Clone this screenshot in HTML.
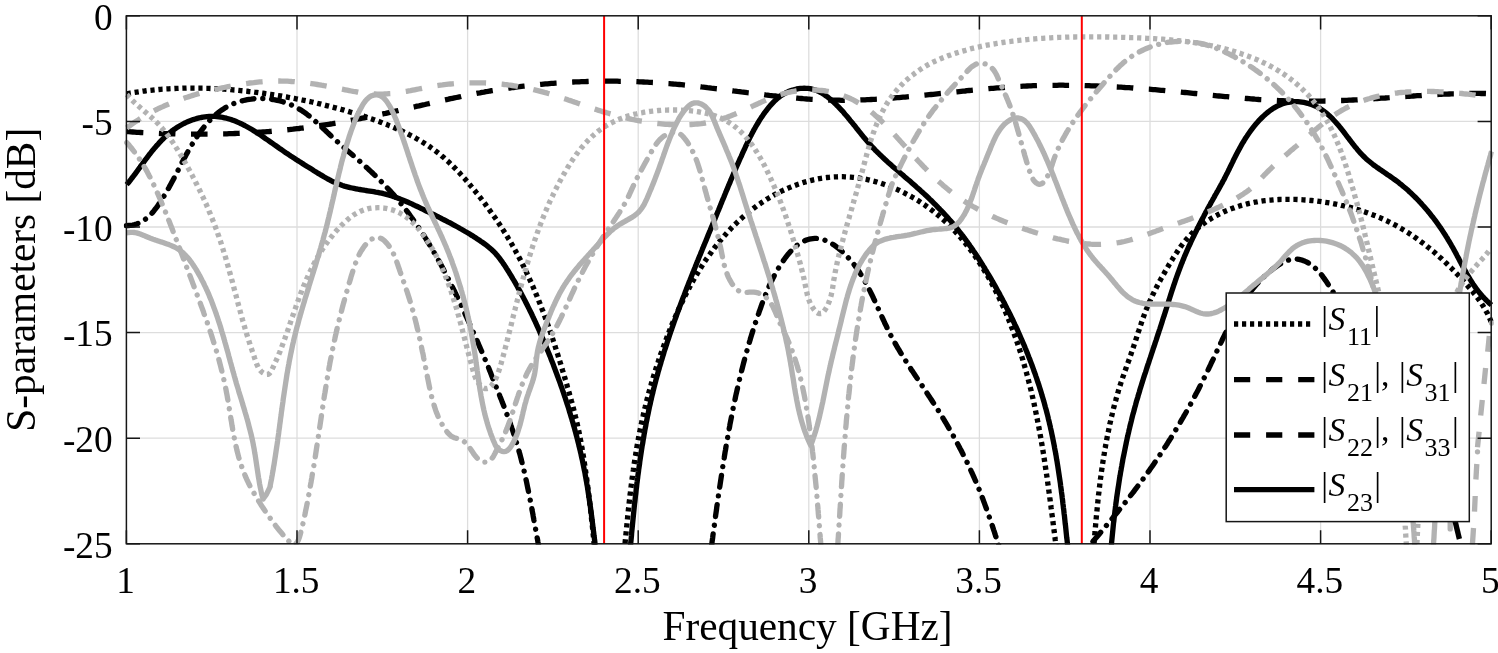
<!DOCTYPE html>
<html lang="en">
<head>
<meta charset="utf-8">
<title>S-parameters</title>
<style>
html,body{margin:0;padding:0;background:#fff;}
body{width:1498px;height:653px;overflow:hidden;}
svg{display:block;}
</style>
</head>
<body>
<svg width="1498" height="653" viewBox="0 0 1498 653">
<defs><clipPath id="pc"><rect x="123.8" y="14.8" width="1370.0" height="529.6"/></clipPath></defs>
<rect x="0" y="0" width="1498" height="653" fill="#fff"/>
<path d="M297.0 15.8V543.8 M467.6 15.8V543.8 M638.2 15.8V543.8 M808.8 15.8V543.8 M979.4 15.8V543.8 M1150.0 15.8V543.8 M1320.6 15.8V543.8 M126.4 121.4H1491.2 M126.4 227.0H1491.2 M126.4 332.6H1491.2 M126.4 438.2H1491.2" stroke="#dddddd" stroke-width="1.3" fill="none"/>
<g clip-path="url(#pc)">
<path d="M126.7 93.7 L128.7 93.4 L130.7 93.0 L132.7 92.7 L134.7 92.4 L136.7 92.1 L138.7 91.8 L140.7 91.5 L142.7 91.2 L144.7 91.0 L146.7 90.7 L148.7 90.5 L150.7 90.3 L152.7 90.1 L154.7 89.9 L156.7 89.7 L158.7 89.5 L160.7 89.3 L162.7 89.2 L164.7 89.0 L166.7 88.9 L168.7 88.8 L170.7 88.7 L172.7 88.6 L174.7 88.5 L176.7 88.4 L178.7 88.3 L180.7 88.3 L182.7 88.2 L184.7 88.2 L186.7 88.1 L188.7 88.1 L190.7 88.1 L192.7 88.1 L194.7 88.1 L196.7 88.1 L198.7 88.1 L200.7 88.2 L202.7 88.2 L204.7 88.3 L206.7 88.3 L208.7 88.4 L210.7 88.5 L212.7 88.6 L214.7 88.6 L216.7 88.7 L218.7 88.9 L220.7 89.0 L222.7 89.1 L224.7 89.2 L226.7 89.4 L228.7 89.5 L230.7 89.7 L232.7 89.9 L234.7 90.0 L236.7 90.2 L238.7 90.4 L240.7 90.6 L242.7 90.8 L244.6 91.0 L246.6 91.2 L248.6 91.5 L250.6 91.7 L252.6 91.9 L254.6 92.2 L256.6 92.4 L258.6 92.7 L260.6 92.9 L262.6 93.2 L264.6 93.5 L266.5 93.8 L268.5 94.1 L270.5 94.4 L272.5 94.7 L274.5 95.0 L276.5 95.3 L278.4 95.6 L280.4 95.9 L282.4 96.3 L284.4 96.6 L286.4 96.9 L288.3 97.3 L290.3 97.7 L292.3 98.0 L294.3 98.4 L296.2 98.8 L298.2 99.2 L300.2 99.6 L302.1 100.0 L304.1 100.4 L306.1 100.8 L308.0 101.2 L310.0 101.6 L312.0 102.0 L313.9 102.5 L315.9 102.9 L317.8 103.4 L319.8 103.8 L321.7 104.3 L323.7 104.8 L325.6 105.3 L327.6 105.8 L329.5 106.3 L331.5 106.8 L333.4 107.3 L335.4 107.8 L337.3 108.3 L339.2 108.8 L341.2 109.4 L343.1 109.9 L345.0 110.5 L347.0 111.0 L348.9 111.6 L350.8 112.2 L352.8 112.8 L354.7 113.4 L356.6 114.0 L358.5 114.6 L360.4 115.2 L362.3 115.8 L364.3 116.4 L366.2 117.1 L368.1 117.7 L370.0 118.4 L371.9 119.0 L373.8 119.7 L375.7 120.4 L377.6 121.0 L379.5 121.7 L381.3 122.4 L383.2 123.2 L385.1 123.9 L387.0 124.6 L388.8 125.4 L390.7 126.1 L392.5 126.9 L394.4 127.7 L396.2 128.5 L398.1 129.3 L399.9 130.1 L401.7 131.0 L403.5 131.8 L405.3 132.7 L407.1 133.6 L408.9 134.5 L410.6 135.4 L412.4 136.3 L414.2 137.2 L415.9 138.2 L417.6 139.2 L419.3 140.2 L421.0 141.2 L422.7 142.2 L424.4 143.3 L426.1 144.4 L427.8 145.4 L429.4 146.5 L431.0 147.7 L432.6 148.8 L434.2 150.0 L435.8 151.2 L437.4 152.4 L439.0 153.6 L440.5 154.9 L442.0 156.2 L443.6 157.4 L445.1 158.8 L446.5 160.1 L448.0 161.4 L449.5 162.8 L450.9 164.2 L452.4 165.6 L453.8 167.0 L455.2 168.4 L456.6 169.9 L458.0 171.3 L459.4 172.8 L460.7 174.3 L462.1 175.8 L463.4 177.3 L464.8 178.8 L466.1 180.3 L467.4 181.8 L468.7 183.4 L470.0 184.9 L471.3 186.5 L472.6 188.0 L473.9 189.6 L475.2 191.2 L476.4 192.8 L477.7 194.3 L478.9 195.9 L480.2 197.5 L481.4 199.1 L482.6 200.7 L483.9 202.3 L485.1 203.9 L486.3 205.6 L487.5 207.2 L488.7 208.8 L489.8 210.4 L491.0 212.1 L492.2 213.7 L493.3 215.3 L494.5 217.0 L495.6 218.6 L496.8 220.3 L497.9 222.0 L499.0 223.6 L500.1 225.3 L501.2 227.0 L502.3 228.7 L503.4 230.4 L504.4 232.1 L505.5 233.7 L506.6 235.5 L507.6 237.2 L508.6 238.9 L509.7 240.6 L510.7 242.3 L511.7 244.0 L512.7 245.8 L513.7 247.5 L514.6 249.3 L515.6 251.0 L516.5 252.8 L517.5 254.5 L518.4 256.3 L519.4 258.1 L520.3 259.8 L521.2 261.6 L522.1 263.4 L523.0 265.2 L523.9 267.0 L524.8 268.8 L525.6 270.6 L526.5 272.4 L527.3 274.2 L528.2 276.0 L529.0 277.8 L529.8 279.6 L530.7 281.5 L531.5 283.3 L532.3 285.1 L533.1 287.0 L533.9 288.8 L534.7 290.6 L535.4 292.5 L536.2 294.3 L537.0 296.2 L537.7 298.0 L538.5 299.9 L539.2 301.8 L540.0 303.6 L540.7 305.5 L541.4 307.4 L542.1 309.2 L542.9 311.1 L543.6 313.0 L544.3 314.9 L545.0 316.8 L545.6 318.6 L546.3 320.5 L547.0 322.4 L547.7 324.3 L548.4 326.2 L549.0 328.1 L549.7 330.0 L550.3 331.9 L551.0 333.8 L551.6 335.7 L552.3 337.6 L552.9 339.5 L553.5 341.4 L554.2 343.3 L554.8 345.2 L555.4 347.2 L556.0 349.1 L556.6 351.0 L557.2 352.9 L557.8 354.8 L558.4 356.7 L559.0 358.7 L559.6 360.6 L560.2 362.5 L560.8 364.4 L561.4 366.3 L562.0 368.3 L562.5 370.2 L563.1 372.1 L563.7 374.0 L564.3 375.9 L564.8 377.9 L565.4 379.8 L566.0 381.7 L566.5 383.6 L567.1 385.6 L567.6 387.5 L568.2 389.4 L568.7 391.3 L569.3 393.3 L569.8 395.2 L570.4 397.1 L570.9 399.0 L571.4 401.0 L572.0 402.9 L572.5 404.8 L573.0 406.7 L573.5 408.7 L574.0 410.6 L574.5 412.5 L575.0 414.5 L575.4 416.4 L575.9 418.4 L576.4 420.3 L576.8 422.3 L577.3 424.2 L577.7 426.2 L578.1 428.1 L578.6 430.1 L579.0 432.0 L579.4 434.0 L579.8 435.9 L580.1 437.9 L580.5 439.9 L580.9 441.8 L581.2 443.8 L581.6 445.8 L581.9 447.8 L582.3 449.7 L582.6 451.7 L582.9 453.7 L583.3 455.7 L583.6 457.7 L583.9 459.6 L584.2 461.6 L584.5 463.6 L584.8 465.6 L585.1 467.6 L585.4 469.6 L585.7 471.6 L585.9 473.6 L586.2 475.5 L586.5 477.5 L586.8 479.5 L587.0 481.5 L587.3 483.5 L587.6 485.5 L587.8 487.5 L588.1 489.5 L588.3 491.5 L588.6 493.5 L588.8 495.5 L589.1 497.5 L589.3 499.4 L589.6 501.4 L589.8 503.4 L590.1 505.4 L590.3 507.4 L590.5 509.4 L590.8 511.4 L591.0 513.4 L591.2 515.4 L591.4 517.4 L591.6 519.4 L591.9 521.4 L592.1 523.4 L592.3 525.4 L592.5 527.4 L592.7 529.4 L592.9 531.4 L593.1 533.4 L593.3 535.4 L593.5 537.3 L593.7 539.3 L593.8 541.3 L594.0 543.3 L594.2 545.3 L594.4 547.3 L594.5 549.3 L594.7 551.3 L594.9 553.3 L595.0 555.3 L595.2 557.3 L595.3 559.3 L595.5 561.3 L595.6 563.3 L595.7 565.3 L595.9 567.3 L596.0 569.3 L596.1 571.3 L596.3 573.3 L596.4 575.3 M622.1 575.3 L622.2 573.3 L622.4 571.3 L622.6 569.3 L622.8 567.3 L623.0 565.3 L623.2 563.3 L623.4 561.4 L623.6 559.4 L623.7 557.4 L623.9 555.4 L624.1 553.4 L624.3 551.4 L624.5 549.4 L624.7 547.4 L624.9 545.4 L625.1 543.4 L625.2 541.4 L625.4 539.4 L625.6 537.4 L625.8 535.4 L626.0 533.4 L626.2 531.4 L626.4 529.4 L626.6 527.4 L626.8 525.4 L627.0 523.4 L627.2 521.5 L627.4 519.5 L627.6 517.5 L627.8 515.5 L628.0 513.5 L628.2 511.5 L628.4 509.5 L628.7 507.5 L628.9 505.5 L629.1 503.5 L629.3 501.5 L629.6 499.5 L629.8 497.5 L630.0 495.5 L630.3 493.5 L630.5 491.5 L630.7 489.5 L631.0 487.5 L631.2 485.5 L631.5 483.5 L631.7 481.5 L632.0 479.5 L632.3 477.5 L632.5 475.5 L632.8 473.5 L633.1 471.6 L633.4 469.6 L633.6 467.6 L633.9 465.6 L634.2 463.6 L634.5 461.6 L634.8 459.6 L635.1 457.7 L635.5 455.7 L635.8 453.7 L636.1 451.7 L636.4 449.7 L636.8 447.8 L637.1 445.8 L637.5 443.8 L637.8 441.8 L638.2 439.9 L638.5 437.9 L638.9 435.9 L639.3 433.9 L639.7 432.0 L640.1 430.0 L640.5 428.1 L640.9 426.1 L641.3 424.1 L641.7 422.2 L642.1 420.2 L642.5 418.3 L643.0 416.3 L643.4 414.4 L643.9 412.4 L644.3 410.5 L644.8 408.5 L645.3 406.6 L645.7 404.6 L646.2 402.7 L646.7 400.8 L647.2 398.8 L647.7 396.9 L648.2 395.0 L648.7 393.0 L649.3 391.1 L649.8 389.2 L650.3 387.2 L650.9 385.3 L651.4 383.4 L652.0 381.5 L652.6 379.6 L653.1 377.7 L653.7 375.7 L654.3 373.8 L654.9 371.9 L655.5 370.0 L656.1 368.1 L656.7 366.2 L657.3 364.3 L658.0 362.4 L658.6 360.5 L659.2 358.6 L659.9 356.7 L660.5 354.8 L661.2 353.0 L661.9 351.1 L662.5 349.2 L663.2 347.3 L663.9 345.4 L664.6 343.6 L665.3 341.7 L666.0 339.8 L666.7 337.9 L667.4 336.1 L668.1 334.2 L668.9 332.4 L669.6 330.5 L670.3 328.6 L671.1 326.8 L671.8 324.9 L672.6 323.1 L673.4 321.2 L674.2 319.4 L675.0 317.6 L675.8 315.7 L676.6 313.9 L677.4 312.1 L678.2 310.2 L679.0 308.4 L679.9 306.6 L680.7 304.8 L681.6 303.0 L682.5 301.2 L683.3 299.4 L684.2 297.6 L685.1 295.8 L686.0 294.0 L686.9 292.2 L687.9 290.4 L688.8 288.6 L689.8 286.8 L690.7 285.1 L691.7 283.3 L692.7 281.5 L693.6 279.8 L694.6 278.0 L695.6 276.3 L696.7 274.6 L697.7 272.8 L698.7 271.1 L699.8 269.4 L700.9 267.7 L701.9 266.0 L703.0 264.3 L704.1 262.6 L705.2 260.9 L706.3 259.2 L707.5 257.6 L708.6 255.9 L709.8 254.3 L711.0 252.7 L712.1 251.0 L713.3 249.4 L714.5 247.8 L715.8 246.2 L717.0 244.6 L718.2 243.1 L719.5 241.5 L720.8 240.0 L722.1 238.4 L723.4 236.9 L724.7 235.4 L726.0 233.9 L727.3 232.4 L728.7 230.9 L730.1 229.5 L731.4 228.0 L732.8 226.6 L734.2 225.2 L735.7 223.8 L737.1 222.4 L738.6 221.0 L740.0 219.6 L741.5 218.3 L743.0 216.9 L744.5 215.6 L746.0 214.3 L747.6 213.0 L749.1 211.8 L750.7 210.5 L752.3 209.3 L753.9 208.1 L755.5 206.9 L757.1 205.7 L758.8 204.5 L760.5 203.4 L762.1 202.3 L763.8 201.2 L765.5 200.1 L767.2 199.0 L769.0 197.9 L770.7 196.9 L772.5 195.9 L774.2 194.9 L776.0 194.0 L777.8 193.0 L779.6 192.1 L781.4 191.2 L783.2 190.3 L785.0 189.5 L786.9 188.7 L788.7 187.9 L790.6 187.1 L792.5 186.3 L794.3 185.6 L796.2 184.9 L798.1 184.2 L800.0 183.6 L801.9 183.0 L803.8 182.4 L805.7 181.8 L807.6 181.3 L809.6 180.8 L811.5 180.3 L813.4 179.8 L815.4 179.4 L817.3 179.0 L819.3 178.6 L821.2 178.3 L823.2 178.0 L825.2 177.7 L827.1 177.5 L829.1 177.3 L831.1 177.1 L833.0 176.9 L835.0 176.8 L837.0 176.8 L838.9 176.7 L840.9 176.7 L842.9 176.7 L844.9 176.8 L846.8 176.9 L848.8 177.0 L850.8 177.1 L852.8 177.3 L854.7 177.5 L856.7 177.8 L858.7 178.0 L860.6 178.3 L862.6 178.7 L864.5 179.0 L866.5 179.4 L868.4 179.8 L870.4 180.3 L872.3 180.8 L874.3 181.3 L876.2 181.8 L878.1 182.4 L880.0 182.9 L882.0 183.6 L883.9 184.2 L885.8 184.9 L887.6 185.5 L889.5 186.3 L891.4 187.0 L893.3 187.8 L895.1 188.6 L897.0 189.4 L898.8 190.2 L900.7 191.1 L902.5 191.9 L904.3 192.8 L906.1 193.8 L907.9 194.7 L909.7 195.7 L911.5 196.7 L913.2 197.7 L915.0 198.7 L916.7 199.8 L918.4 200.8 L920.1 201.9 L921.8 203.0 L923.5 204.2 L925.2 205.3 L926.8 206.5 L928.5 207.7 L930.1 208.9 L931.7 210.1 L933.3 211.3 L934.9 212.6 L936.4 213.8 L938.0 215.1 L939.5 216.4 L941.0 217.7 L942.5 219.1 L944.0 220.4 L945.5 221.8 L947.0 223.1 L948.4 224.5 L949.8 225.9 L951.2 227.4 L952.6 228.8 L954.0 230.2 L955.4 231.7 L956.7 233.2 L958.1 234.6 L959.4 236.1 L960.7 237.6 L962.0 239.2 L963.3 240.7 L964.6 242.2 L965.8 243.8 L967.0 245.4 L968.3 247.0 L969.5 248.5 L970.7 250.1 L971.9 251.8 L973.1 253.4 L974.2 255.0 L975.4 256.7 L976.5 258.3 L977.6 260.0 L978.7 261.6 L979.8 263.3 L980.9 265.0 L982.0 266.7 L983.1 268.4 L984.1 270.1 L985.1 271.8 L986.2 273.6 L987.2 275.3 L988.2 277.0 L989.2 278.8 L990.2 280.6 L991.1 282.3 L992.1 284.1 L993.0 285.9 L994.0 287.6 L994.9 289.4 L995.8 291.2 L996.7 293.0 L997.6 294.8 L998.5 296.6 L999.4 298.5 L1000.2 300.3 L1001.1 302.1 L1001.9 303.9 L1002.7 305.8 L1003.6 307.6 L1004.4 309.4 L1005.2 311.3 L1006.0 313.1 L1006.7 315.0 L1007.5 316.8 L1008.3 318.7 L1009.0 320.5 L1009.8 322.4 L1010.5 324.2 L1011.2 326.1 L1011.9 328.0 L1012.7 329.8 L1013.4 331.7 L1014.0 333.6 L1014.7 335.5 L1015.4 337.3 L1016.1 339.2 L1016.7 341.1 L1017.4 343.0 L1018.0 344.9 L1018.6 346.8 L1019.3 348.7 L1019.9 350.6 L1020.5 352.5 L1021.1 354.4 L1021.7 356.3 L1022.3 358.2 L1022.9 360.1 L1023.4 362.0 L1024.0 364.0 L1024.5 365.9 L1025.1 367.8 L1025.6 369.7 L1026.2 371.7 L1026.7 373.6 L1027.2 375.5 L1027.7 377.4 L1028.2 379.4 L1028.7 381.3 L1029.2 383.3 L1029.7 385.2 L1030.2 387.1 L1030.7 389.1 L1031.2 391.0 L1031.6 393.0 L1032.1 394.9 L1032.5 396.9 L1033.0 398.8 L1033.4 400.8 L1033.9 402.7 L1034.3 404.7 L1034.7 406.7 L1035.1 408.6 L1035.5 410.6 L1035.9 412.5 L1036.3 414.5 L1036.7 416.5 L1037.1 418.4 L1037.5 420.4 L1037.9 422.4 L1038.3 424.3 L1038.7 426.3 L1039.0 428.3 L1039.4 430.3 L1039.8 432.2 L1040.1 434.2 L1040.5 436.2 L1040.8 438.2 L1041.2 440.2 L1041.5 442.1 L1041.8 444.1 L1042.2 446.1 L1042.5 448.1 L1042.8 450.1 L1043.2 452.1 L1043.5 454.0 L1043.8 456.0 L1044.1 458.0 L1044.4 460.0 L1044.7 462.0 L1045.0 464.0 L1045.3 466.0 L1045.6 468.0 L1045.9 470.0 L1046.2 471.9 L1046.5 473.9 L1046.8 475.9 L1047.1 477.9 L1047.4 479.9 L1047.6 481.9 L1047.9 483.9 L1048.2 485.9 L1048.5 487.9 L1048.7 489.9 L1049.0 491.9 L1049.3 493.9 L1049.6 495.9 L1049.8 497.8 L1050.1 499.8 L1050.3 501.8 L1050.6 503.8 L1050.9 505.8 L1051.1 507.8 L1051.4 509.8 L1051.6 511.8 L1051.9 513.8 L1052.2 515.8 L1052.4 517.8 L1052.7 519.8 L1052.9 521.7 L1053.2 523.7 L1053.4 525.7 L1053.7 527.7 L1054.0 529.7 L1054.2 531.7 L1054.5 533.7 L1054.7 535.7 L1055.0 537.6 L1055.2 539.6 L1055.5 541.6 L1055.7 543.6 L1056.0 545.6 L1056.2 547.6 L1056.5 549.5 L1056.8 551.5 L1057.0 553.5 L1057.3 555.5 L1057.5 557.4 L1057.8 559.4 L1058.1 561.4 L1058.3 563.4 L1058.6 565.3 L1058.9 567.3 L1059.1 569.3 L1059.4 571.2 L1059.7 573.2 L1060.0 575.2 M1091.8 575.3 L1091.9 573.3 L1092.0 571.3 L1092.2 569.3 L1092.3 567.3 L1092.5 565.3 L1092.6 563.3 L1092.8 561.3 L1092.9 559.3 L1093.0 557.3 L1093.2 555.3 L1093.3 553.3 L1093.5 551.3 L1093.6 549.3 L1093.8 547.3 L1093.9 545.3 L1094.1 543.3 L1094.2 541.3 L1094.4 539.3 L1094.6 537.3 L1094.7 535.3 L1094.9 533.3 L1095.1 531.3 L1095.2 529.3 L1095.4 527.3 L1095.6 525.3 L1095.7 523.3 L1095.9 521.3 L1096.1 519.2 L1096.3 517.2 L1096.5 515.2 L1096.7 513.2 L1096.9 511.2 L1097.1 509.2 L1097.3 507.2 L1097.5 505.2 L1097.7 503.2 L1097.9 501.2 L1098.1 499.2 L1098.3 497.2 L1098.5 495.2 L1098.8 493.2 L1099.0 491.2 L1099.2 489.2 L1099.5 487.2 L1099.7 485.2 L1099.9 483.2 L1100.2 481.3 L1100.4 479.3 L1100.7 477.3 L1101.0 475.3 L1101.2 473.3 L1101.5 471.3 L1101.8 469.3 L1102.1 467.3 L1102.4 465.3 L1102.7 463.3 L1103.0 461.3 L1103.3 459.4 L1103.6 457.4 L1103.9 455.4 L1104.3 453.4 L1104.6 451.4 L1104.9 449.4 L1105.3 447.5 L1105.6 445.5 L1106.0 443.5 L1106.3 441.5 L1106.7 439.6 L1107.1 437.6 L1107.5 435.6 L1107.9 433.7 L1108.3 431.7 L1108.7 429.7 L1109.1 427.8 L1109.5 425.8 L1109.9 423.8 L1110.4 421.9 L1110.8 419.9 L1111.2 418.0 L1111.7 416.0 L1112.2 414.1 L1112.6 412.1 L1113.1 410.2 L1113.6 408.2 L1114.1 406.3 L1114.6 404.3 L1115.1 402.4 L1115.7 400.5 L1116.2 398.5 L1116.8 396.6 L1117.3 394.7 L1117.9 392.8 L1118.4 390.8 L1119.0 388.9 L1119.6 387.0 L1120.2 385.1 L1120.8 383.2 L1121.5 381.3 L1122.1 379.4 L1122.7 377.5 L1123.4 375.6 L1124.1 373.7 L1124.7 371.8 L1125.4 369.9 L1126.1 368.0 L1126.7 366.2 L1127.4 364.3 L1128.1 362.4 L1128.8 360.5 L1129.5 358.6 L1130.1 356.7 L1130.8 354.8 L1131.4 352.9 L1132.1 351.0 L1132.7 349.1 L1133.4 347.2 L1134.0 345.3 L1134.6 343.4 L1135.3 341.5 L1135.9 339.6 L1136.5 337.7 L1137.1 335.8 L1137.7 333.9 L1138.3 332.0 L1139.0 330.1 L1139.6 328.2 L1140.2 326.3 L1140.9 324.4 L1141.5 322.5 L1142.2 320.6 L1142.8 318.7 L1143.5 316.8 L1144.2 314.9 L1144.9 313.0 L1145.6 311.2 L1146.3 309.3 L1147.1 307.5 L1147.9 305.6 L1148.6 303.8 L1149.4 301.9 L1150.3 300.1 L1151.1 298.3 L1151.9 296.5 L1152.8 294.7 L1153.7 292.9 L1154.6 291.1 L1155.5 289.3 L1156.4 287.5 L1157.3 285.7 L1158.3 283.9 L1159.2 282.2 L1160.2 280.4 L1161.1 278.6 L1162.1 276.9 L1163.1 275.1 L1164.1 273.4 L1165.1 271.6 L1166.1 269.9 L1167.1 268.1 L1168.1 266.4 L1169.1 264.6 L1170.2 262.9 L1171.2 261.2 L1172.3 259.5 L1173.3 257.7 L1174.4 256.0 L1175.5 254.3 L1176.6 252.7 L1177.7 251.0 L1178.8 249.3 L1180.0 247.7 L1181.1 246.1 L1182.3 244.5 L1183.5 242.9 L1184.8 241.4 L1186.1 239.8 L1187.4 238.3 L1188.7 236.8 L1190.1 235.4 L1191.4 233.9 L1192.9 232.5 L1194.3 231.2 L1195.8 229.8 L1197.3 228.5 L1198.9 227.2 L1200.4 226.0 L1202.0 224.7 L1203.6 223.6 L1205.3 222.4 L1206.9 221.2 L1208.6 220.1 L1210.3 219.1 L1212.0 218.0 L1213.8 217.0 L1215.5 216.0 L1217.3 215.1 L1219.1 214.1 L1220.9 213.2 L1222.7 212.4 L1224.5 211.5 L1226.4 210.7 L1228.2 210.0 L1230.1 209.2 L1231.9 208.5 L1233.8 207.9 L1235.7 207.2 L1237.6 206.6 L1239.5 206.0 L1241.4 205.4 L1243.3 204.9 L1245.3 204.4 L1247.2 203.9 L1249.2 203.4 L1251.1 203.0 L1253.1 202.6 L1255.0 202.2 L1257.0 201.9 L1259.0 201.5 L1261.0 201.2 L1262.9 200.9 L1264.9 200.7 L1266.9 200.5 L1268.9 200.2 L1270.9 200.1 L1272.9 199.9 L1275.0 199.7 L1277.0 199.6 L1279.0 199.5 L1281.0 199.4 L1283.0 199.4 L1285.1 199.3 L1287.1 199.3 L1289.1 199.3 L1291.1 199.3 L1293.2 199.4 L1295.2 199.4 L1297.2 199.5 L1299.2 199.6 L1301.3 199.7 L1303.3 199.8 L1305.3 200.0 L1307.3 200.1 L1309.4 200.3 L1311.4 200.5 L1313.4 200.7 L1315.4 200.9 L1317.4 201.2 L1319.4 201.4 L1321.4 201.7 L1323.4 202.0 L1325.4 202.3 L1327.4 202.6 L1329.4 202.9 L1331.4 203.3 L1333.4 203.7 L1335.3 204.0 L1337.3 204.4 L1339.3 204.8 L1341.2 205.3 L1343.2 205.7 L1345.1 206.2 L1347.1 206.7 L1349.0 207.2 L1351.0 207.7 L1352.9 208.2 L1354.8 208.8 L1356.7 209.3 L1358.7 209.9 L1360.6 210.5 L1362.5 211.1 L1364.4 211.7 L1366.2 212.4 L1368.1 213.1 L1370.0 213.8 L1371.9 214.5 L1373.7 215.2 L1375.6 215.9 L1377.4 216.7 L1379.3 217.4 L1381.1 218.2 L1382.9 219.0 L1384.7 219.9 L1386.5 220.7 L1388.3 221.6 L1390.1 222.5 L1391.9 223.4 L1393.7 224.3 L1395.4 225.2 L1397.2 226.2 L1398.9 227.2 L1400.7 228.2 L1402.4 229.2 L1404.1 230.2 L1405.8 231.3 L1407.5 232.3 L1409.2 233.4 L1410.9 234.5 L1412.5 235.6 L1414.2 236.8 L1415.9 237.9 L1417.5 239.1 L1419.1 240.3 L1420.7 241.5 L1422.4 242.7 L1424.0 243.9 L1425.6 245.1 L1427.1 246.4 L1428.7 247.7 L1430.3 248.9 L1431.8 250.2 L1433.4 251.5 L1434.9 252.8 L1436.4 254.2 L1438.0 255.5 L1439.5 256.9 L1441.0 258.2 L1442.4 259.6 L1443.9 261.0 L1445.4 262.4 L1446.9 263.8 L1448.3 265.2 L1449.7 266.6 L1451.2 268.0 L1452.6 269.5 L1454.0 270.9 L1455.4 272.4 L1456.8 273.8 L1458.2 275.3 L1459.6 276.8 L1460.9 278.3 L1462.3 279.8 L1463.6 281.2 L1465.0 282.7 L1466.3 284.2 L1467.6 285.7 L1468.9 287.3 L1470.2 288.8 L1471.5 290.3 L1472.8 291.8 L1474.0 293.4 L1475.3 294.9 L1476.5 296.5 L1477.7 298.1 L1478.9 299.7 L1480.0 301.3 L1481.1 302.9 L1482.2 304.6 L1483.3 306.3 L1484.3 308.0 L1485.4 309.7 L1486.3 311.5 L1487.3 313.2 L1488.2 315.0 L1489.0 316.9 L1489.9 318.7 L1490.6 320.6 L1491.4 322.6" fill="none" stroke="#000" stroke-width="5.33" stroke-linejoin="round" stroke-dasharray="4.2 3.8"/>
<path d="M126.8 131.6 L128.8 131.7 L130.8 131.9 L132.8 132.0 L134.8 132.1 L136.8 132.3 L138.8 132.4 L140.8 132.5 L142.8 132.6 L144.8 132.7 L146.8 132.8 L148.8 132.9 L150.8 133.0 L152.8 133.1 L154.8 133.2 L156.8 133.3 L158.8 133.4 L160.8 133.5 L162.8 133.6 L164.8 133.6 L166.8 133.7 L168.8 133.8 L170.9 133.8 L172.9 133.9 L174.9 133.9 L176.9 134.0 L178.9 134.0 L180.9 134.1 L182.9 134.1 L184.9 134.1 L186.9 134.2 L188.9 134.2 L190.9 134.2 L192.9 134.2 L194.9 134.2 L196.9 134.2 L198.9 134.2 L201.0 134.2 L203.0 134.2 L205.0 134.2 L207.0 134.2 L209.0 134.2 L211.0 134.2 L213.0 134.1 L215.0 134.1 L217.0 134.1 L219.0 134.0 L221.0 134.0 L223.0 133.9 L225.0 133.9 L227.0 133.8 L229.0 133.7 L231.0 133.7 L233.0 133.6 L235.0 133.5 L237.0 133.4 L239.1 133.3 L241.1 133.2 L243.1 133.2 L245.1 133.0 L247.1 132.9 L249.1 132.8 L251.1 132.7 L253.1 132.6 L255.1 132.5 L257.1 132.3 L259.1 132.2 L261.1 132.1 L263.1 131.9 L265.1 131.8 L267.1 131.6 L269.1 131.5 L271.1 131.3 L273.1 131.1 L275.0 131.0 L277.0 130.8 L279.0 130.6 L281.0 130.4 L283.0 130.2 L285.0 130.0 L287.0 129.8 L289.0 129.6 L291.0 129.4 L293.0 129.2 L295.0 128.9 L297.0 128.7 L299.0 128.5 L300.9 128.2 L302.9 128.0 L304.9 127.7 L306.9 127.5 L308.9 127.2 L310.9 127.0 L312.9 126.7 L314.9 126.4 L316.8 126.1 L318.8 125.8 L320.8 125.5 L322.8 125.2 L324.8 124.9 L326.7 124.6 L328.7 124.3 L330.7 124.0 L332.7 123.7 L334.7 123.3 L336.6 123.0 L338.6 122.7 L340.6 122.3 L342.5 122.0 L344.5 121.6 L346.5 121.2 L348.5 120.9 L350.4 120.5 L352.4 120.1 L354.4 119.8 L356.3 119.4 L358.3 119.0 L360.3 118.6 L362.2 118.2 L364.2 117.8 L366.2 117.4 L368.1 117.0 L370.1 116.6 L372.1 116.2 L374.0 115.8 L376.0 115.4 L378.0 115.0 L379.9 114.5 L381.9 114.1 L383.9 113.7 L385.8 113.3 L387.8 112.8 L389.7 112.4 L391.7 112.0 L393.7 111.5 L395.6 111.1 L397.6 110.7 L399.5 110.2 L401.5 109.8 L403.5 109.3 L405.4 108.9 L407.4 108.5 L409.3 108.0 L411.3 107.6 L413.3 107.1 L415.2 106.7 L417.2 106.2 L419.1 105.8 L421.1 105.3 L423.1 104.9 L425.0 104.5 L427.0 104.0 L428.9 103.6 L430.9 103.1 L432.9 102.7 L434.8 102.2 L436.8 101.8 L438.7 101.3 L440.7 100.9 L442.7 100.5 L444.6 100.0 L446.6 99.6 L448.6 99.2 L450.5 98.7 L452.5 98.3 L454.4 97.9 L456.4 97.5 L458.4 97.1 L460.3 96.7 L462.3 96.2 L464.3 95.8 L466.2 95.4 L468.2 95.1 L470.2 94.7 L472.1 94.3 L474.1 93.9 L476.1 93.5 L478.0 93.1 L480.0 92.8 L482.0 92.4 L484.0 92.1 L485.9 91.7 L487.9 91.4 L489.9 91.0 L491.9 90.7 L493.8 90.4 L495.8 90.1 L497.8 89.8 L499.8 89.5 L501.7 89.2 L503.7 88.9 L505.7 88.6 L507.7 88.3 L509.7 88.0 L511.6 87.7 L513.6 87.5 L515.6 87.2 L517.6 86.9 L519.6 86.7 L521.6 86.4 L523.6 86.2 L525.5 86.0 L527.5 85.7 L529.5 85.5 L531.5 85.3 L533.5 85.1 L535.5 84.9 L537.5 84.7 L539.5 84.5 L541.4 84.3 L543.4 84.1 L545.4 83.9 L547.4 83.8 L549.4 83.6 L551.4 83.4 L553.4 83.3 L555.4 83.1 L557.4 83.0 L559.4 82.9 L561.4 82.7 L563.4 82.6 L565.4 82.5 L567.4 82.4 L569.3 82.2 L571.3 82.1 L573.3 82.0 L575.3 81.9 L577.3 81.9 L579.3 81.8 L581.3 81.7 L583.3 81.6 L585.3 81.6 L587.3 81.5 L589.3 81.4 L591.3 81.4 L593.3 81.3 L595.3 81.3 L597.3 81.3 L599.3 81.2 L601.3 81.2 L603.3 81.2 L605.3 81.2 L607.3 81.2 L609.3 81.2 L611.3 81.2 L613.3 81.2 L615.3 81.2 L617.3 81.2 L619.3 81.3 L621.3 81.3 L623.3 81.3 L625.3 81.4 L627.3 81.4 L629.3 81.5 L631.3 81.5 L633.3 81.6 L635.3 81.6 L637.3 81.7 L639.3 81.8 L641.4 81.9 L643.4 82.0 L645.4 82.1 L647.4 82.2 L649.4 82.3 L651.4 82.4 L653.4 82.5 L655.4 82.6 L657.4 82.8 L659.4 82.9 L661.4 83.0 L663.4 83.2 L665.4 83.3 L667.4 83.5 L669.4 83.6 L671.4 83.8 L673.4 84.0 L675.4 84.1 L677.4 84.3 L679.4 84.5 L681.4 84.7 L683.4 84.9 L685.4 85.1 L687.4 85.3 L689.4 85.5 L691.4 85.7 L693.4 85.9 L695.4 86.2 L697.4 86.4 L699.4 86.6 L701.4 86.9 L703.4 87.1 L705.4 87.3 L707.4 87.6 L709.4 87.8 L711.4 88.1 L713.4 88.3 L715.4 88.6 L717.4 88.8 L719.4 89.1 L721.4 89.3 L723.4 89.6 L725.4 89.8 L727.4 90.1 L729.4 90.3 L731.4 90.6 L733.3 90.9 L735.3 91.1 L737.3 91.4 L739.3 91.6 L741.3 91.9 L743.3 92.1 L745.3 92.4 L747.3 92.7 L749.3 92.9 L751.3 93.2 L753.3 93.4 L755.3 93.7 L757.3 93.9 L759.3 94.2 L761.3 94.4 L763.3 94.6 L765.3 94.9 L767.3 95.1 L769.3 95.4 L771.3 95.6 L773.3 95.8 L775.3 96.0 L777.3 96.3 L779.3 96.5 L781.3 96.7 L783.3 96.9 L785.3 97.1 L787.3 97.3 L789.3 97.5 L791.3 97.7 L793.2 97.9 L795.2 98.0 L797.2 98.2 L799.2 98.4 L801.2 98.5 L803.2 98.7 L805.2 98.8 L807.2 99.0 L809.2 99.1 L811.2 99.3 L813.2 99.4 L815.2 99.5 L817.2 99.6 L819.2 99.7 L821.2 99.8 L823.2 99.9 L825.2 99.9 L827.2 100.0 L829.2 100.1 L831.2 100.1 L833.2 100.2 L835.2 100.2 L837.2 100.2 L839.2 100.2 L841.2 100.3 L843.2 100.3 L845.2 100.2 L847.2 100.2 L849.2 100.2 L851.2 100.2 L853.2 100.1 L855.1 100.1 L857.1 100.0 L859.1 100.0 L861.1 99.9 L863.1 99.8 L865.1 99.8 L867.1 99.7 L869.1 99.6 L871.1 99.5 L873.1 99.4 L875.1 99.3 L877.1 99.2 L879.1 99.0 L881.1 98.9 L883.1 98.8 L885.1 98.7 L887.1 98.5 L889.1 98.4 L891.1 98.2 L893.1 98.1 L895.1 97.9 L897.1 97.7 L899.1 97.6 L901.1 97.4 L903.1 97.2 L905.1 97.1 L907.1 96.9 L909.1 96.7 L911.1 96.5 L913.1 96.3 L915.1 96.1 L917.1 95.9 L919.1 95.7 L921.1 95.5 L923.1 95.3 L925.1 95.1 L927.1 94.9 L929.1 94.7 L931.1 94.5 L933.1 94.3 L935.1 94.1 L937.1 93.9 L939.1 93.7 L941.1 93.5 L943.1 93.3 L945.1 93.1 L947.1 92.8 L949.1 92.6 L951.1 92.4 L953.1 92.2 L955.1 92.0 L957.1 91.8 L959.1 91.6 L961.1 91.4 L963.1 91.2 L965.1 91.0 L967.1 90.7 L969.1 90.5 L971.1 90.3 L973.1 90.1 L975.1 89.9 L977.1 89.7 L979.1 89.6 L981.1 89.4 L983.1 89.2 L985.1 89.0 L987.1 88.8 L989.1 88.6 L991.1 88.4 L993.1 88.3 L995.1 88.1 L997.1 87.9 L999.1 87.8 L1001.1 87.6 L1003.1 87.5 L1005.1 87.3 L1007.1 87.2 L1009.1 87.0 L1011.1 86.9 L1013.1 86.8 L1015.1 86.6 L1017.1 86.5 L1019.1 86.4 L1021.1 86.3 L1023.1 86.2 L1025.1 86.1 L1027.1 86.0 L1029.1 85.9 L1031.1 85.8 L1033.1 85.7 L1035.1 85.7 L1037.1 85.6 L1039.1 85.5 L1041.1 85.5 L1043.1 85.4 L1045.1 85.4 L1047.1 85.4 L1049.1 85.3 L1051.1 85.3 L1053.1 85.3 L1055.1 85.3 L1057.1 85.3 L1059.1 85.2 L1061.1 85.2 L1063.1 85.2 L1065.1 85.3 L1067.1 85.3 L1069.1 85.3 L1071.1 85.3 L1073.1 85.3 L1075.1 85.4 L1077.1 85.4 L1079.1 85.4 L1081.1 85.5 L1083.1 85.5 L1085.1 85.6 L1087.1 85.6 L1089.1 85.7 L1091.1 85.8 L1093.1 85.8 L1095.1 85.9 L1097.1 86.0 L1099.1 86.1 L1101.1 86.2 L1103.1 86.3 L1105.1 86.3 L1107.1 86.4 L1109.1 86.5 L1111.1 86.6 L1113.1 86.8 L1115.1 86.9 L1117.1 87.0 L1119.1 87.1 L1121.1 87.2 L1123.1 87.3 L1125.1 87.5 L1127.1 87.6 L1129.1 87.7 L1131.1 87.9 L1133.1 88.0 L1135.1 88.2 L1137.1 88.3 L1139.1 88.5 L1141.1 88.6 L1143.1 88.8 L1145.1 88.9 L1147.1 89.1 L1149.1 89.2 L1151.1 89.4 L1153.1 89.6 L1155.1 89.7 L1157.1 89.9 L1159.1 90.1 L1161.1 90.3 L1163.1 90.4 L1165.1 90.6 L1167.1 90.8 L1169.1 91.0 L1171.1 91.2 L1173.1 91.4 L1175.1 91.5 L1177.1 91.7 L1179.1 91.9 L1181.1 92.1 L1183.1 92.3 L1185.1 92.5 L1187.1 92.7 L1189.1 92.9 L1191.1 93.1 L1193.1 93.3 L1195.1 93.5 L1197.0 93.7 L1199.0 93.9 L1201.0 94.1 L1203.0 94.3 L1205.0 94.6 L1207.0 94.8 L1209.0 95.0 L1211.0 95.2 L1213.0 95.4 L1215.0 95.6 L1217.0 95.8 L1219.0 96.0 L1221.0 96.2 L1223.0 96.4 L1225.0 96.6 L1227.0 96.7 L1229.0 96.9 L1231.0 97.1 L1233.0 97.3 L1235.0 97.5 L1237.0 97.7 L1239.0 97.9 L1241.0 98.0 L1243.0 98.2 L1245.0 98.4 L1247.0 98.5 L1249.0 98.7 L1251.0 98.9 L1253.0 99.0 L1255.0 99.2 L1257.0 99.3 L1259.0 99.5 L1261.0 99.6 L1263.0 99.7 L1265.0 99.8 L1267.0 100.0 L1269.0 100.1 L1271.0 100.2 L1273.0 100.3 L1275.0 100.4 L1277.0 100.5 L1279.0 100.6 L1281.0 100.7 L1283.0 100.7 L1285.0 100.8 L1287.0 100.9 L1289.0 100.9 L1291.0 101.0 L1293.0 101.0 L1295.0 101.1 L1297.0 101.1 L1299.0 101.1 L1301.0 101.2 L1303.0 101.2 L1305.0 101.2 L1307.0 101.2 L1309.0 101.2 L1311.0 101.2 L1313.0 101.2 L1315.0 101.2 L1317.0 101.2 L1319.0 101.1 L1321.0 101.1 L1323.0 101.1 L1325.0 101.0 L1327.0 101.0 L1329.0 100.9 L1331.0 100.9 L1333.0 100.8 L1335.0 100.8 L1337.0 100.7 L1339.0 100.6 L1341.0 100.5 L1343.0 100.5 L1345.0 100.4 L1347.0 100.3 L1349.0 100.2 L1351.0 100.1 L1353.1 100.0 L1355.1 99.9 L1357.1 99.8 L1359.1 99.6 L1361.1 99.5 L1363.1 99.4 L1365.1 99.3 L1367.1 99.2 L1369.1 99.0 L1371.1 98.9 L1373.1 98.8 L1375.1 98.6 L1377.1 98.5 L1379.1 98.4 L1381.1 98.2 L1383.1 98.1 L1385.1 98.0 L1387.1 97.8 L1389.1 97.7 L1391.1 97.5 L1393.1 97.4 L1395.1 97.2 L1397.1 97.1 L1399.1 97.0 L1401.1 96.8 L1403.1 96.7 L1405.1 96.5 L1407.1 96.4 L1409.2 96.3 L1411.2 96.1 L1413.2 96.0 L1415.2 95.8 L1417.2 95.7 L1419.2 95.6 L1421.2 95.5 L1423.2 95.3 L1425.2 95.2 L1427.2 95.1 L1429.2 95.0 L1431.2 94.8 L1433.2 94.7 L1435.2 94.6 L1437.2 94.5 L1439.2 94.4 L1441.2 94.3 L1443.2 94.2 L1445.2 94.1 L1447.2 94.1 L1449.2 94.0 L1451.2 93.9 L1453.2 93.8 L1455.2 93.8 L1457.2 93.7 L1459.2 93.6 L1461.2 93.6 L1463.2 93.6 L1465.3 93.5 L1467.3 93.5 L1469.3 93.5 L1471.3 93.4 L1473.3 93.4 L1475.3 93.4 L1477.3 93.4 L1479.3 93.4 L1481.3 93.5 L1483.3 93.5 L1485.3 93.5 L1487.3 93.6 L1489.3 93.6 L1491.3 93.7" fill="none" stroke="#000" stroke-width="5.33" stroke-linejoin="round" stroke-dasharray="16.57 15.57"/>
<path d="M126.2 225.6 L128.5 225.5 L130.6 225.4 L132.7 225.1 L134.6 224.6 L136.6 224.0 L138.4 223.3 L140.2 222.5 L141.9 221.6 L143.6 220.5 L145.1 219.4 L146.7 218.2 L148.2 216.9 L149.6 215.6 L151.0 214.1 L152.4 212.7 L153.7 211.1 L154.9 209.5 L156.2 207.9 L157.4 206.3 L158.5 204.6 L159.7 202.9 L160.8 201.2 L161.9 199.5 L162.9 197.8 L164.0 196.1 L165.0 194.4 L166.0 192.7 L167.0 191.0 L168.0 189.2 L169.0 187.5 L169.9 185.8 L170.9 184.0 L171.8 182.3 L172.8 180.5 L173.7 178.8 L174.6 177.0 L175.5 175.3 L176.4 173.5 L177.3 171.7 L178.2 170.0 L179.1 168.2 L180.0 166.5 L180.9 164.7 L181.8 162.9 L182.7 161.2 L183.7 159.4 L184.6 157.6 L185.6 155.9 L186.5 154.1 L187.5 152.4 L188.5 150.6 L189.5 148.8 L190.5 147.1 L191.5 145.3 L192.6 143.6 L193.6 141.8 L194.7 140.1 L195.8 138.4 L197.0 136.6 L198.1 134.9 L199.3 133.2 L200.5 131.6 L201.8 129.9 L203.0 128.3 L204.3 126.6 L205.6 125.0 L206.9 123.5 L208.3 122.0 L209.7 120.5 L211.1 119.0 L212.5 117.6 L214.0 116.2 L215.5 114.8 L217.1 113.5 L218.6 112.3 L220.2 111.1 L221.8 110.0 L223.5 108.9 L225.2 107.8 L226.9 106.8 L228.7 105.9 L230.4 105.1 L232.2 104.2 L234.1 103.5 L235.9 102.8 L237.8 102.1 L239.6 101.5 L241.5 101.0 L243.5 100.5 L245.4 100.1 L247.3 99.7 L249.3 99.3 L251.3 99.1 L253.2 98.8 L255.2 98.7 L257.2 98.6 L259.2 98.5 L261.2 98.5 L263.2 98.5 L265.2 98.6 L267.2 98.8 L269.2 99.0 L271.2 99.2 L273.1 99.5 L275.1 99.9 L277.1 100.3 L279.0 100.7 L281.0 101.2 L282.9 101.8 L284.8 102.4 L286.7 103.1 L288.6 103.8 L290.4 104.5 L292.2 105.3 L294.1 106.2 L295.8 107.1 L297.6 108.1 L299.3 109.1 L301.0 110.1 L302.7 111.2 L304.4 112.4 L306.0 113.5 L307.6 114.8 L309.2 116.0 L310.8 117.3 L312.3 118.6 L313.9 119.9 L315.4 121.3 L316.9 122.6 L318.4 124.0 L319.9 125.4 L321.4 126.8 L322.9 128.2 L324.4 129.6 L325.9 131.0 L327.3 132.4 L328.8 133.8 L330.3 135.2 L331.7 136.6 L333.2 138.0 L334.7 139.3 L336.2 140.7 L337.7 142.0 L339.1 143.4 L340.6 144.7 L342.1 146.0 L343.6 147.3 L345.1 148.6 L346.6 149.9 L348.1 151.2 L349.6 152.5 L351.1 153.8 L352.6 155.1 L354.1 156.4 L355.6 157.7 L357.1 159.0 L358.6 160.3 L360.1 161.6 L361.6 163.0 L363.1 164.3 L364.6 165.7 L366.1 167.0 L367.6 168.4 L369.0 169.7 L370.5 171.1 L372.0 172.5 L373.4 173.9 L374.9 175.3 L376.3 176.7 L377.8 178.1 L379.2 179.5 L380.6 180.9 L382.0 182.3 L383.4 183.8 L384.8 185.2 L386.2 186.7 L387.6 188.2 L388.9 189.6 L390.3 191.1 L391.6 192.6 L393.0 194.1 L394.3 195.6 L395.6 197.1 L396.9 198.7 L398.2 200.2 L399.4 201.7 L400.7 203.3 L402.0 204.8 L403.2 206.4 L404.4 208.0 L405.7 209.6 L406.9 211.1 L408.1 212.7 L409.3 214.3 L410.4 215.9 L411.6 217.6 L412.8 219.2 L413.9 220.8 L415.1 222.4 L416.2 224.1 L417.4 225.7 L418.5 227.4 L419.6 229.0 L420.7 230.7 L421.8 232.4 L422.9 234.1 L424.0 235.7 L425.0 237.4 L426.1 239.1 L427.1 240.8 L428.2 242.5 L429.2 244.2 L430.3 246.0 L431.3 247.7 L432.3 249.4 L433.3 251.1 L434.3 252.9 L435.3 254.6 L436.3 256.4 L437.3 258.1 L438.3 259.9 L439.2 261.6 L440.2 263.4 L441.2 265.1 L442.1 266.9 L443.1 268.7 L444.0 270.5 L444.9 272.2 L445.9 274.0 L446.8 275.8 L447.7 277.6 L448.6 279.4 L449.5 281.2 L450.4 283.0 L451.3 284.8 L452.2 286.6 L453.1 288.4 L454.0 290.2 L454.9 292.0 L455.7 293.8 L456.6 295.6 L457.5 297.4 L458.3 299.3 L459.2 301.1 L460.1 302.9 L460.9 304.7 L461.7 306.6 L462.6 308.4 L463.4 310.2 L464.3 312.0 L465.1 313.9 L465.9 315.7 L466.8 317.5 L467.6 319.4 L468.4 321.2 L469.2 323.0 L470.0 324.9 L470.9 326.7 L471.7 328.5 L472.5 330.4 L473.3 332.2 L474.1 334.0 L474.9 335.9 L475.7 337.7 L476.5 339.5 L477.3 341.4 L478.1 343.2 L478.9 345.0 L479.7 346.8 L480.5 348.7 L481.3 350.5 L482.1 352.3 L482.8 354.2 L483.6 356.0 L484.4 357.8 L485.2 359.6 L486.0 361.5 L486.7 363.3 L487.5 365.1 L488.3 367.0 L489.0 368.8 L489.7 370.7 L490.5 372.5 L491.2 374.4 L491.9 376.2 L492.7 378.1 L493.4 380.0 L494.1 381.8 L494.9 383.7 L495.6 385.5 L496.4 387.4 L497.1 389.2 L497.9 391.1 L498.6 393.0 L499.4 394.8 L500.1 396.7 L500.9 398.6 L501.6 400.4 L502.3 402.3 L503.1 404.2 L503.8 406.0 L504.5 407.9 L505.2 409.8 L505.9 411.6 L506.6 413.5 L507.3 415.4 L508.0 417.3 L508.7 419.2 L509.4 421.1 L510.1 422.9 L510.7 424.8 L511.4 426.7 L512.0 428.6 L512.7 430.5 L513.3 432.4 L513.9 434.3 L514.5 436.2 L515.2 438.1 L515.7 440.1 L516.3 442.0 L516.9 443.9 L517.5 445.8 L518.0 447.7 L518.6 449.7 L519.1 451.6 L519.7 453.5 L520.2 455.4 L520.7 457.4 L521.2 459.3 L521.7 461.3 L522.2 463.2 L522.7 465.1 L523.1 467.1 L523.6 469.0 L524.1 471.0 L524.5 472.9 L525.0 474.9 L525.4 476.8 L525.8 478.8 L526.3 480.8 L526.7 482.7 L527.1 484.7 L527.5 486.7 L527.9 488.6 L528.3 490.6 L528.7 492.5 L529.1 494.5 L529.5 496.5 L529.9 498.5 L530.3 500.4 L530.6 502.4 L531.0 504.4 L531.4 506.3 L531.8 508.3 L532.1 510.3 L532.5 512.3 L532.9 514.2 L533.2 516.2 L533.6 518.2 L533.9 520.2 L534.3 522.2 L534.7 524.1 L535.0 526.1 L535.4 528.1 L535.8 530.1 L536.1 532.0 L536.5 534.0 L536.8 536.0 L537.2 538.0 L537.6 539.9 L537.9 541.9 L538.3 543.9 L538.7 545.8 L539.1 547.8 L539.4 549.8 L539.8 551.8 L540.2 553.7 L540.6 555.7 L541.0 557.7 L541.4 559.6 L541.8 561.6 L542.2 563.5 L542.6 565.5 L543.0 567.5 L543.4 569.4 L543.8 571.4 L544.3 573.3 L544.7 575.3 M707.6 575.2 L707.8 573.2 L708.1 571.3 L708.4 569.3 L708.7 567.3 L708.9 565.3 L709.2 563.4 L709.5 561.4 L709.7 559.4 L710.0 557.4 L710.3 555.4 L710.5 553.5 L710.8 551.5 L711.1 549.5 L711.3 547.5 L711.6 545.5 L711.9 543.5 L712.1 541.6 L712.4 539.6 L712.7 537.6 L712.9 535.6 L713.2 533.6 L713.5 531.6 L713.7 529.6 L714.0 527.6 L714.3 525.7 L714.6 523.7 L714.8 521.7 L715.1 519.7 L715.4 517.7 L715.6 515.7 L715.9 513.7 L716.2 511.7 L716.5 509.7 L716.7 507.7 L717.0 505.7 L717.3 503.7 L717.6 501.8 L717.9 499.8 L718.2 497.8 L718.4 495.8 L718.7 493.8 L719.0 491.8 L719.3 489.8 L719.6 487.8 L719.9 485.8 L720.2 483.8 L720.5 481.8 L720.8 479.8 L721.1 477.8 L721.4 475.9 L721.7 473.9 L722.0 471.9 L722.3 469.9 L722.6 467.9 L722.9 465.9 L723.2 463.9 L723.5 461.9 L723.8 459.9 L724.2 457.9 L724.5 455.9 L724.8 454.0 L725.1 452.0 L725.5 450.0 L725.8 448.0 L726.1 446.0 L726.5 444.0 L726.8 442.0 L727.2 440.1 L727.5 438.1 L727.9 436.1 L728.2 434.1 L728.6 432.1 L728.9 430.1 L729.3 428.2 L729.7 426.2 L730.0 424.2 L730.4 422.2 L730.8 420.3 L731.2 418.3 L731.6 416.3 L732.0 414.3 L732.3 412.4 L732.7 410.4 L733.1 408.4 L733.5 406.4 L733.9 404.5 L734.4 402.5 L734.8 400.5 L735.2 398.6 L735.6 396.6 L736.0 394.7 L736.5 392.7 L736.9 390.7 L737.4 388.8 L737.8 386.8 L738.2 384.9 L738.7 382.9 L739.2 380.9 L739.6 379.0 L740.1 377.0 L740.6 375.1 L741.0 373.1 L741.5 371.2 L742.0 369.3 L742.5 367.3 L743.0 365.4 L743.5 363.4 L744.0 361.5 L744.5 359.6 L745.0 357.6 L745.6 355.7 L746.1 353.8 L746.6 351.8 L747.2 349.9 L747.7 348.0 L748.3 346.0 L748.8 344.1 L749.4 342.2 L750.0 340.3 L750.5 338.4 L751.1 336.5 L751.7 334.5 L752.3 332.6 L752.9 330.7 L753.5 328.8 L754.1 326.9 L754.7 325.0 L755.3 323.1 L756.0 321.2 L756.6 319.3 L757.2 317.4 L757.9 315.5 L758.6 313.6 L759.2 311.7 L759.9 309.9 L760.6 308.0 L761.2 306.1 L761.9 304.2 L762.6 302.3 L763.3 300.5 L764.0 298.6 L764.8 296.7 L765.5 294.9 L766.3 293.0 L767.0 291.2 L767.8 289.3 L768.6 287.5 L769.4 285.6 L770.2 283.8 L771.1 282.0 L772.0 280.2 L772.9 278.4 L773.8 276.5 L774.7 274.7 L775.7 273.0 L776.7 271.2 L777.7 269.4 L778.8 267.6 L779.8 265.9 L781.0 264.1 L782.1 262.4 L783.3 260.7 L784.5 259.0 L785.7 257.3 L787.0 255.6 L788.3 254.0 L789.7 252.4 L791.1 250.9 L792.5 249.4 L794.0 248.0 L795.5 246.6 L797.1 245.3 L798.7 244.1 L800.3 243.1 L802.0 242.1 L803.7 241.2 L805.5 240.4 L807.3 239.8 L809.1 239.2 L811.0 238.8 L812.9 238.6 L814.8 238.4 L816.7 238.4 L818.6 238.6 L820.5 238.9 L822.3 239.4 L824.2 239.9 L826.0 240.6 L827.8 241.5 L829.6 242.4 L831.4 243.4 L833.1 244.5 L834.8 245.6 L836.5 246.9 L838.1 248.1 L839.7 249.5 L841.3 250.8 L842.8 252.2 L844.3 253.6 L845.7 255.0 L847.1 256.5 L848.5 258.0 L849.8 259.5 L851.2 261.0 L852.4 262.5 L853.7 264.1 L854.9 265.7 L856.1 267.3 L857.2 268.9 L858.3 270.6 L859.5 272.2 L860.5 273.9 L861.6 275.6 L862.6 277.3 L863.6 279.0 L864.6 280.8 L865.6 282.5 L866.6 284.3 L867.5 286.0 L868.4 287.8 L869.3 289.6 L870.2 291.4 L871.1 293.2 L872.0 295.0 L872.9 296.9 L873.7 298.7 L874.6 300.5 L875.4 302.4 L876.3 304.2 L877.1 306.1 L877.9 307.9 L878.8 309.8 L879.6 311.6 L880.4 313.5 L881.3 315.3 L882.1 317.1 L882.9 319.0 L883.8 320.8 L884.6 322.7 L885.5 324.5 L886.4 326.3 L887.2 328.2 L888.1 330.0 L889.0 331.8 L889.9 333.6 L890.8 335.4 L891.8 337.1 L892.7 338.9 L893.7 340.7 L894.7 342.4 L895.6 344.2 L896.6 345.9 L897.6 347.7 L898.7 349.4 L899.7 351.1 L900.7 352.8 L901.8 354.6 L902.8 356.3 L903.9 358.0 L904.9 359.7 L906.0 361.3 L907.1 363.0 L908.2 364.7 L909.3 366.4 L910.4 368.1 L911.4 369.8 L912.6 371.4 L913.7 373.1 L914.8 374.8 L915.9 376.4 L917.0 378.1 L918.1 379.8 L919.2 381.4 L920.3 383.1 L921.5 384.8 L922.6 386.4 L923.7 388.1 L924.8 389.8 L925.9 391.4 L927.0 393.1 L928.1 394.8 L929.2 396.4 L930.3 398.1 L931.4 399.8 L932.5 401.5 L933.6 403.2 L934.7 404.9 L935.8 406.6 L936.8 408.2 L937.9 409.9 L939.0 411.6 L940.0 413.4 L941.1 415.1 L942.1 416.8 L943.2 418.5 L944.2 420.2 L945.2 421.9 L946.3 423.7 L947.3 425.4 L948.3 427.1 L949.3 428.9 L950.3 430.6 L951.3 432.3 L952.3 434.1 L953.3 435.8 L954.2 437.6 L955.2 439.4 L956.2 441.1 L957.1 442.9 L958.1 444.7 L959.0 446.4 L959.9 448.2 L960.9 450.0 L961.8 451.8 L962.7 453.6 L963.6 455.3 L964.5 457.1 L965.4 458.9 L966.3 460.7 L967.2 462.5 L968.0 464.4 L968.9 466.2 L969.7 468.0 L970.6 469.8 L971.4 471.6 L972.3 473.5 L973.1 475.3 L973.9 477.1 L974.7 479.0 L975.5 480.8 L976.3 482.6 L977.1 484.5 L977.9 486.3 L978.6 488.2 L979.4 490.1 L980.1 491.9 L980.9 493.8 L981.6 495.7 L982.3 497.5 L983.0 499.4 L983.7 501.3 L984.4 503.2 L985.1 505.1 L985.8 507.0 L986.5 508.9 L987.1 510.8 L987.8 512.7 L988.5 514.6 L989.1 516.5 L989.8 518.4 L990.4 520.3 L991.1 522.2 L991.7 524.1 L992.4 526.0 L993.0 527.9 L993.6 529.8 L994.3 531.7 L994.9 533.6 L995.5 535.6 L996.2 537.5 L996.8 539.4 L997.4 541.3 L998.1 543.2 L998.7 545.1 L999.4 547.0 L1000.0 548.9 L1000.7 550.8 L1001.3 552.7 L1002.0 554.6 L1002.6 556.5 L1003.3 558.4 L1004.0 560.3 L1004.7 562.1 L1005.4 564.0 L1006.1 565.9 L1006.8 567.8 L1007.5 569.7 L1008.2 571.5 L1008.9 573.4 L1009.7 575.2 M1073.5 563.7 L1074.8 562.2 L1076.2 560.7 L1077.5 559.2 L1078.8 557.6 L1080.1 556.1 L1081.4 554.6 L1082.8 553.1 L1084.1 551.6 L1085.4 550.1 L1086.7 548.6 L1088.0 547.1 L1089.4 545.5 L1090.7 544.0 L1092.0 542.5 L1093.3 541.0 L1094.6 539.5 L1095.9 537.9 L1097.2 536.4 L1098.5 534.9 L1099.8 533.4 L1101.1 531.8 L1102.4 530.3 L1103.7 528.8 L1105.0 527.2 L1106.3 525.7 L1107.6 524.1 L1108.8 522.6 L1110.1 521.1 L1111.4 519.5 L1112.7 518.0 L1114.0 516.4 L1115.2 514.9 L1116.5 513.3 L1117.8 511.7 L1119.0 510.2 L1120.3 508.6 L1121.5 507.1 L1122.8 505.5 L1124.0 503.9 L1125.3 502.4 L1126.5 500.8 L1127.8 499.2 L1129.0 497.6 L1130.2 496.0 L1131.5 494.4 L1132.7 492.9 L1133.9 491.3 L1135.1 489.7 L1136.3 488.1 L1137.5 486.5 L1138.7 484.9 L1139.9 483.3 L1141.1 481.7 L1142.3 480.0 L1143.5 478.4 L1144.7 476.8 L1145.9 475.2 L1147.0 473.6 L1148.2 471.9 L1149.4 470.3 L1150.5 468.6 L1151.7 467.0 L1152.8 465.4 L1154.0 463.7 L1155.1 462.1 L1156.2 460.4 L1157.4 458.7 L1158.5 457.1 L1159.6 455.4 L1160.7 453.7 L1161.8 452.1 L1162.9 450.4 L1164.0 448.7 L1165.1 447.0 L1166.2 445.4 L1167.3 443.7 L1168.3 442.0 L1169.4 440.3 L1170.5 438.6 L1171.5 436.9 L1172.6 435.2 L1173.6 433.5 L1174.7 431.8 L1175.7 430.0 L1176.8 428.3 L1177.8 426.6 L1178.8 424.9 L1179.8 423.2 L1180.8 421.4 L1181.8 419.7 L1182.8 418.0 L1183.8 416.2 L1184.8 414.5 L1185.8 412.8 L1186.8 411.0 L1187.7 409.3 L1188.7 407.5 L1189.7 405.8 L1190.6 404.1 L1191.6 402.3 L1192.5 400.5 L1193.5 398.8 L1194.4 397.0 L1195.3 395.3 L1196.2 393.5 L1197.2 391.7 L1198.1 390.0 L1199.0 388.2 L1199.9 386.4 L1200.8 384.6 L1201.7 382.9 L1202.6 381.1 L1203.5 379.3 L1204.4 377.5 L1205.3 375.7 L1206.1 373.9 L1207.0 372.1 L1207.9 370.3 L1208.8 368.5 L1209.6 366.7 L1210.5 364.9 L1211.3 363.0 L1212.2 361.2 L1213.1 359.4 L1213.9 357.6 L1214.8 355.7 L1215.6 353.9 L1216.5 352.1 L1217.3 350.2 L1218.2 348.4 L1219.1 346.6 L1219.9 344.7 L1220.8 342.9 L1221.7 341.1 L1222.5 339.2 L1223.4 337.4 L1224.3 335.6 L1225.2 333.8 L1226.1 331.9 L1227.0 330.1 L1227.9 328.3 L1228.8 326.5 L1229.7 324.7 L1230.7 322.9 L1231.6 321.2 L1232.6 319.4 L1233.6 317.6 L1234.6 315.9 L1235.6 314.1 L1236.6 312.4 L1237.6 310.7 L1238.6 308.9 L1239.7 307.2 L1240.7 305.5 L1241.8 303.8 L1242.9 302.2 L1244.0 300.5 L1245.2 298.9 L1246.3 297.2 L1247.5 295.6 L1248.7 294.0 L1249.9 292.4 L1251.1 290.9 L1252.4 289.3 L1253.6 287.8 L1254.9 286.2 L1256.2 284.7 L1257.6 283.2 L1259.0 281.8 L1260.3 280.3 L1261.8 278.9 L1263.2 277.5 L1264.7 276.1 L1266.1 274.7 L1267.7 273.3 L1269.2 272.0 L1270.8 270.7 L1272.4 269.4 L1274.0 268.2 L1275.7 266.9 L1277.4 265.8 L1279.1 264.6 L1280.8 263.6 L1282.6 262.6 L1284.3 261.7 L1286.1 260.9 L1287.9 260.3 L1289.8 259.7 L1291.6 259.3 L1293.5 259.1 L1295.3 259.0 L1297.2 259.1 L1299.1 259.4 L1300.9 259.8 L1302.8 260.4 L1304.6 261.1 L1306.4 261.9 L1308.2 262.9 L1309.9 263.9 L1311.6 265.1 L1313.2 266.3 L1314.7 267.6 L1316.2 269.0 L1317.7 270.5 L1319.1 272.0 L1320.4 273.5 L1321.7 275.1 L1322.9 276.7 L1324.1 278.4 L1325.3 280.1 L1326.5 281.8 L1327.6 283.5 L1328.7 285.3 L1329.9 287.0 L1331.0 288.7 L1332.1 290.4 L1333.2 292.2 L1334.3 293.9 L1335.5 295.6 L1336.6 297.2 L1337.7 298.9 L1338.8 300.6 L1339.9 302.3 L1341.0 304.0 L1342.2 305.6 L1343.3 307.3 L1344.4 309.0 L1345.5 310.6 L1346.6 312.3 L1347.7 313.9 L1348.8 315.6 L1349.9 317.3 L1351.0 318.9 L1352.1 320.6 L1353.2 322.2 L1354.2 323.9 L1355.3 325.5 L1356.4 327.2 L1357.5 328.9 L1358.6 330.5 L1359.6 332.2 L1360.7 333.9 L1361.7 335.6 L1362.8 337.3 L1363.9 338.9 L1364.9 340.6 L1365.9 342.3 L1367.0 344.0 L1368.0 345.7 L1369.1 347.4 L1370.1 349.1 L1371.1 350.9 L1372.1 352.6 L1373.2 354.3 L1374.2 356.0 L1375.2 357.7 L1376.2 359.5 L1377.2 361.2 L1378.2 362.9 L1379.2 364.7 L1380.2 366.4 L1381.2 368.2 L1382.2 369.9 L1383.1 371.7 L1384.1 373.4 L1385.1 375.2 L1386.1 376.9 L1387.0 378.7 L1388.0 380.5 L1389.0 382.2 L1389.9 384.0 L1390.9 385.8 L1391.8 387.6 L1392.8 389.3 L1393.7 391.1 L1394.7 392.9 L1395.6 394.7 L1396.5 396.5 L1397.5 398.2 L1398.4 400.0 L1399.3 401.8 L1400.3 403.6 L1401.2 405.4 L1402.1 407.2 L1403.0 409.0 L1403.9 410.8 L1404.8 412.6 L1405.7 414.4 L1406.6 416.2 L1407.5 418.0 L1408.4 419.8 L1409.3 421.6 L1410.2 423.4 L1411.1 425.2 L1412.0 427.0 L1412.9 428.8 L1413.8 430.7 L1414.7 432.5 L1415.5 434.3 L1416.4 436.1 L1417.3 437.9 L1418.2 439.7 L1419.0 441.5 L1419.9 443.4 L1420.8 445.2 L1421.6 447.0 L1422.5 448.8 L1423.3 450.6 L1424.2 452.4 L1425.0 454.3 L1425.9 456.1 L1426.7 457.9 L1427.6 459.7 L1428.4 461.5 L1429.3 463.3 L1430.1 465.2 L1431.0 467.0 L1431.8 468.8 L1432.6 470.6 L1433.5 472.4 L1434.3 474.2 L1435.1 476.1 L1435.9 477.9 L1436.8 479.7 L1437.6 481.5 L1438.4 483.3 L1439.2 485.1 L1440.1 486.9" fill="none" stroke="#000" stroke-width="5.33" stroke-linejoin="round" stroke-linecap="round" stroke-dasharray="12 8.8 0.01 8.8"/>
<path d="M126.7 184.7 L127.9 183.2 L129.2 181.7 L130.4 180.1 L131.6 178.5 L132.8 177.0 L134.0 175.4 L135.2 173.8 L136.4 172.2 L137.6 170.5 L138.7 168.9 L139.9 167.3 L141.1 165.6 L142.3 164.0 L143.5 162.4 L144.7 160.7 L145.9 159.1 L147.2 157.5 L148.4 155.8 L149.6 154.2 L150.9 152.6 L152.1 151.0 L153.4 149.5 L154.7 147.9 L156.0 146.4 L157.4 144.9 L158.7 143.4 L160.1 141.9 L161.5 140.4 L162.9 139.0 L164.3 137.6 L165.8 136.2 L167.3 134.9 L168.8 133.6 L170.3 132.3 L171.9 131.0 L173.5 129.8 L175.2 128.7 L176.9 127.6 L178.6 126.5 L180.3 125.5 L182.1 124.5 L183.9 123.5 L185.7 122.6 L187.6 121.8 L189.5 121.0 L191.4 120.3 L193.3 119.6 L195.3 119.0 L197.2 118.4 L199.2 117.9 L201.1 117.5 L203.1 117.2 L205.1 116.9 L207.1 116.6 L209.0 116.5 L211.0 116.4 L213.0 116.4 L214.9 116.4 L216.8 116.6 L218.8 116.8 L220.7 117.0 L222.6 117.4 L224.5 117.8 L226.4 118.2 L228.2 118.7 L230.1 119.3 L232.0 119.9 L233.8 120.6 L235.7 121.3 L237.5 122.1 L239.3 122.9 L241.1 123.7 L242.9 124.6 L244.7 125.5 L246.5 126.5 L248.3 127.5 L250.1 128.5 L251.9 129.6 L253.6 130.6 L255.4 131.7 L257.1 132.9 L258.9 134.0 L260.6 135.1 L262.3 136.3 L264.0 137.5 L265.7 138.7 L267.5 139.9 L269.1 141.0 L270.8 142.2 L272.5 143.4 L274.2 144.6 L275.9 145.8 L277.6 147.0 L279.2 148.2 L280.9 149.3 L282.5 150.4 L284.2 151.6 L285.8 152.7 L287.5 153.8 L289.1 154.9 L290.7 156.0 L292.4 157.0 L294.0 158.1 L295.7 159.2 L297.3 160.2 L298.9 161.3 L300.6 162.3 L302.2 163.4 L303.9 164.4 L305.5 165.4 L307.2 166.5 L308.9 167.5 L310.6 168.6 L312.2 169.6 L313.9 170.7 L315.6 171.7 L317.3 172.8 L319.1 173.8 L320.8 174.9 L322.5 175.9 L324.3 177.0 L326.1 178.0 L327.8 179.0 L329.6 179.9 L331.4 180.9 L333.2 181.8 L335.1 182.6 L336.9 183.4 L338.8 184.1 L340.6 184.8 L342.5 185.5 L344.4 186.1 L346.3 186.6 L348.2 187.1 L350.2 187.6 L352.1 188.0 L354.1 188.4 L356.0 188.8 L358.0 189.2 L359.9 189.5 L361.9 189.8 L363.9 190.1 L365.8 190.5 L367.8 190.8 L369.8 191.1 L371.8 191.4 L373.7 191.7 L375.7 192.1 L377.7 192.4 L379.6 192.8 L381.6 193.2 L383.5 193.7 L385.4 194.1 L387.4 194.7 L389.3 195.2 L391.2 195.8 L393.1 196.4 L395.0 197.1 L396.9 197.7 L398.8 198.4 L400.6 199.2 L402.5 199.9 L404.4 200.7 L406.2 201.5 L408.1 202.3 L409.9 203.1 L411.8 203.9 L413.6 204.8 L415.4 205.7 L417.3 206.5 L419.1 207.4 L420.9 208.3 L422.7 209.2 L424.5 210.1 L426.3 211.0 L428.2 211.9 L430.0 212.8 L431.8 213.7 L433.6 214.5 L435.4 215.4 L437.2 216.3 L438.9 217.2 L440.7 218.1 L442.5 219.1 L444.3 220.0 L446.1 220.9 L447.8 221.8 L449.6 222.7 L451.4 223.7 L453.1 224.6 L454.9 225.6 L456.6 226.5 L458.4 227.5 L460.1 228.5 L461.9 229.5 L463.6 230.5 L465.3 231.5 L467.1 232.5 L468.8 233.5 L470.5 234.6 L472.2 235.6 L473.9 236.7 L475.6 237.8 L477.3 238.9 L479.0 240.0 L480.6 241.2 L482.3 242.3 L484.0 243.5 L485.6 244.7 L487.2 245.9 L488.8 247.2 L490.3 248.5 L491.8 249.8 L493.3 251.2 L494.7 252.6 L496.0 254.1 L497.4 255.6 L498.6 257.1 L499.8 258.7 L501.0 260.3 L502.2 261.9 L503.3 263.6 L504.5 265.3 L505.6 266.9 L506.6 268.6 L507.7 270.3 L508.8 272.0 L509.8 273.7 L510.9 275.4 L511.9 277.2 L512.9 278.9 L514.0 280.6 L515.0 282.3 L516.0 284.1 L517.0 285.8 L517.9 287.6 L518.9 289.3 L519.9 291.1 L520.8 292.8 L521.8 294.6 L522.7 296.4 L523.7 298.2 L524.6 299.9 L525.5 301.7 L526.4 303.5 L527.3 305.3 L528.2 307.1 L529.1 308.9 L530.0 310.7 L530.9 312.5 L531.8 314.3 L532.6 316.1 L533.5 318.0 L534.3 319.8 L535.2 321.6 L536.0 323.4 L536.8 325.3 L537.7 327.1 L538.5 328.9 L539.3 330.8 L540.1 332.6 L540.9 334.5 L541.7 336.3 L542.5 338.1 L543.3 340.0 L544.1 341.8 L544.8 343.7 L545.6 345.6 L546.4 347.4 L547.1 349.3 L547.9 351.1 L548.7 353.0 L549.4 354.9 L550.2 356.7 L550.9 358.6 L551.6 360.5 L552.4 362.3 L553.1 364.2 L553.8 366.1 L554.5 368.0 L555.2 369.9 L555.9 371.7 L556.6 373.6 L557.3 375.5 L558.0 377.4 L558.7 379.3 L559.4 381.2 L560.1 383.0 L560.7 384.9 L561.4 386.8 L562.1 388.7 L562.7 390.6 L563.4 392.5 L564.0 394.4 L564.6 396.3 L565.3 398.2 L565.9 400.1 L566.5 402.0 L567.1 403.9 L567.8 405.9 L568.4 407.8 L569.0 409.7 L569.5 411.6 L570.1 413.5 L570.7 415.4 L571.3 417.4 L571.9 419.3 L572.4 421.2 L573.0 423.1 L573.5 425.1 L574.1 427.0 L574.6 428.9 L575.1 430.8 L575.7 432.8 L576.2 434.7 L576.7 436.7 L577.2 438.6 L577.7 440.5 L578.2 442.5 L578.7 444.4 L579.1 446.4 L579.6 448.3 L580.1 450.3 L580.5 452.2 L581.0 454.2 L581.4 456.1 L581.8 458.1 L582.3 460.0 L582.7 462.0 L583.1 464.0 L583.5 465.9 L583.9 467.9 L584.3 469.9 L584.7 471.8 L585.1 473.8 L585.4 475.8 L585.8 477.8 L586.1 479.7 L586.5 481.7 L586.8 483.7 L587.2 485.7 L587.5 487.7 L587.8 489.6 L588.1 491.6 L588.4 493.6 L588.7 495.6 L589.0 497.6 L589.3 499.6 L589.6 501.6 L589.9 503.6 L590.2 505.6 L590.5 507.6 L590.7 509.6 L591.0 511.5 L591.3 513.5 L591.5 515.5 L591.8 517.5 L592.0 519.5 L592.3 521.5 L592.5 523.5 L592.8 525.5 L593.0 527.5 L593.3 529.5 L593.5 531.5 L593.8 533.5 L594.0 535.5 L594.3 537.5 L594.5 539.5 L594.8 541.5 L595.0 543.5 L595.2 545.5 L595.5 547.5 L595.7 549.5 L596.0 551.5 L596.2 553.5 L596.5 555.4 L596.7 557.4 L597.0 559.4 L597.2 561.4 L597.5 563.4 L597.8 565.4 L598.0 567.4 L598.3 569.3 L598.6 571.3 L598.8 573.3 L599.1 575.3 M627.9 575.2 L628.1 573.2 L628.2 571.3 L628.4 569.3 L628.6 567.3 L628.8 565.3 L628.9 563.3 L629.1 561.3 L629.3 559.4 L629.5 557.4 L629.6 555.4 L629.8 553.4 L630.0 551.4 L630.2 549.4 L630.4 547.4 L630.5 545.4 L630.7 543.4 L630.9 541.4 L631.1 539.4 L631.3 537.5 L631.5 535.5 L631.6 533.5 L631.8 531.5 L632.0 529.5 L632.2 527.5 L632.4 525.5 L632.6 523.5 L632.8 521.5 L633.0 519.5 L633.2 517.5 L633.4 515.5 L633.6 513.5 L633.8 511.5 L634.0 509.5 L634.2 507.5 L634.4 505.5 L634.6 503.5 L634.9 501.5 L635.1 499.5 L635.3 497.5 L635.5 495.5 L635.8 493.5 L636.0 491.5 L636.2 489.5 L636.5 487.5 L636.7 485.5 L636.9 483.5 L637.2 481.6 L637.4 479.6 L637.7 477.6 L637.9 475.6 L638.2 473.6 L638.5 471.6 L638.7 469.6 L639.0 467.6 L639.3 465.6 L639.6 463.6 L639.8 461.6 L640.1 459.6 L640.4 457.7 L640.7 455.7 L641.0 453.7 L641.3 451.7 L641.6 449.7 L641.9 447.7 L642.2 445.7 L642.6 443.8 L642.9 441.8 L643.2 439.8 L643.6 437.8 L643.9 435.9 L644.2 433.9 L644.6 431.9 L644.9 429.9 L645.3 428.0 L645.7 426.0 L646.0 424.0 L646.4 422.0 L646.8 420.1 L647.2 418.1 L647.6 416.1 L648.0 414.2 L648.4 412.2 L648.8 410.3 L649.2 408.3 L649.6 406.3 L650.1 404.4 L650.5 402.4 L650.9 400.5 L651.4 398.5 L651.8 396.6 L652.3 394.6 L652.8 392.7 L653.2 390.7 L653.7 388.8 L654.2 386.9 L654.7 384.9 L655.2 383.0 L655.7 381.0 L656.2 379.1 L656.7 377.2 L657.3 375.2 L657.8 373.3 L658.3 371.4 L658.9 369.5 L659.4 367.5 L660.0 365.6 L660.6 363.7 L661.1 361.8 L661.7 359.9 L662.3 357.9 L662.9 356.0 L663.5 354.1 L664.0 352.2 L664.6 350.3 L665.3 348.4 L665.9 346.5 L666.5 344.6 L667.1 342.7 L667.7 340.8 L668.4 338.9 L669.0 337.0 L669.6 335.1 L670.3 333.2 L670.9 331.3 L671.6 329.4 L672.2 327.5 L672.9 325.6 L673.6 323.7 L674.2 321.8 L674.9 319.9 L675.6 318.1 L676.3 316.2 L676.9 314.3 L677.6 312.4 L678.3 310.5 L679.0 308.6 L679.7 306.8 L680.4 304.9 L681.1 303.0 L681.8 301.1 L682.5 299.2 L683.2 297.4 L684.0 295.5 L684.7 293.6 L685.4 291.7 L686.1 289.9 L686.8 288.0 L687.6 286.1 L688.3 284.3 L689.0 282.4 L689.8 280.5 L690.5 278.7 L691.3 276.8 L692.0 274.9 L692.7 273.1 L693.5 271.2 L694.2 269.3 L695.0 267.5 L695.7 265.6 L696.5 263.8 L697.2 261.9 L698.0 260.0 L698.7 258.2 L699.5 256.3 L700.3 254.5 L701.0 252.6 L701.8 250.7 L702.5 248.9 L703.3 247.0 L704.1 245.2 L704.8 243.3 L705.6 241.5 L706.4 239.6 L707.1 237.8 L707.9 235.9 L708.6 234.0 L709.4 232.2 L710.2 230.3 L710.9 228.5 L711.7 226.6 L712.5 224.8 L713.2 222.9 L714.0 221.1 L714.8 219.2 L715.5 217.4 L716.3 215.5 L717.0 213.7 L717.8 211.8 L718.6 210.0 L719.3 208.1 L720.1 206.3 L720.8 204.4 L721.6 202.6 L722.3 200.7 L723.1 198.9 L723.9 197.0 L724.6 195.2 L725.4 193.3 L726.1 191.5 L726.9 189.6 L727.7 187.8 L728.4 185.9 L729.2 184.1 L730.0 182.3 L730.7 180.4 L731.5 178.6 L732.3 176.7 L733.1 174.9 L733.9 173.1 L734.6 171.2 L735.4 169.4 L736.2 167.5 L737.0 165.7 L737.8 163.9 L738.6 162.1 L739.4 160.2 L740.2 158.4 L741.1 156.6 L741.9 154.7 L742.7 152.9 L743.5 151.1 L744.4 149.3 L745.2 147.5 L746.0 145.7 L746.9 143.8 L747.8 142.0 L748.6 140.2 L749.5 138.4 L750.4 136.6 L751.3 134.9 L752.2 133.1 L753.2 131.3 L754.1 129.5 L755.1 127.8 L756.1 126.0 L757.1 124.3 L758.2 122.5 L759.2 120.8 L760.3 119.1 L761.4 117.4 L762.6 115.7 L763.7 114.1 L764.9 112.4 L766.2 110.8 L767.4 109.1 L768.7 107.5 L770.0 105.9 L771.4 104.4 L772.8 102.9 L774.2 101.4 L775.7 100.0 L777.2 98.6 L778.8 97.3 L780.4 96.1 L782.1 95.0 L783.8 94.0 L785.5 93.0 L787.3 92.1 L789.1 91.3 L791.0 90.6 L792.8 90.0 L794.7 89.5 L796.6 89.0 L798.5 88.7 L800.4 88.4 L802.3 88.3 L804.2 88.2 L806.1 88.3 L808.0 88.4 L809.9 88.7 L811.7 89.0 L813.6 89.5 L815.4 90.1 L817.2 90.8 L819.0 91.6 L820.8 92.5 L822.5 93.5 L824.2 94.6 L825.8 95.7 L827.5 96.9 L829.1 98.2 L830.7 99.5 L832.2 100.9 L833.8 102.3 L835.3 103.7 L836.7 105.2 L838.2 106.6 L839.6 108.1 L841.0 109.6 L842.4 111.1 L843.7 112.6 L845.0 114.2 L846.4 115.7 L847.7 117.2 L848.9 118.8 L850.2 120.4 L851.5 121.9 L852.8 123.5 L854.0 125.1 L855.3 126.6 L856.5 128.2 L857.8 129.8 L859.0 131.3 L860.3 132.9 L861.5 134.5 L862.8 136.0 L864.0 137.6 L865.3 139.1 L866.6 140.6 L867.9 142.1 L869.2 143.6 L870.6 145.1 L871.9 146.6 L873.3 148.0 L874.7 149.4 L876.0 150.9 L877.5 152.3 L878.9 153.7 L880.3 155.1 L881.8 156.4 L883.2 157.8 L884.7 159.2 L886.1 160.5 L887.6 161.9 L889.1 163.2 L890.6 164.5 L892.1 165.9 L893.6 167.2 L895.1 168.5 L896.7 169.8 L898.2 171.1 L899.7 172.4 L901.2 173.7 L902.8 175.0 L904.3 176.4 L905.8 177.7 L907.3 179.0 L908.9 180.3 L910.4 181.6 L911.9 182.9 L913.4 184.2 L914.9 185.5 L916.4 186.9 L917.9 188.2 L919.4 189.5 L920.9 190.9 L922.4 192.2 L923.9 193.6 L925.4 195.0 L926.8 196.3 L928.3 197.7 L929.7 199.1 L931.2 200.5 L932.6 201.9 L934.0 203.3 L935.4 204.7 L936.8 206.1 L938.2 207.6 L939.6 209.0 L941.0 210.5 L942.4 211.9 L943.8 213.4 L945.1 214.8 L946.5 216.3 L947.8 217.8 L949.1 219.3 L950.5 220.8 L951.8 222.3 L953.1 223.8 L954.3 225.3 L955.6 226.9 L956.9 228.4 L958.1 230.0 L959.4 231.6 L960.6 233.1 L961.8 234.7 L963.1 236.3 L964.3 237.9 L965.5 239.5 L966.6 241.1 L967.8 242.7 L969.0 244.4 L970.1 246.0 L971.3 247.6 L972.4 249.3 L973.5 251.0 L974.7 252.6 L975.8 254.3 L976.9 256.0 L978.0 257.6 L979.1 259.3 L980.1 261.0 L981.2 262.7 L982.3 264.4 L983.3 266.1 L984.4 267.8 L985.4 269.6 L986.5 271.3 L987.5 273.0 L988.5 274.7 L989.6 276.5 L990.6 278.2 L991.6 279.9 L992.6 281.7 L993.6 283.4 L994.6 285.2 L995.6 286.9 L996.6 288.7 L997.5 290.4 L998.5 292.2 L999.5 293.9 L1000.4 295.7 L1001.4 297.5 L1002.3 299.2 L1003.2 301.0 L1004.2 302.8 L1005.1 304.6 L1006.0 306.4 L1006.9 308.2 L1007.8 309.9 L1008.7 311.7 L1009.6 313.5 L1010.5 315.3 L1011.4 317.1 L1012.3 318.9 L1013.1 320.8 L1014.0 322.6 L1014.8 324.4 L1015.7 326.2 L1016.5 328.0 L1017.4 329.8 L1018.2 331.7 L1019.0 333.5 L1019.8 335.3 L1020.6 337.2 L1021.4 339.0 L1022.2 340.8 L1023.0 342.7 L1023.8 344.5 L1024.6 346.4 L1025.3 348.2 L1026.1 350.1 L1026.8 351.9 L1027.6 353.8 L1028.3 355.7 L1029.0 357.5 L1029.8 359.4 L1030.5 361.3 L1031.2 363.1 L1031.9 365.0 L1032.6 366.9 L1033.3 368.8 L1033.9 370.7 L1034.6 372.5 L1035.3 374.4 L1035.9 376.3 L1036.6 378.2 L1037.2 380.1 L1037.8 382.0 L1038.5 383.9 L1039.1 385.8 L1039.7 387.7 L1040.3 389.6 L1040.9 391.5 L1041.5 393.5 L1042.0 395.4 L1042.6 397.3 L1043.2 399.2 L1043.7 401.1 L1044.3 403.1 L1044.8 405.0 L1045.3 406.9 L1045.9 408.9 L1046.4 410.8 L1046.9 412.7 L1047.4 414.7 L1047.9 416.6 L1048.3 418.6 L1048.8 420.5 L1049.3 422.4 L1049.7 424.4 L1050.2 426.3 L1050.6 428.3 L1051.1 430.3 L1051.5 432.2 L1051.9 434.2 L1052.3 436.1 L1052.7 438.1 L1053.1 440.1 L1053.5 442.0 L1053.9 444.0 L1054.3 446.0 L1054.6 447.9 L1055.0 449.9 L1055.4 451.9 L1055.7 453.9 L1056.1 455.8 L1056.4 457.8 L1056.7 459.8 L1057.1 461.8 L1057.4 463.8 L1057.7 465.7 L1058.0 467.7 L1058.3 469.7 L1058.6 471.7 L1058.9 473.7 L1059.2 475.7 L1059.5 477.7 L1059.8 479.7 L1060.1 481.6 L1060.4 483.6 L1060.6 485.6 L1060.9 487.6 L1061.2 489.6 L1061.4 491.6 L1061.7 493.6 L1062.0 495.6 L1062.2 497.6 L1062.5 499.6 L1062.7 501.6 L1062.9 503.6 L1063.2 505.6 L1063.4 507.6 L1063.7 509.6 L1063.9 511.6 L1064.1 513.6 L1064.4 515.6 L1064.6 517.6 L1064.8 519.6 L1065.0 521.6 L1065.2 523.5 L1065.5 525.5 L1065.7 527.5 L1065.9 529.5 L1066.1 531.5 L1066.3 533.5 L1066.5 535.5 L1066.7 537.5 L1067.0 539.5 L1067.2 541.5 L1067.4 543.5 L1067.6 545.5 L1067.8 547.5 L1068.0 549.5 L1068.2 551.5 L1068.4 553.4 L1068.6 555.4 L1068.8 557.4 L1069.1 559.4 L1069.3 561.4 L1069.5 563.4 L1069.7 565.3 L1069.9 567.3 L1070.1 569.3 L1070.3 571.3 L1070.6 573.3 L1070.8 575.2 M1108.9 575.3 L1109.1 573.3 L1109.2 571.3 L1109.4 569.3 L1109.5 567.3 L1109.7 565.3 L1109.8 563.3 L1110.0 561.3 L1110.1 559.3 L1110.3 557.3 L1110.5 555.3 L1110.6 553.3 L1110.8 551.3 L1111.0 549.3 L1111.1 547.4 L1111.3 545.4 L1111.5 543.4 L1111.7 541.4 L1111.9 539.4 L1112.1 537.4 L1112.3 535.4 L1112.5 533.4 L1112.7 531.4 L1112.9 529.4 L1113.1 527.4 L1113.3 525.4 L1113.5 523.4 L1113.8 521.4 L1114.0 519.4 L1114.2 517.4 L1114.4 515.4 L1114.7 513.4 L1114.9 511.4 L1115.2 509.4 L1115.4 507.4 L1115.7 505.4 L1115.9 503.5 L1116.2 501.5 L1116.5 499.5 L1116.7 497.5 L1117.0 495.5 L1117.3 493.5 L1117.6 491.5 L1117.9 489.5 L1118.2 487.5 L1118.5 485.6 L1118.8 483.6 L1119.1 481.6 L1119.4 479.6 L1119.7 477.6 L1120.1 475.6 L1120.4 473.7 L1120.7 471.7 L1121.1 469.7 L1121.4 467.7 L1121.8 465.7 L1122.1 463.8 L1122.5 461.8 L1122.8 459.8 L1123.2 457.8 L1123.6 455.9 L1124.0 453.9 L1124.4 451.9 L1124.8 450.0 L1125.2 448.0 L1125.6 446.0 L1126.0 444.1 L1126.4 442.1 L1126.8 440.2 L1127.2 438.2 L1127.7 436.2 L1128.1 434.3 L1128.6 432.3 L1129.0 430.4 L1129.5 428.4 L1129.9 426.5 L1130.4 424.5 L1130.9 422.6 L1131.4 420.6 L1131.8 418.7 L1132.3 416.8 L1132.8 414.8 L1133.4 412.9 L1133.9 411.0 L1134.4 409.0 L1134.9 407.1 L1135.5 405.2 L1136.0 403.2 L1136.5 401.3 L1137.1 399.4 L1137.7 397.5 L1138.2 395.5 L1138.8 393.6 L1139.4 391.7 L1139.9 389.8 L1140.5 387.9 L1141.1 386.0 L1141.7 384.0 L1142.3 382.1 L1142.9 380.2 L1143.5 378.3 L1144.1 376.4 L1144.7 374.5 L1145.4 372.6 L1146.0 370.7 L1146.6 368.8 L1147.2 366.9 L1147.8 365.0 L1148.5 363.1 L1149.1 361.2 L1149.7 359.3 L1150.4 357.4 L1151.0 355.5 L1151.6 353.6 L1152.3 351.7 L1152.9 349.8 L1153.5 347.9 L1154.2 346.0 L1154.8 344.1 L1155.4 342.2 L1156.1 340.3 L1156.7 338.4 L1157.3 336.4 L1158.0 334.5 L1158.6 332.6 L1159.2 330.7 L1159.9 328.8 L1160.5 326.9 L1161.1 325.0 L1161.7 323.1 L1162.3 321.2 L1162.9 319.3 L1163.5 317.4 L1164.2 315.5 L1164.8 313.5 L1165.4 311.6 L1166.0 309.7 L1166.6 307.8 L1167.2 305.9 L1167.8 304.0 L1168.4 302.1 L1169.0 300.1 L1169.6 298.2 L1170.2 296.3 L1170.8 294.4 L1171.4 292.5 L1172.0 290.6 L1172.7 288.7 L1173.3 286.8 L1173.9 284.9 L1174.6 283.0 L1175.2 281.1 L1175.9 279.2 L1176.5 277.3 L1177.2 275.4 L1177.9 273.5 L1178.6 271.6 L1179.3 269.8 L1180.0 267.9 L1180.7 266.0 L1181.4 264.1 L1182.2 262.3 L1182.9 260.4 L1183.7 258.6 L1184.4 256.7 L1185.2 254.9 L1186.0 253.0 L1186.8 251.2 L1187.6 249.3 L1188.4 247.5 L1189.2 245.7 L1190.1 243.9 L1190.9 242.0 L1191.7 240.2 L1192.6 238.4 L1193.5 236.6 L1194.3 234.8 L1195.2 233.0 L1196.1 231.2 L1197.0 229.4 L1197.9 227.6 L1198.8 225.8 L1199.7 224.0 L1200.6 222.2 L1201.5 220.4 L1202.5 218.6 L1203.4 216.9 L1204.3 215.1 L1205.3 213.3 L1206.2 211.5 L1207.2 209.8 L1208.1 208.0 L1209.1 206.2 L1210.1 204.5 L1211.0 202.7 L1212.0 201.0 L1213.0 199.2 L1214.0 197.5 L1214.9 195.7 L1215.9 194.0 L1216.9 192.2 L1217.9 190.5 L1218.9 188.7 L1219.8 187.0 L1220.8 185.2 L1221.8 183.5 L1222.7 181.7 L1223.7 180.0 L1224.6 178.2 L1225.5 176.4 L1226.4 174.6 L1227.3 172.9 L1228.2 171.1 L1229.1 169.3 L1229.9 167.5 L1230.8 165.7 L1231.7 163.9 L1232.6 162.1 L1233.4 160.3 L1234.3 158.6 L1235.2 156.8 L1236.1 155.0 L1237.0 153.2 L1238.0 151.4 L1238.9 149.7 L1239.9 147.9 L1240.8 146.2 L1241.8 144.4 L1242.8 142.7 L1243.9 141.0 L1244.9 139.2 L1246.0 137.5 L1247.1 135.9 L1248.2 134.2 L1249.4 132.5 L1250.5 130.9 L1251.7 129.3 L1253.0 127.6 L1254.2 126.1 L1255.5 124.5 L1256.8 123.0 L1258.2 121.4 L1259.6 119.9 L1261.0 118.5 L1262.5 117.0 L1264.0 115.6 L1265.5 114.2 L1267.1 112.9 L1268.7 111.6 L1270.3 110.4 L1272.0 109.2 L1273.7 108.1 L1275.4 107.1 L1277.2 106.1 L1279.0 105.3 L1280.8 104.5 L1282.6 103.8 L1284.5 103.2 L1286.4 102.7 L1288.3 102.3 L1290.2 102.0 L1292.2 101.8 L1294.1 101.6 L1296.1 101.6 L1298.0 101.7 L1300.0 101.8 L1301.9 102.1 L1303.9 102.4 L1305.8 102.8 L1307.7 103.3 L1309.6 103.9 L1311.5 104.5 L1313.4 105.3 L1315.2 106.1 L1317.0 106.9 L1318.8 107.9 L1320.5 108.9 L1322.1 110.0 L1323.8 111.2 L1325.4 112.4 L1326.9 113.6 L1328.5 115.0 L1330.0 116.3 L1331.4 117.7 L1332.9 119.2 L1334.3 120.7 L1335.7 122.2 L1337.0 123.7 L1338.4 125.3 L1339.7 126.9 L1341.0 128.5 L1342.3 130.1 L1343.5 131.7 L1344.8 133.4 L1346.0 135.0 L1347.2 136.6 L1348.5 138.2 L1349.7 139.8 L1350.9 141.4 L1352.1 143.0 L1353.4 144.6 L1354.6 146.2 L1355.9 147.7 L1357.1 149.2 L1358.4 150.7 L1359.7 152.2 L1361.0 153.7 L1362.4 155.1 L1363.8 156.5 L1365.2 157.9 L1366.6 159.2 L1368.1 160.5 L1369.7 161.8 L1371.2 163.0 L1372.8 164.3 L1374.4 165.5 L1376.0 166.6 L1377.6 167.8 L1379.3 169.0 L1380.9 170.1 L1382.6 171.2 L1384.3 172.4 L1385.9 173.5 L1387.6 174.7 L1389.3 175.8 L1391.0 177.0 L1392.6 178.1 L1394.2 179.3 L1395.9 180.5 L1397.5 181.7 L1399.1 182.9 L1400.6 184.2 L1402.2 185.4 L1403.7 186.7 L1405.3 188.0 L1406.8 189.3 L1408.3 190.6 L1409.7 192.0 L1411.2 193.3 L1412.6 194.7 L1414.1 196.1 L1415.5 197.5 L1416.9 198.9 L1418.3 200.3 L1419.6 201.8 L1421.0 203.2 L1422.3 204.7 L1423.7 206.2 L1425.0 207.7 L1426.3 209.2 L1427.6 210.7 L1428.8 212.3 L1430.1 213.8 L1431.3 215.4 L1432.6 216.9 L1433.8 218.5 L1435.0 220.1 L1436.2 221.7 L1437.3 223.3 L1438.5 225.0 L1439.6 226.6 L1440.8 228.2 L1441.9 229.9 L1443.0 231.6 L1444.1 233.3 L1445.2 234.9 L1446.2 236.6 L1447.3 238.3 L1448.3 240.1 L1449.4 241.8 L1450.4 243.5 L1451.4 245.3 L1452.4 247.0 L1453.4 248.8 L1454.3 250.5 L1455.3 252.3 L1456.3 254.1 L1457.2 255.9 L1458.1 257.6 L1459.1 259.4 L1460.0 261.2 L1461.0 263.0 L1461.9 264.8 L1462.9 266.6 L1463.8 268.3 L1464.8 270.1 L1465.8 271.9 L1466.7 273.6 L1467.7 275.3 L1468.8 277.1 L1469.8 278.8 L1470.8 280.5 L1471.9 282.2 L1473.0 283.9 L1474.1 285.5 L1475.2 287.2 L1476.4 288.8 L1477.6 290.4 L1478.8 292.0 L1480.1 293.5 L1481.4 295.1 L1482.7 296.6 L1484.1 298.0 L1485.5 299.5 L1486.9 300.9 L1488.4 302.3 L1489.9 303.7 L1491.5 305.0" fill="none" stroke="#000" stroke-width="5.33" stroke-linejoin="round"/>
<path d="M126.8 94.5 L128.1 96.0 L129.4 97.5 L130.8 99.0 L132.2 100.4 L133.7 101.8 L135.1 103.1 L136.6 104.5 L138.1 105.8 L139.6 107.1 L141.2 108.5 L142.7 109.8 L144.2 111.1 L145.8 112.4 L147.3 113.7 L148.8 115.0 L150.3 116.3 L151.8 117.7 L153.3 119.0 L154.8 120.4 L156.2 121.8 L157.6 123.2 L159.0 124.7 L160.3 126.2 L161.6 127.6 L162.9 129.2 L164.2 130.7 L165.4 132.2 L166.6 133.8 L167.8 135.4 L169.0 137.0 L170.2 138.6 L171.3 140.3 L172.5 141.9 L173.6 143.6 L174.7 145.2 L175.7 146.9 L176.8 148.6 L177.9 150.3 L178.9 152.0 L179.9 153.7 L181.0 155.4 L182.0 157.2 L183.0 158.9 L184.0 160.6 L185.0 162.4 L186.0 164.1 L187.0 165.8 L187.9 167.6 L188.9 169.3 L189.9 171.1 L190.8 172.9 L191.8 174.6 L192.7 176.4 L193.6 178.2 L194.5 179.9 L195.4 181.7 L196.3 183.5 L197.2 185.3 L198.1 187.1 L199.0 188.9 L199.9 190.7 L200.7 192.5 L201.6 194.3 L202.5 196.1 L203.3 197.9 L204.1 199.7 L204.9 201.6 L205.8 203.4 L206.6 205.2 L207.4 207.1 L208.2 208.9 L208.9 210.7 L209.7 212.6 L210.5 214.4 L211.2 216.3 L212.0 218.1 L212.7 220.0 L213.4 221.9 L214.2 223.7 L214.9 225.6 L215.6 227.5 L216.3 229.4 L217.0 231.2 L217.6 233.1 L218.3 235.0 L219.0 236.9 L219.6 238.8 L220.3 240.7 L220.9 242.6 L221.5 244.5 L222.1 246.4 L222.7 248.3 L223.3 250.2 L223.9 252.2 L224.5 254.1 L225.1 256.0 L225.7 257.9 L226.2 259.9 L226.8 261.8 L227.3 263.7 L227.9 265.6 L228.4 267.6 L229.0 269.5 L229.5 271.5 L230.0 273.4 L230.6 275.3 L231.1 277.3 L231.6 279.2 L232.2 281.1 L232.7 283.1 L233.2 285.0 L233.7 287.0 L234.2 288.9 L234.7 290.8 L235.2 292.8 L235.8 294.7 L236.3 296.6 L236.8 298.6 L237.3 300.5 L237.8 302.5 L238.3 304.4 L238.9 306.3 L239.4 308.2 L239.9 310.2 L240.4 312.1 L240.9 314.0 L241.5 315.9 L242.0 317.9 L242.5 319.8 L243.1 321.7 L243.6 323.6 L244.2 325.5 L244.7 327.4 L245.3 329.3 L245.9 331.2 L246.4 333.1 L247.0 335.0 L247.6 336.9 L248.2 338.7 L248.8 340.6 L249.4 342.5 L250.0 344.4 L250.6 346.2 L251.3 348.1 L251.9 350.0 L252.5 351.9 L253.2 353.9 L253.9 355.8 L254.5 357.8 L255.2 359.8 L255.9 361.8 L256.6 363.8 L257.5 365.8 L258.4 367.7 L259.6 369.5 L261.0 371.2 L262.7 372.6 L264.6 373.7 L266.6 374.4 L268.3 374.3 L269.6 373.4 L270.7 372.0 L271.6 370.3 L272.4 368.6 L273.3 366.8 L274.1 365.1 L274.9 363.3 L275.7 361.5 L276.5 359.7 L277.3 357.9 L278.1 356.1 L278.8 354.3 L279.6 352.5 L280.3 350.7 L281.0 348.8 L281.7 347.0 L282.4 345.1 L283.1 343.3 L283.8 341.4 L284.5 339.6 L285.2 337.7 L285.8 335.8 L286.5 333.9 L287.2 332.1 L287.8 330.2 L288.5 328.3 L289.1 326.4 L289.8 324.5 L290.4 322.6 L291.1 320.7 L291.7 318.8 L292.4 316.9 L293.0 315.0 L293.7 313.1 L294.3 311.2 L295.0 309.3 L295.7 307.4 L296.3 305.5 L297.0 303.6 L297.7 301.7 L298.4 299.8 L299.1 297.9 L299.8 296.0 L300.5 294.1 L301.2 292.3 L301.9 290.4 L302.7 288.5 L303.4 286.6 L304.2 284.8 L305.0 282.9 L305.7 281.1 L306.5 279.2 L307.4 277.4 L308.2 275.5 L309.0 273.7 L309.9 271.9 L310.8 270.1 L311.7 268.3 L312.6 266.5 L313.5 264.7 L314.4 262.9 L315.4 261.2 L316.4 259.4 L317.3 257.7 L318.4 255.9 L319.4 254.2 L320.4 252.5 L321.5 250.8 L322.6 249.1 L323.7 247.5 L324.8 245.8 L325.9 244.2 L327.1 242.5 L328.2 240.9 L329.4 239.3 L330.6 237.8 L331.9 236.2 L333.1 234.7 L334.4 233.1 L335.7 231.6 L337.0 230.1 L338.4 228.6 L339.7 227.2 L341.1 225.7 L342.5 224.3 L343.9 222.9 L345.4 221.6 L346.9 220.2 L348.4 218.9 L349.9 217.7 L351.5 216.5 L353.1 215.3 L354.8 214.3 L356.5 213.3 L358.2 212.3 L360.0 211.4 L361.8 210.7 L363.7 210.0 L365.6 209.4 L367.5 208.8 L369.5 208.4 L371.6 208.1 L373.6 207.9 L375.7 207.8 L377.8 207.7 L379.9 207.7 L382.0 207.9 L384.1 208.1 L386.1 208.4 L388.1 208.8 L390.1 209.3 L392.1 209.8 L394.0 210.5 L395.8 211.2 L397.6 212.0 L399.4 212.8 L401.1 213.8 L402.8 214.7 L404.5 215.8 L406.1 216.9 L407.6 218.1 L409.2 219.3 L410.7 220.6 L412.1 222.0 L413.5 223.3 L414.9 224.7 L416.3 226.2 L417.6 227.7 L418.9 229.2 L420.2 230.8 L421.4 232.4 L422.6 234.0 L423.8 235.6 L425.0 237.2 L426.1 238.9 L427.3 240.6 L428.3 242.2 L429.4 243.9 L430.5 245.6 L431.5 247.4 L432.5 249.1 L433.5 250.8 L434.5 252.6 L435.4 254.3 L436.4 256.1 L437.3 257.9 L438.2 259.7 L439.1 261.5 L439.9 263.3 L440.8 265.1 L441.6 266.9 L442.4 268.8 L443.2 270.6 L444.0 272.4 L444.8 274.3 L445.5 276.2 L446.2 278.0 L447.0 279.9 L447.7 281.8 L448.4 283.7 L449.1 285.6 L449.7 287.4 L450.4 289.3 L451.1 291.2 L451.7 293.2 L452.3 295.1 L452.9 297.0 L453.5 298.9 L454.1 300.8 L454.7 302.7 L455.3 304.7 L455.9 306.6 L456.5 308.5 L457.0 310.4 L457.6 312.4 L458.1 314.3 L458.7 316.2 L459.2 318.2 L459.7 320.1 L460.2 322.0 L460.8 324.0 L461.3 325.9 L461.8 327.8 L462.3 329.7 L462.8 331.7 L463.3 333.6 L463.8 335.5 L464.3 337.5 L464.8 339.4 L465.3 341.3 L465.8 343.2 L466.3 345.2 L466.8 347.1 L467.3 349.0 L467.8 350.9 L468.3 352.9 L468.8 354.8 L469.3 356.7 L469.8 358.7 L470.3 360.6 L470.9 362.5 L471.4 364.4 L471.9 366.4 L472.4 368.3 L473.0 370.3 L473.5 372.2 L474.1 374.1 L474.8 376.0 L475.5 377.9 L476.4 379.8 L477.4 381.6 L478.6 383.3 L480.0 385.0 L481.6 386.5 L483.2 387.7 L484.9 388.5 L486.6 388.6 L488.3 388.2 L489.8 387.1 L491.3 385.7 L492.6 383.9 L493.9 382.1 L495.0 380.2 L496.0 378.3 L496.8 376.5 L497.6 374.6 L498.3 372.7 L498.9 370.8 L499.5 368.9 L500.1 367.0 L500.6 365.1 L501.2 363.2 L501.7 361.3 L502.2 359.4 L502.7 357.5 L503.3 355.6 L503.8 353.7 L504.3 351.7 L504.8 349.8 L505.3 347.9 L505.8 346.0 L506.3 344.0 L506.8 342.1 L507.3 340.2 L507.8 338.3 L508.2 336.3 L508.7 334.4 L509.2 332.4 L509.7 330.5 L510.2 328.6 L510.7 326.6 L511.2 324.7 L511.7 322.7 L512.1 320.8 L512.6 318.8 L513.1 316.9 L513.6 314.9 L514.1 313.0 L514.6 311.0 L515.1 309.1 L515.6 307.1 L516.1 305.2 L516.6 303.2 L517.1 301.3 L517.6 299.3 L518.1 297.4 L518.6 295.4 L519.1 293.5 L519.6 291.5 L520.1 289.6 L520.6 287.6 L521.2 285.7 L521.7 283.7 L522.2 281.8 L522.7 279.8 L523.3 277.9 L523.8 276.0 L524.3 274.0 L524.9 272.1 L525.4 270.2 L526.0 268.3 L526.5 266.3 L527.1 264.4 L527.7 262.5 L528.2 260.6 L528.8 258.7 L529.4 256.8 L530.0 254.9 L530.6 253.0 L531.2 251.1 L531.8 249.2 L532.4 247.3 L533.0 245.4 L533.7 243.5 L534.3 241.6 L534.9 239.7 L535.6 237.9 L536.2 236.0 L536.9 234.1 L537.5 232.2 L538.2 230.4 L538.9 228.5 L539.6 226.6 L540.3 224.8 L541.0 222.9 L541.7 221.1 L542.4 219.2 L543.2 217.4 L543.9 215.5 L544.7 213.7 L545.4 211.9 L546.2 210.0 L547.0 208.2 L547.8 206.4 L548.6 204.5 L549.4 202.7 L550.2 200.9 L551.1 199.1 L551.9 197.2 L552.8 195.4 L553.6 193.6 L554.5 191.8 L555.4 190.0 L556.3 188.2 L557.2 186.4 L558.1 184.6 L559.1 182.8 L560.0 181.0 L561.0 179.2 L562.0 177.4 L563.0 175.6 L564.0 173.8 L565.0 172.1 L566.0 170.3 L567.1 168.5 L568.1 166.8 L569.2 165.1 L570.3 163.3 L571.4 161.6 L572.5 159.9 L573.7 158.2 L574.9 156.5 L576.0 154.9 L577.2 153.3 L578.4 151.6 L579.7 150.1 L580.9 148.5 L582.2 146.9 L583.5 145.4 L584.8 143.9 L586.2 142.4 L587.5 141.0 L588.9 139.6 L590.3 138.2 L591.7 136.8 L593.2 135.5 L594.6 134.2 L596.1 132.9 L597.6 131.7 L599.2 130.5 L600.7 129.3 L602.3 128.2 L603.9 127.1 L605.6 126.1 L607.2 125.1 L608.9 124.1 L610.6 123.2 L612.4 122.3 L614.1 121.5 L615.9 120.6 L617.7 119.8 L619.5 119.1 L621.3 118.4 L623.2 117.7 L625.0 117.0 L626.9 116.4 L628.8 115.8 L630.7 115.3 L632.6 114.7 L634.6 114.2 L636.5 113.8 L638.5 113.3 L640.4 112.9 L642.4 112.6 L644.4 112.2 L646.4 111.9 L648.4 111.6 L650.4 111.3 L652.5 111.1 L654.5 110.9 L656.6 110.7 L658.6 110.5 L660.7 110.4 L662.7 110.2 L664.8 110.1 L666.8 110.1 L668.9 110.0 L671.0 110.0 L673.0 110.0 L675.1 110.0 L677.2 110.0 L679.2 110.1 L681.3 110.2 L683.4 110.3 L685.4 110.4 L687.5 110.5 L689.5 110.7 L691.6 110.9 L693.6 111.1 L695.6 111.4 L697.6 111.7 L699.6 112.0 L701.6 112.4 L703.6 112.8 L705.5 113.2 L707.4 113.6 L709.4 114.1 L711.3 114.7 L713.1 115.2 L715.0 115.8 L716.8 116.5 L718.6 117.2 L720.4 117.9 L722.2 118.7 L723.9 119.6 L725.6 120.4 L727.3 121.4 L729.0 122.4 L730.6 123.4 L732.2 124.5 L733.7 125.6 L735.2 126.8 L736.7 128.0 L738.2 129.3 L739.6 130.6 L741.0 131.9 L742.4 133.3 L743.8 134.7 L745.1 136.2 L746.4 137.7 L747.7 139.2 L748.9 140.8 L750.2 142.3 L751.4 144.0 L752.5 145.6 L753.7 147.3 L754.8 149.0 L755.9 150.7 L757.0 152.4 L758.1 154.2 L759.2 155.9 L760.2 157.7 L761.2 159.5 L762.2 161.3 L763.2 163.1 L764.2 165.0 L765.1 166.8 L766.0 168.7 L766.9 170.5 L767.8 172.4 L768.7 174.2 L769.6 176.1 L770.4 177.9 L771.3 179.8 L772.1 181.6 L772.9 183.5 L773.7 185.3 L774.5 187.1 L775.3 189.0 L776.1 190.8 L776.9 192.7 L777.6 194.5 L778.4 196.3 L779.1 198.2 L779.8 200.0 L780.5 201.8 L781.2 203.7 L781.9 205.5 L782.6 207.4 L783.3 209.2 L783.9 211.1 L784.6 212.9 L785.3 214.8 L785.9 216.6 L786.5 218.5 L787.2 220.3 L787.8 222.2 L788.4 224.1 L789.0 225.9 L789.7 227.8 L790.3 229.7 L790.9 231.6 L791.5 233.5 L792.1 235.4 L792.6 237.3 L793.2 239.2 L793.8 241.1 L794.4 243.1 L795.0 245.0 L795.5 246.9 L796.1 248.9 L796.7 250.8 L797.2 252.8 L797.8 254.8 L798.3 256.7 L798.9 258.7 L799.4 260.7 L800.0 262.6 L800.5 264.6 L801.0 266.6 L801.5 268.6 L802.0 270.5 L802.5 272.5 L803.0 274.5 L803.4 276.4 L803.9 278.4 L804.3 280.3 L804.7 282.3 L805.1 284.2 L805.5 286.1 L805.9 288.0 L806.3 289.9 L806.7 291.9 L807.1 293.7 L807.5 295.6 L808.1 297.5 L808.7 299.4 L809.4 301.3 L810.2 303.3 L811.2 305.2 L812.3 307.1 L813.6 309.0 L815.0 310.7 L816.5 312.2 L818.1 313.2 L819.7 313.7 L821.2 313.5 L822.6 312.6 L824.0 311.2 L825.3 309.5 L826.5 307.5 L827.6 305.4 L828.5 303.3 L829.3 301.3 L830.0 299.2 L830.6 297.2 L831.2 295.3 L831.6 293.3 L832.0 291.4 L832.4 289.5 L832.7 287.5 L833.0 285.6 L833.3 283.7 L833.5 281.8 L833.8 279.9 L834.2 278.0 L834.5 276.1 L834.9 274.1 L835.2 272.2 L835.6 270.3 L836.0 268.3 L836.4 266.4 L836.8 264.4 L837.2 262.5 L837.7 260.5 L838.1 258.6 L838.6 256.6 L839.1 254.7 L839.5 252.7 L840.0 250.8 L840.5 248.8 L841.0 246.8 L841.5 244.9 L842.0 242.9 L842.6 241.0 L843.1 239.0 L843.6 237.1 L844.2 235.1 L844.7 233.2 L845.2 231.2 L845.8 229.3 L846.3 227.3 L846.9 225.4 L847.4 223.5 L848.0 221.5 L848.5 219.6 L849.1 217.7 L849.6 215.8 L850.2 213.8 L850.8 211.9 L851.3 210.0 L851.9 208.1 L852.4 206.2 L853.0 204.3 L853.5 202.3 L854.1 200.4 L854.6 198.5 L855.2 196.6 L855.7 194.7 L856.3 192.8 L856.8 190.9 L857.4 188.9 L857.9 187.0 L858.5 185.1 L859.0 183.2 L859.5 181.3 L860.1 179.3 L860.6 177.4 L861.1 175.5 L861.6 173.5 L862.2 171.6 L862.7 169.7 L863.2 167.7 L863.7 165.8 L864.2 163.8 L864.8 161.9 L865.3 159.9 L865.8 158.0 L866.3 156.1 L866.9 154.1 L867.4 152.2 L867.9 150.3 L868.5 148.3 L869.1 146.4 L869.6 144.5 L870.2 142.6 L870.8 140.6 L871.4 138.7 L872.0 136.8 L872.7 134.9 L873.3 133.0 L874.0 131.2 L874.7 129.3 L875.4 127.4 L876.1 125.6 L876.8 123.7 L877.6 121.9 L878.4 120.1 L879.2 118.3 L880.0 116.5 L880.9 114.7 L881.7 112.9 L882.6 111.2 L883.6 109.4 L884.5 107.7 L885.5 106.0 L886.5 104.3 L887.5 102.6 L888.6 100.9 L889.7 99.2 L890.9 97.6 L892.0 96.0 L893.2 94.4 L894.5 92.8 L895.8 91.3 L897.1 89.7 L898.4 88.2 L899.8 86.7 L901.2 85.2 L902.7 83.8 L904.1 82.3 L905.6 80.9 L907.1 79.6 L908.7 78.2 L910.3 76.9 L911.8 75.6 L913.5 74.4 L915.1 73.1 L916.7 71.9 L918.4 70.8 L920.1 69.6 L921.8 68.5 L923.5 67.4 L925.2 66.4 L926.9 65.4 L928.7 64.4 L930.4 63.5 L932.2 62.6 L934.0 61.7 L935.8 60.9 L937.6 60.1 L939.4 59.3 L941.2 58.5 L943.0 57.7 L944.8 57.0 L946.7 56.3 L948.5 55.6 L950.4 55.0 L952.3 54.3 L954.1 53.7 L956.0 53.1 L957.9 52.5 L959.8 51.9 L961.7 51.3 L963.6 50.8 L965.5 50.3 L967.5 49.7 L969.4 49.2 L971.3 48.7 L973.3 48.2 L975.2 47.8 L977.1 47.3 L979.1 46.9 L981.1 46.4 L983.0 46.0 L985.0 45.6 L986.9 45.2 L988.9 44.8 L990.9 44.5 L992.9 44.1 L994.8 43.8 L996.8 43.4 L998.8 43.1 L1000.8 42.8 L1002.8 42.5 L1004.8 42.2 L1006.8 41.9 L1008.8 41.6 L1010.8 41.4 L1012.8 41.1 L1014.8 40.9 L1016.8 40.6 L1018.8 40.4 L1020.8 40.2 L1022.8 40.0 L1024.8 39.8 L1026.8 39.6 L1028.8 39.4 L1030.8 39.2 L1032.8 39.0 L1034.8 38.9 L1036.8 38.7 L1038.8 38.5 L1040.8 38.4 L1042.8 38.3 L1044.8 38.1 L1046.8 38.0 L1048.8 37.9 L1050.8 37.8 L1052.8 37.7 L1054.8 37.6 L1056.8 37.5 L1058.8 37.4 L1060.8 37.3 L1062.8 37.3 L1064.8 37.2 L1066.8 37.1 L1068.8 37.1 L1070.8 37.0 L1072.8 37.0 L1074.8 37.0 L1076.8 36.9 L1078.8 36.9 L1080.8 36.9 L1082.8 36.9 L1084.8 36.8 L1086.8 36.8 L1088.8 36.8 L1090.8 36.8 L1092.8 36.8 L1094.8 36.8 L1096.8 36.9 L1098.8 36.9 L1100.8 36.9 L1102.8 36.9 L1104.8 37.0 L1106.8 37.0 L1108.8 37.0 L1110.8 37.1 L1112.8 37.1 L1114.8 37.1 L1116.8 37.2 L1118.8 37.2 L1120.8 37.3 L1122.8 37.3 L1124.8 37.4 L1126.8 37.5 L1128.8 37.5 L1130.8 37.6 L1132.8 37.7 L1134.8 37.7 L1136.8 37.8 L1138.8 37.9 L1140.8 38.0 L1142.8 38.1 L1144.8 38.2 L1146.8 38.3 L1148.7 38.4 L1150.7 38.5 L1152.7 38.6 L1154.7 38.7 L1156.7 38.8 L1158.7 39.0 L1160.7 39.1 L1162.7 39.2 L1164.7 39.4 L1166.7 39.6 L1168.7 39.7 L1170.7 39.9 L1172.7 40.1 L1174.7 40.3 L1176.7 40.5 L1178.6 40.7 L1180.6 40.9 L1182.6 41.1 L1184.6 41.4 L1186.6 41.6 L1188.6 41.9 L1190.5 42.1 L1192.5 42.4 L1194.5 42.7 L1196.5 43.0 L1198.4 43.3 L1200.4 43.7 L1202.4 44.0 L1204.3 44.4 L1206.3 44.7 L1208.3 45.1 L1210.2 45.5 L1212.2 45.9 L1214.1 46.3 L1216.1 46.7 L1218.0 47.2 L1220.0 47.6 L1221.9 48.1 L1223.9 48.6 L1225.8 49.1 L1227.8 49.6 L1229.7 50.2 L1231.7 50.7 L1233.6 51.3 L1235.5 51.9 L1237.4 52.5 L1239.4 53.1 L1241.3 53.7 L1243.2 54.4 L1245.1 55.0 L1247.0 55.7 L1248.9 56.4 L1250.8 57.2 L1252.7 57.9 L1254.5 58.7 L1256.4 59.4 L1258.2 60.2 L1260.1 61.1 L1261.9 61.9 L1263.7 62.8 L1265.5 63.6 L1267.3 64.5 L1269.1 65.5 L1270.9 66.4 L1272.7 67.3 L1274.4 68.3 L1276.1 69.3 L1277.9 70.4 L1279.6 71.4 L1281.2 72.5 L1282.9 73.6 L1284.6 74.7 L1286.2 75.8 L1287.8 76.9 L1289.4 78.1 L1291.0 79.3 L1292.6 80.6 L1294.2 81.8 L1295.7 83.1 L1297.2 84.4 L1298.7 85.7 L1300.2 87.0 L1301.6 88.4 L1303.0 89.8 L1304.4 91.2 L1305.8 92.6 L1307.2 94.1 L1308.6 95.5 L1309.9 97.0 L1311.2 98.5 L1312.5 100.1 L1313.7 101.6 L1315.0 103.2 L1316.2 104.8 L1317.4 106.4 L1318.6 108.0 L1319.7 109.6 L1320.9 111.2 L1322.0 112.9 L1323.1 114.6 L1324.2 116.3 L1325.2 118.0 L1326.2 119.7 L1327.2 121.4 L1328.2 123.2 L1329.2 124.9 L1330.1 126.7 L1331.0 128.5 L1331.9 130.3 L1332.8 132.1 L1333.7 133.9 L1334.5 135.7 L1335.3 137.5 L1336.1 139.4 L1336.9 141.2 L1337.7 143.1 L1338.4 144.9 L1339.2 146.8 L1339.9 148.7 L1340.6 150.5 L1341.3 152.4 L1342.0 154.3 L1342.7 156.2 L1343.3 158.1 L1344.0 160.0 L1344.6 161.9 L1345.2 163.8 L1345.9 165.7 L1346.5 167.7 L1347.1 169.6 L1347.7 171.5 L1348.3 173.4 L1348.9 175.3 L1349.4 177.3 L1350.0 179.2 L1350.6 181.1 L1351.2 183.0 L1351.7 184.9 L1352.3 186.9 L1352.9 188.8 L1353.4 190.7 L1354.0 192.6 L1354.5 194.5 L1355.0 196.5 L1355.6 198.4 L1356.1 200.3 L1356.7 202.2 L1357.2 204.2 L1357.7 206.1 L1358.2 208.0 L1358.7 209.9 L1359.3 211.8 L1359.8 213.8 L1360.3 215.7 L1360.8 217.6 L1361.3 219.6 L1361.8 221.5 L1362.3 223.4 L1362.7 225.4 L1363.2 227.3 L1363.7 229.2 L1364.2 231.2 L1364.7 233.1 L1365.1 235.1 L1365.6 237.0 L1366.1 239.0 L1366.5 240.9 L1367.0 242.9 L1367.5 244.8 L1367.9 246.8 L1368.4 248.7 L1368.8 250.7 L1369.3 252.6 L1369.8 254.6 L1370.2 256.5 L1370.7 258.5 L1371.1 260.4 L1371.6 262.4 L1372.0 264.3 L1372.5 266.3 L1373.0 268.2 L1373.4 270.2 L1373.9 272.1 L1374.4 274.1 L1374.8 276.0 L1375.3 278.0 L1375.8 279.9 L1376.2 281.9 L1376.7 283.8 L1377.2 285.8 L1377.6 287.7 L1378.1 289.7 L1378.6 291.6 L1379.0 293.6 L1379.5 295.5 L1379.9 297.4 L1380.4 299.4 L1380.8 301.3 L1381.3 303.3 L1381.7 305.2 L1382.2 307.2 L1382.6 309.1 L1383.0 311.1 L1383.5 313.0 L1383.9 315.0 L1384.3 316.9 L1384.7 318.9 L1385.1 320.8 L1385.5 322.8 L1385.9 324.8 L1386.3 326.7 L1386.6 328.7 L1387.0 330.6 L1387.4 332.6 L1387.7 334.6 L1388.1 336.5 L1388.4 338.5 L1388.7 340.5 L1389.1 342.4 L1389.4 344.4 L1389.7 346.4 L1390.0 348.4 L1390.3 350.3 L1390.6 352.3 L1390.9 354.3 L1391.1 356.3 L1391.4 358.3 L1391.7 360.2 L1391.9 362.2 L1392.2 364.2 L1392.4 366.2 L1392.7 368.2 L1392.9 370.2 L1393.1 372.2 L1393.4 374.2 L1393.6 376.2 L1393.8 378.1 L1394.0 380.1 L1394.2 382.1 L1394.4 384.1 L1394.6 386.1 L1394.8 388.1 L1395.0 390.1 L1395.2 392.1 L1395.4 394.1 L1395.6 396.1 L1395.8 398.1 L1396.0 400.1 L1396.1 402.1 L1396.3 404.1 L1396.5 406.1 L1396.6 408.1 L1396.8 410.1 L1397.0 412.1 L1397.1 414.1 L1397.3 416.1 L1397.4 418.1 L1397.6 420.1 L1397.7 422.1 L1397.9 424.1 L1398.0 426.1 L1398.2 428.1 L1398.3 430.1 L1398.5 432.1 L1398.6 434.1 L1398.8 436.1 L1398.9 438.1 L1399.1 440.1 L1399.2 442.1 L1399.4 444.1 L1399.5 446.1 L1399.7 448.1 L1399.8 450.1 L1400.0 452.1 L1400.1 454.1 L1400.3 456.1 L1400.4 458.1 L1400.6 460.1 L1400.7 462.1 L1400.9 464.1 L1401.0 466.1 L1401.2 468.1 L1401.3 470.1 L1401.5 472.1 L1401.6 474.1 L1401.8 476.1 L1401.9 478.1 L1402.1 480.1 L1402.2 482.1 L1402.3 484.1 L1402.5 486.1 L1402.6 488.1 L1402.8 490.1 L1402.9 492.1 L1403.1 494.1 L1403.2 496.0 L1403.4 498.0 L1403.5 500.0 L1403.7 502.0 L1403.8 504.0 L1403.9 506.0 L1404.1 508.0 L1404.2 510.0 L1404.3 512.0 L1404.5 514.0 L1404.6 516.0 L1404.7 518.0 L1404.9 520.0 L1405.0 522.0 L1405.1 524.0 L1405.2 526.0 L1405.4 528.0 L1405.5 529.9 L1405.6 531.9 L1405.7 533.9 L1405.8 535.9 L1405.9 537.9 L1406.1 539.9 L1406.2 541.9 L1406.3 543.9 L1406.4 545.9 L1406.5 547.9 L1406.6 549.9 L1406.7 551.9 L1406.8 553.9 L1406.8 555.9 L1406.9 557.9 L1407.0 559.9 L1407.1 561.9 L1407.2 563.9 L1407.2 565.9 L1407.3 567.9 L1407.4 569.9 L1407.4 571.9 L1407.5 573.9 L1407.6 575.9 L1407.6 577.9 L1407.7 579.9 L1407.7 581.9 L1407.7 583.9 L1407.8 585.9 L1407.8 588.0 L1407.8 590.0 L1407.9 592.0 L1407.9 594.0 L1407.9 596.0 L1407.9 598.0 L1407.9 600.0 M1414.3 599.9 L1414.4 597.9 L1414.5 595.9 L1414.6 593.9 L1414.7 591.9 L1414.8 589.9 L1414.9 587.9 L1415.0 585.9 L1415.0 583.9 L1415.1 581.9 L1415.2 579.9 L1415.3 577.8 L1415.4 575.8 L1415.5 573.8 L1415.6 571.8 L1415.7 569.8 L1415.7 567.8 L1415.8 565.8 L1415.9 563.8 L1416.0 561.7 L1416.1 559.7 L1416.2 557.7 L1416.3 555.7 L1416.4 553.7 L1416.5 551.7 L1416.6 549.6 L1416.7 547.6 L1416.8 545.6 L1416.9 543.6 L1417.0 541.6 L1417.1 539.5 L1417.2 537.5 L1417.3 535.5 L1417.4 533.5 L1417.5 531.5 L1417.6 529.4 L1417.7 527.4 L1417.8 525.4 L1417.9 523.4 L1418.0 521.3 L1418.1 519.3 L1418.2 517.3 L1418.3 515.3 L1418.5 513.3 L1418.6 511.2 L1418.7 509.2 L1418.8 507.2 L1418.9 505.2 L1419.1 503.2 L1419.2 501.1 L1419.3 499.1 L1419.5 497.1 L1419.6 495.1 L1419.7 493.0 L1419.9 491.0 L1420.0 489.0 L1420.2 487.0 L1420.3 485.0 L1420.5 482.9 L1420.6 480.9 L1420.8 478.9 L1420.9 476.9 L1421.1 474.9 L1421.3 472.8 L1421.4 470.8 L1421.6 468.8 L1421.8 466.8 L1421.9 464.8 L1422.1 462.7 L1422.3 460.7 L1422.5 458.7 L1422.7 456.7 L1422.9 454.7 L1423.1 452.7 L1423.3 450.6 L1423.5 448.6 L1423.7 446.6 L1423.9 444.6 L1424.1 442.6 L1424.3 440.6 L1424.5 438.6 L1424.8 436.6 L1425.0 434.5 L1425.2 432.5 L1425.5 430.5 L1425.7 428.5 L1425.9 426.5 L1426.2 424.5 L1426.4 422.5 L1426.7 420.5 L1427.0 418.5 L1427.2 416.5 L1427.5 414.5 L1427.8 412.5 L1428.1 410.5 L1428.3 408.5 L1428.6 406.5 L1428.9 404.5 L1429.2 402.5 L1429.5 400.5 L1429.8 398.5 L1430.1 396.5 L1430.5 394.5 L1430.8 392.5 L1431.1 390.5 L1431.4 388.5 L1431.8 386.5 L1432.1 384.5 L1432.5 382.5 L1432.8 380.5 L1433.2 378.6 L1433.6 376.6 L1433.9 374.6 L1434.3 372.6 L1434.7 370.6 L1435.1 368.6 L1435.5 366.7 L1435.9 364.7 L1436.3 362.7 L1436.7 360.7 L1437.1 358.8 L1437.5 356.8 L1438.0 354.8 L1438.4 352.8 L1438.8 350.9 L1439.3 348.9 L1439.7 346.9 L1440.2 345.0 L1440.7 343.0 L1441.1 341.1 L1441.6 339.1 L1442.1 337.1 L1442.6 335.2 L1443.1 333.2 L1443.6 331.3 L1444.1 329.3 L1444.6 327.4 L1445.2 325.4 L1445.7 323.5 L1446.2 321.5 L1446.8 319.6 L1447.3 317.6 L1447.9 315.7 L1448.5 313.8 L1449.1 311.8 L1449.7 309.9 L1450.3 308.0 L1451.0 306.1 L1451.7 304.2 L1452.4 302.3 L1453.1 300.5 L1453.9 298.6 L1454.7 296.8 L1455.5 295.0 L1456.4 293.2 L1457.3 291.4 L1458.3 289.6 L1459.3 287.9 L1460.4 286.2 L1461.5 284.5 L1462.6 282.8 L1463.7 281.2 L1464.9 279.5 L1466.1 277.9 L1467.3 276.3 L1468.6 274.7 L1469.9 273.1 L1471.2 271.5 L1472.5 270.0 L1473.9 268.4 L1475.2 266.9 L1476.6 265.3 L1477.9 263.8 L1479.3 262.3 L1480.6 260.7 L1482.0 259.2 L1483.3 257.7 L1484.7 256.2 L1486.0 254.6 L1487.3 253.1 L1488.6 251.6 L1489.8 250.0 L1491.1 248.4" fill="none" stroke="#b2b2b2" stroke-width="5.33" stroke-linejoin="round" stroke-dasharray="4.2 3.8"/>
<path d="M126.7 128.0 L128.3 126.8 L130.0 125.6 L131.6 124.4 L133.2 123.2 L134.9 122.1 L136.6 121.0 L138.3 119.9 L140.0 118.8 L141.7 117.7 L143.4 116.7 L145.1 115.7 L146.8 114.7 L148.6 113.7 L150.3 112.8 L152.1 111.8 L153.9 110.9 L155.6 110.0 L157.4 109.1 L159.2 108.2 L161.0 107.4 L162.9 106.6 L164.7 105.7 L166.5 104.9 L168.3 104.2 L170.2 103.4 L172.0 102.6 L173.9 101.9 L175.8 101.2 L177.6 100.5 L179.5 99.8 L181.4 99.1 L183.3 98.5 L185.2 97.8 L187.1 97.2 L189.0 96.6 L190.9 96.0 L192.8 95.4 L194.8 94.8 L196.7 94.2 L198.6 93.7 L200.6 93.1 L202.5 92.6 L204.4 92.1 L206.4 91.6 L208.3 91.1 L210.3 90.6 L212.2 90.1 L214.2 89.7 L216.2 89.2 L218.1 88.8 L220.1 88.3 L222.1 87.9 L224.0 87.5 L226.0 87.1 L228.0 86.7 L230.0 86.3 L231.9 85.9 L233.9 85.6 L235.9 85.2 L237.9 84.9 L239.9 84.5 L241.8 84.2 L243.8 83.9 L245.8 83.6 L247.8 83.3 L249.8 83.0 L251.8 82.8 L253.8 82.6 L255.8 82.3 L257.7 82.1 L259.7 81.9 L261.7 81.8 L263.7 81.6 L265.7 81.5 L267.7 81.4 L269.7 81.3 L271.7 81.2 L273.7 81.1 L275.7 81.1 L277.6 81.0 L279.6 81.0 L281.6 81.1 L283.6 81.1 L285.6 81.2 L287.6 81.2 L289.6 81.3 L291.6 81.5 L293.6 81.6 L295.6 81.8 L297.5 81.9 L299.5 82.1 L301.5 82.3 L303.5 82.6 L305.5 82.8 L307.5 83.0 L309.5 83.3 L311.5 83.6 L313.5 83.9 L315.4 84.2 L317.4 84.5 L319.4 84.8 L321.4 85.2 L323.4 85.5 L325.4 85.9 L327.4 86.3 L329.3 86.6 L331.3 87.0 L333.3 87.4 L335.3 87.8 L337.3 88.2 L339.3 88.6 L341.3 89.0 L343.3 89.4 L345.2 89.8 L347.2 90.2 L349.2 90.6 L351.2 91.0 L353.2 91.4 L355.2 91.7 L357.2 92.0 L359.1 92.4 L361.1 92.7 L363.1 92.9 L365.1 93.2 L367.1 93.4 L369.1 93.6 L371.0 93.8 L373.0 93.9 L375.0 94.0 L377.0 94.1 L379.0 94.1 L380.9 94.1 L382.9 94.1 L384.9 94.0 L386.9 93.9 L388.9 93.7 L390.8 93.6 L392.8 93.4 L394.8 93.1 L396.8 92.9 L398.8 92.6 L400.7 92.3 L402.7 92.0 L404.7 91.6 L406.7 91.3 L408.7 90.9 L410.6 90.6 L412.6 90.2 L414.6 89.8 L416.6 89.4 L418.6 89.0 L420.6 88.6 L422.5 88.2 L424.5 87.8 L426.5 87.5 L428.5 87.1 L430.5 86.7 L432.5 86.4 L434.5 86.0 L436.5 85.7 L438.5 85.4 L440.5 85.1 L442.5 84.9 L444.4 84.6 L446.4 84.4 L448.4 84.2 L450.4 84.0 L452.4 83.8 L454.4 83.6 L456.4 83.4 L458.4 83.3 L460.4 83.2 L462.4 83.1 L464.4 83.0 L466.4 82.9 L468.4 82.8 L470.4 82.8 L472.4 82.8 L474.4 82.8 L476.4 82.8 L478.4 82.8 L480.4 82.8 L482.4 82.9 L484.4 82.9 L486.4 83.0 L488.4 83.1 L490.4 83.2 L492.4 83.4 L494.4 83.5 L496.4 83.7 L498.4 83.8 L500.3 84.0 L502.3 84.2 L504.3 84.5 L506.3 84.7 L508.3 85.0 L510.2 85.2 L512.2 85.5 L514.2 85.8 L516.2 86.1 L518.1 86.5 L520.1 86.8 L522.1 87.2 L524.0 87.5 L526.0 87.9 L527.9 88.3 L529.9 88.8 L531.8 89.2 L533.8 89.7 L535.7 90.1 L537.7 90.6 L539.6 91.1 L541.5 91.6 L543.5 92.1 L545.4 92.7 L547.3 93.2 L549.2 93.8 L551.1 94.4 L553.1 95.0 L555.0 95.6 L556.9 96.2 L558.8 96.8 L560.7 97.4 L562.6 98.1 L564.5 98.7 L566.4 99.3 L568.3 100.0 L570.2 100.6 L572.1 101.3 L574.0 101.9 L575.9 102.6 L577.8 103.3 L579.7 103.9 L581.6 104.6 L583.5 105.2 L585.5 105.9 L587.4 106.5 L589.3 107.2 L591.2 107.8 L593.1 108.5 L595.0 109.1 L596.9 109.7 L598.8 110.4 L600.8 111.0 L602.7 111.6 L604.6 112.2 L606.5 112.7 L608.5 113.3 L610.4 113.9 L612.3 114.4 L614.3 115.0 L616.2 115.5 L618.2 116.0 L620.1 116.5 L622.1 117.0 L624.0 117.5 L626.0 118.0 L627.9 118.4 L629.9 118.8 L631.8 119.3 L633.8 119.7 L635.8 120.1 L637.7 120.5 L639.7 120.8 L641.7 121.2 L643.7 121.5 L645.6 121.9 L647.6 122.2 L649.6 122.5 L651.6 122.8 L653.6 123.0 L655.6 123.3 L657.6 123.5 L659.5 123.7 L661.5 123.9 L663.5 124.1 L665.5 124.3 L667.5 124.4 L669.5 124.5 L671.5 124.6 L673.5 124.7 L675.5 124.8 L677.5 124.8 L679.5 124.9 L681.5 124.9 L683.5 124.8 L685.5 124.8 L687.5 124.7 L689.5 124.6 L691.5 124.5 L693.4 124.4 L695.4 124.2 L697.4 124.0 L699.4 123.8 L701.3 123.6 L703.3 123.3 L705.3 123.0 L707.2 122.6 L709.2 122.3 L711.1 121.9 L713.1 121.4 L715.0 121.0 L716.9 120.5 L718.8 119.9 L720.8 119.4 L722.7 118.8 L724.6 118.1 L726.5 117.5 L728.3 116.8 L730.2 116.1 L732.1 115.3 L734.0 114.6 L735.8 113.8 L737.7 113.0 L739.6 112.2 L741.4 111.3 L743.3 110.5 L745.1 109.6 L747.0 108.8 L748.8 107.9 L750.7 107.1 L752.5 106.2 L754.4 105.3 L756.2 104.5 L758.1 103.6 L759.9 102.8 L761.8 101.9 L763.6 101.1 L765.5 100.3 L767.3 99.5 L769.2 98.7 L771.1 98.0 L772.9 97.3 L774.8 96.6 L776.7 95.9 L778.6 95.2 L780.5 94.6 L782.4 94.0 L784.3 93.5 L786.2 93.0 L788.1 92.5 L790.0 92.1 L792.0 91.7 L793.9 91.3 L795.8 91.0 L797.8 90.7 L799.7 90.4 L801.7 90.2 L803.7 90.1 L805.7 90.0 L807.6 89.9 L809.6 89.8 L811.6 89.8 L813.6 89.9 L815.6 90.0 L817.6 90.1 L819.7 90.3 L821.7 90.5 L823.7 90.7 L825.7 91.0 L827.8 91.4 L829.8 91.8 L831.8 92.2 L833.8 92.7 L835.8 93.2 L837.7 93.8 L839.7 94.4 L841.6 95.0 L843.5 95.7 L845.4 96.4 L847.3 97.2 L849.1 98.0 L850.9 98.8 L852.7 99.7 L854.5 100.6 L856.2 101.6 L857.9 102.6 L859.6 103.6 L861.2 104.6 L862.9 105.7 L864.5 106.8 L866.1 108.0 L867.7 109.1 L869.2 110.3 L870.8 111.5 L872.3 112.8 L873.8 114.1 L875.3 115.4 L876.8 116.7 L878.2 118.0 L879.7 119.4 L881.1 120.7 L882.5 122.1 L884.0 123.5 L885.4 124.9 L886.8 126.4 L888.2 127.8 L889.5 129.3 L890.9 130.7 L892.3 132.2 L893.6 133.7 L895.0 135.2 L896.4 136.7 L897.7 138.2 L899.1 139.7 L900.4 141.2 L901.8 142.7 L903.1 144.2 L904.5 145.7 L905.8 147.2 L907.2 148.7 L908.5 150.2 L909.9 151.7 L911.2 153.2 L912.6 154.7 L913.9 156.2 L915.3 157.7 L916.7 159.2 L918.0 160.7 L919.4 162.2 L920.8 163.6 L922.2 165.1 L923.6 166.6 L925.0 168.0 L926.4 169.5 L927.8 170.9 L929.2 172.3 L930.6 173.7 L932.0 175.2 L933.5 176.5 L934.9 177.9 L936.4 179.3 L937.8 180.7 L939.3 182.0 L940.8 183.3 L942.3 184.6 L943.8 186.0 L945.3 187.2 L946.9 188.5 L948.4 189.8 L950.0 191.0 L951.5 192.2 L953.1 193.4 L954.7 194.6 L956.3 195.8 L957.9 196.9 L959.5 198.0 L961.2 199.1 L962.8 200.2 L964.5 201.3 L966.2 202.4 L967.9 203.4 L969.6 204.5 L971.3 205.5 L973.0 206.5 L974.7 207.4 L976.5 208.4 L978.2 209.4 L980.0 210.3 L981.8 211.2 L983.5 212.1 L985.3 213.0 L987.1 213.9 L988.9 214.8 L990.7 215.6 L992.6 216.5 L994.4 217.3 L996.2 218.1 L998.1 218.9 L999.9 219.7 L1001.8 220.5 L1003.6 221.3 L1005.5 222.0 L1007.4 222.8 L1009.2 223.5 L1011.1 224.2 L1013.0 224.9 L1014.9 225.6 L1016.8 226.3 L1018.7 227.0 L1020.6 227.7 L1022.5 228.3 L1024.4 229.0 L1026.4 229.6 L1028.3 230.3 L1030.2 230.9 L1032.2 231.5 L1034.1 232.1 L1036.0 232.7 L1038.0 233.3 L1039.9 233.9 L1041.8 234.5 L1043.8 235.1 L1045.7 235.6 L1047.7 236.2 L1049.6 236.7 L1051.6 237.2 L1053.5 237.8 L1055.5 238.3 L1057.4 238.8 L1059.4 239.2 L1061.3 239.7 L1063.3 240.1 L1065.3 240.5 L1067.2 241.0 L1069.2 241.3 L1071.1 241.7 L1073.1 242.1 L1075.1 242.4 L1077.0 242.7 L1079.0 243.0 L1081.0 243.2 L1082.9 243.5 L1084.9 243.7 L1086.9 243.9 L1088.8 244.0 L1090.8 244.2 L1092.8 244.3 L1094.8 244.3 L1096.7 244.4 L1098.7 244.4 L1100.7 244.4 L1102.6 244.3 L1104.6 244.2 L1106.6 244.1 L1108.5 244.0 L1110.5 243.8 L1112.5 243.6 L1114.4 243.3 L1116.4 243.0 L1118.4 242.7 L1120.3 242.3 L1122.3 241.9 L1124.3 241.5 L1126.2 241.0 L1128.2 240.5 L1130.1 240.0 L1132.1 239.4 L1134.0 238.8 L1136.0 238.2 L1137.9 237.6 L1139.9 236.9 L1141.8 236.2 L1143.8 235.6 L1145.7 234.9 L1147.6 234.2 L1149.5 233.5 L1151.5 232.8 L1153.4 232.1 L1155.3 231.4 L1157.2 230.6 L1159.1 230.0 L1161.0 229.3 L1162.9 228.6 L1164.7 227.9 L1166.6 227.2 L1168.5 226.6 L1170.3 225.9 L1172.2 225.3 L1174.1 224.6 L1175.9 224.0 L1177.8 223.3 L1179.6 222.7 L1181.5 222.0 L1183.3 221.4 L1185.2 220.7 L1187.1 220.1 L1188.9 219.4 L1190.8 218.7 L1192.7 218.0 L1194.5 217.3 L1196.4 216.6 L1198.3 215.9 L1200.1 215.1 L1202.0 214.4 L1203.9 213.6 L1205.8 212.9 L1207.6 212.1 L1209.5 211.3 L1211.3 210.5 L1213.2 209.7 L1215.0 208.9 L1216.9 208.0 L1218.7 207.2 L1220.6 206.3 L1222.4 205.5 L1224.2 204.6 L1226.0 203.7 L1227.8 202.8 L1229.6 201.9 L1231.4 200.9 L1233.1 200.0 L1234.9 199.0 L1236.6 198.1 L1238.3 197.1 L1240.0 196.1 L1241.7 195.0 L1243.4 193.9 L1245.0 192.8 L1246.7 191.7 L1248.3 190.5 L1249.8 189.3 L1251.3 188.0 L1252.8 186.7 L1254.3 185.4 L1255.7 184.0 L1257.1 182.5 L1258.5 181.1 L1259.9 179.6 L1261.3 178.2 L1262.7 176.7 L1264.1 175.2 L1265.5 173.8 L1266.9 172.4 L1268.3 171.0 L1269.7 169.6 L1271.2 168.2 L1272.6 166.8 L1274.0 165.5 L1275.5 164.1 L1277.0 162.8 L1278.4 161.5 L1279.9 160.2 L1281.4 158.9 L1282.9 157.6 L1284.4 156.3 L1285.9 155.0 L1287.4 153.7 L1288.9 152.4 L1290.4 151.1 L1291.9 149.8 L1293.4 148.6 L1294.9 147.3 L1296.5 146.0 L1298.0 144.7 L1299.5 143.4 L1301.1 142.1 L1302.6 140.8 L1304.1 139.5 L1305.7 138.2 L1307.2 136.8 L1308.7 135.5 L1310.3 134.2 L1311.8 132.9 L1313.4 131.5 L1314.9 130.2 L1316.5 128.9 L1318.0 127.6 L1319.6 126.3 L1321.2 125.0 L1322.7 123.7 L1324.3 122.4 L1325.9 121.2 L1327.5 119.9 L1329.2 118.7 L1330.8 117.5 L1332.4 116.4 L1334.1 115.2 L1335.8 114.1 L1337.4 113.0 L1339.1 112.0 L1340.8 110.9 L1342.6 109.9 L1344.3 109.0 L1346.0 108.0 L1347.8 107.1 L1349.6 106.2 L1351.4 105.4 L1353.1 104.6 L1355.0 103.8 L1356.8 103.0 L1358.6 102.3 L1360.5 101.6 L1362.3 100.9 L1364.2 100.3 L1366.1 99.6 L1367.9 99.0 L1369.8 98.5 L1371.7 97.9 L1373.6 97.4 L1375.6 96.9 L1377.5 96.4 L1379.4 96.0 L1381.4 95.6 L1383.3 95.2 L1385.3 94.8 L1387.3 94.4 L1389.2 94.1 L1391.2 93.8 L1393.2 93.5 L1395.2 93.2 L1397.2 93.0 L1399.2 92.7 L1401.2 92.5 L1403.2 92.3 L1405.2 92.2 L1407.2 92.0 L1409.2 91.9 L1411.2 91.8 L1413.3 91.7 L1415.3 91.6 L1417.3 91.5 L1419.4 91.5 L1421.4 91.4 L1423.4 91.4 L1425.5 91.4 L1427.5 91.4 L1429.5 91.4 L1431.6 91.5 L1433.6 91.5 L1435.6 91.6 L1437.7 91.7 L1439.7 91.8 L1441.7 91.9 L1443.8 92.0 L1445.8 92.1 L1447.8 92.3 L1449.8 92.4 L1451.8 92.6 L1453.9 92.8 L1455.9 92.9 L1457.9 93.1 L1459.9 93.3 L1461.9 93.5 L1463.9 93.8 L1465.8 94.0 L1467.8 94.2 L1469.8 94.4 L1471.8 94.7 L1473.7 94.9 L1475.7 95.2 L1477.6 95.5 L1479.6 95.7 L1481.5 96.0 L1483.4 96.3 L1485.4 96.5 L1487.3 96.8 L1489.2 97.1 L1491.1 97.4" fill="none" stroke="#b2b2b2" stroke-width="5.33" stroke-linejoin="round" stroke-dasharray="16.6 15.6"/>
<path d="M126.7 142.6 L128.1 144.1 L129.4 145.6 L130.7 147.2 L132.0 148.8 L133.2 150.4 L134.5 152.0 L135.7 153.6 L136.9 155.2 L138.0 156.8 L139.1 158.5 L140.2 160.2 L141.3 161.8 L142.4 163.5 L143.4 165.3 L144.4 167.0 L145.4 168.7 L146.4 170.4 L147.4 172.2 L148.3 173.9 L149.2 175.7 L150.2 177.5 L151.1 179.3 L151.9 181.1 L152.8 182.9 L153.7 184.7 L154.5 186.5 L155.4 188.3 L156.2 190.1 L157.0 191.9 L157.8 193.8 L158.6 195.6 L159.4 197.4 L160.2 199.3 L161.0 201.1 L161.7 203.0 L162.5 204.8 L163.3 206.7 L164.1 208.5 L164.8 210.4 L165.6 212.2 L166.3 214.1 L167.1 216.0 L167.8 217.8 L168.5 219.7 L169.3 221.5 L170.0 223.4 L170.7 225.3 L171.5 227.1 L172.2 229.0 L172.9 230.9 L173.6 232.7 L174.4 234.6 L175.1 236.5 L175.8 238.4 L176.5 240.2 L177.2 242.1 L177.9 244.0 L178.6 245.9 L179.3 247.7 L180.1 249.6 L180.8 251.5 L181.5 253.4 L182.2 255.2 L182.9 257.1 L183.6 259.0 L184.3 260.9 L185.0 262.7 L185.7 264.6 L186.4 266.5 L187.1 268.4 L187.8 270.2 L188.5 272.1 L189.2 274.0 L190.0 275.8 L190.7 277.7 L191.4 279.6 L192.1 281.4 L192.8 283.3 L193.5 285.2 L194.2 287.1 L194.9 288.9 L195.6 290.8 L196.3 292.7 L197.0 294.5 L197.7 296.4 L198.4 298.3 L199.1 300.2 L199.8 302.0 L200.5 303.9 L201.2 305.8 L201.9 307.7 L202.6 309.5 L203.3 311.4 L203.9 313.3 L204.6 315.2 L205.3 317.0 L205.9 318.9 L206.6 320.8 L207.3 322.7 L207.9 324.6 L208.6 326.5 L209.2 328.4 L209.8 330.3 L210.5 332.1 L211.1 334.0 L211.7 335.9 L212.3 337.8 L212.9 339.7 L213.5 341.6 L214.1 343.5 L214.7 345.5 L215.3 347.4 L215.9 349.3 L216.5 351.2 L217.0 353.1 L217.6 355.0 L218.1 357.0 L218.7 358.9 L219.2 360.8 L219.7 362.7 L220.2 364.7 L220.7 366.6 L221.2 368.6 L221.7 370.5 L222.2 372.5 L222.7 374.4 L223.1 376.4 L223.6 378.3 L224.0 380.3 L224.4 382.3 L224.9 384.2 L225.3 386.2 L225.7 388.2 L226.1 390.2 L226.4 392.1 L226.8 394.1 L227.2 396.1 L227.5 398.1 L227.9 400.1 L228.2 402.1 L228.5 404.1 L228.9 406.1 L229.2 408.1 L229.5 410.1 L229.8 412.1 L230.2 414.1 L230.5 416.1 L230.8 418.1 L231.1 420.1 L231.5 422.1 L231.8 424.1 L232.1 426.1 L232.5 428.1 L232.8 430.1 L233.2 432.1 L233.5 434.1 L233.9 436.1 L234.3 438.0 L234.7 440.0 L235.1 442.0 L235.5 443.9 L235.9 445.9 L236.4 447.8 L236.8 449.8 L237.3 451.7 L237.8 453.7 L238.3 455.6 L238.8 457.5 L239.4 459.4 L240.0 461.3 L240.6 463.2 L241.2 465.1 L241.8 466.9 L242.5 468.8 L243.1 470.6 L243.9 472.5 L244.6 474.3 L245.3 476.1 L246.1 477.9 L246.9 479.7 L247.8 481.5 L248.6 483.3 L249.5 485.1 L250.4 486.8 L251.4 488.6 L252.3 490.3 L253.3 492.0 L254.3 493.8 L255.3 495.5 L256.3 497.2 L257.3 498.9 L258.4 500.6 L259.5 502.3 L260.5 504.0 L261.6 505.7 L262.7 507.4 L263.9 509.1 L265.0 510.8 L266.2 512.5 L267.3 514.2 L268.5 515.8 L269.7 517.5 L270.8 519.2 L272.0 520.8 L273.2 522.5 L274.5 524.1 L275.7 525.8 L276.9 527.4 L278.2 529.0 L279.4 530.6 L280.7 532.1 L282.0 533.6 L283.3 535.1 L284.6 536.6 L285.9 538.1 L287.2 539.5 L288.6 540.9 L289.9 542.2 L291.3 543.4 L292.6 544.2 L294.0 544.4 L295.3 544.0 L296.5 543.0 L297.6 541.5 L298.5 539.7 L299.3 537.6 L300.0 535.3 L300.6 533.0 L301.2 530.7 L301.8 528.5 L302.3 526.4 L302.8 524.3 L303.2 522.3 L303.7 520.4 L304.1 518.5 L304.5 516.6 L304.9 514.7 L305.3 512.8 L305.6 510.9 L306.0 509.1 L306.4 507.2 L306.8 505.2 L307.2 503.3 L307.5 501.4 L307.9 499.5 L308.3 497.5 L308.6 495.6 L309.0 493.7 L309.3 491.7 L309.7 489.7 L310.0 487.8 L310.4 485.8 L310.7 483.9 L311.1 481.9 L311.4 479.9 L311.8 477.9 L312.1 475.9 L312.4 474.0 L312.8 472.0 L313.1 470.0 L313.4 468.0 L313.8 466.0 L314.1 464.0 L314.4 462.0 L314.7 460.0 L315.1 458.0 L315.4 456.0 L315.7 454.0 L316.0 452.0 L316.3 450.0 L316.6 448.0 L316.9 446.0 L317.2 444.0 L317.5 442.0 L317.8 440.0 L318.1 438.1 L318.4 436.1 L318.7 434.1 L319.0 432.1 L319.3 430.1 L319.6 428.1 L319.9 426.1 L320.2 424.1 L320.5 422.2 L320.8 420.2 L321.1 418.2 L321.4 416.2 L321.6 414.2 L321.9 412.2 L322.2 410.3 L322.5 408.3 L322.8 406.3 L323.1 404.3 L323.4 402.4 L323.7 400.4 L324.0 398.4 L324.3 396.4 L324.6 394.5 L325.0 392.5 L325.3 390.5 L325.6 388.5 L325.9 386.6 L326.2 384.6 L326.5 382.6 L326.9 380.7 L327.2 378.7 L327.5 376.7 L327.9 374.8 L328.2 372.8 L328.5 370.8 L328.9 368.9 L329.2 366.9 L329.6 364.9 L329.9 363.0 L330.3 361.0 L330.7 359.0 L331.1 357.1 L331.4 355.1 L331.8 353.2 L332.2 351.2 L332.6 349.2 L333.0 347.3 L333.4 345.3 L333.8 343.4 L334.2 341.4 L334.7 339.4 L335.1 337.5 L335.5 335.5 L336.0 333.6 L336.4 331.6 L336.9 329.7 L337.3 327.7 L337.8 325.7 L338.3 323.8 L338.7 321.8 L339.2 319.9 L339.7 317.9 L340.2 316.0 L340.7 314.0 L341.2 312.1 L341.7 310.2 L342.2 308.2 L342.7 306.3 L343.2 304.3 L343.8 302.4 L344.3 300.5 L344.8 298.5 L345.3 296.6 L345.9 294.6 L346.4 292.7 L347.0 290.8 L347.5 288.9 L348.1 286.9 L348.7 285.0 L349.2 283.1 L349.8 281.2 L350.4 279.3 L350.9 277.3 L351.5 275.4 L352.1 273.5 L352.7 271.6 L353.3 269.7 L353.9 267.8 L354.5 265.9 L355.2 264.1 L355.9 262.2 L356.6 260.3 L357.3 258.5 L358.1 256.7 L359.0 254.9 L359.9 253.1 L360.9 251.4 L362.0 249.7 L363.1 248.0 L364.3 246.3 L365.6 244.7 L367.0 243.1 L368.5 241.6 L370.1 240.2 L371.8 239.1 L373.6 238.2 L375.4 237.6 L377.3 237.5 L379.2 237.7 L381.0 238.4 L382.7 239.4 L384.3 240.6 L385.7 242.1 L387.1 243.6 L388.4 245.2 L389.5 246.9 L390.6 248.5 L391.7 250.3 L392.6 252.0 L393.5 253.8 L394.3 255.6 L395.1 257.5 L395.8 259.4 L396.5 261.2 L397.2 263.1 L397.9 265.1 L398.5 267.0 L399.2 268.9 L399.8 270.8 L400.5 272.7 L401.1 274.6 L401.8 276.5 L402.5 278.4 L403.2 280.3 L403.8 282.2 L404.5 284.1 L405.1 286.0 L405.8 287.9 L406.4 289.8 L407.1 291.7 L407.7 293.6 L408.3 295.5 L408.9 297.4 L409.5 299.3 L410.1 301.2 L410.7 303.1 L411.2 305.0 L411.8 307.0 L412.3 308.9 L412.9 310.8 L413.4 312.7 L413.9 314.6 L414.4 316.6 L414.9 318.5 L415.4 320.4 L415.9 322.4 L416.4 324.3 L416.8 326.3 L417.3 328.2 L417.8 330.1 L418.2 332.1 L418.7 334.0 L419.1 336.0 L419.5 337.9 L420.0 339.9 L420.4 341.8 L420.8 343.8 L421.2 345.7 L421.6 347.7 L422.0 349.7 L422.4 351.6 L422.9 353.6 L423.3 355.6 L423.6 357.5 L424.0 359.5 L424.4 361.5 L424.8 363.4 L425.2 365.4 L425.6 367.4 L426.0 369.4 L426.4 371.3 L426.8 373.3 L427.1 375.3 L427.5 377.3 L427.9 379.3 L428.3 381.2 L428.7 383.2 L429.1 385.2 L429.5 387.2 L429.9 389.2 L430.3 391.1 L430.8 393.1 L431.3 395.1 L431.7 397.0 L432.2 399.0 L432.7 400.9 L433.3 402.8 L433.9 404.7 L434.5 406.6 L435.1 408.5 L435.7 410.4 L436.4 412.3 L437.2 414.1 L437.9 416.0 L438.7 417.8 L439.6 419.6 L440.5 421.4 L441.4 423.1 L442.4 424.9 L443.4 426.6 L444.5 428.3 L445.6 430.0 L446.8 431.6 L448.1 433.2 L449.5 434.6 L451.0 435.9 L452.6 436.9 L454.4 437.7 L456.3 438.3 L458.3 438.8 L460.2 439.4 L462.0 440.2 L463.7 441.2 L465.2 442.4 L466.6 443.9 L468.0 445.5 L469.2 447.2 L470.5 449.0 L471.7 450.8 L472.9 452.6 L474.1 454.4 L475.4 456.1 L476.7 457.6 L478.1 459.0 L479.5 460.2 L481.2 461.1 L482.9 461.8 L484.8 462.1 L486.6 462.0 L488.3 461.5 L489.9 460.6 L491.3 459.2 L492.6 457.6 L493.7 455.8 L494.8 453.8 L495.8 451.8 L496.8 449.9 L497.8 447.9 L498.8 446.1 L499.7 444.3 L500.6 442.5 L501.5 440.8 L502.3 439.0 L503.2 437.2 L504.0 435.5 L504.8 433.7 L505.6 431.8 L506.3 430.0 L507.1 428.1 L507.8 426.3 L508.5 424.4 L509.2 422.5 L509.9 420.6 L510.5 418.7 L511.2 416.8 L511.8 414.9 L512.4 413.0 L513.1 411.1 L513.7 409.2 L514.3 407.3 L514.9 405.4 L515.5 403.4 L516.2 401.5 L516.8 399.6 L517.4 397.7 L518.1 395.8 L518.7 393.9 L519.4 392.0 L520.0 390.1 L520.7 388.3 L521.4 386.4 L522.1 384.5 L522.9 382.7 L523.6 380.9 L524.4 379.0 L525.2 377.2 L526.1 375.4 L526.9 373.6 L527.8 371.8 L528.8 370.1 L529.7 368.3 L530.7 366.6 L531.7 364.9 L532.8 363.2 L533.9 361.5 L535.0 359.8 L536.1 358.1 L537.2 356.5 L538.4 354.8 L539.5 353.2 L540.7 351.5 L541.9 349.9 L543.0 348.2 L544.2 346.5 L545.3 344.9 L546.5 343.2 L547.6 341.5 L548.7 339.9 L549.8 338.2 L550.8 336.5 L551.9 334.7 L552.9 333.0 L553.9 331.3 L554.9 329.5 L555.8 327.8 L556.8 326.0 L557.7 324.3 L558.6 322.5 L559.5 320.7 L560.4 318.9 L561.3 317.1 L562.1 315.3 L563.0 313.5 L563.9 311.7 L564.7 309.9 L565.5 308.1 L566.4 306.3 L567.2 304.5 L568.0 302.6 L568.8 300.8 L569.7 299.0 L570.5 297.2 L571.3 295.3 L572.1 293.5 L573.0 291.7 L573.8 289.9 L574.6 288.1 L575.5 286.2 L576.3 284.4 L577.2 282.6 L578.1 280.8 L579.0 279.0 L579.9 277.2 L580.8 275.4 L581.7 273.7 L582.6 271.9 L583.5 270.1 L584.5 268.3 L585.4 266.6 L586.4 264.8 L587.4 263.0 L588.4 261.3 L589.3 259.5 L590.3 257.8 L591.3 256.1 L592.4 254.3 L593.4 252.6 L594.4 250.9 L595.5 249.2 L596.5 247.5 L597.5 245.8 L598.6 244.1 L599.7 242.4 L600.7 240.7 L601.8 239.0 L602.9 237.3 L604.0 235.6 L605.1 233.9 L606.2 232.3 L607.3 230.6 L608.4 229.0 L609.5 227.3 L610.6 225.7 L611.8 224.0 L612.9 222.4 L614.0 220.7 L615.1 219.1 L616.2 217.4 L617.3 215.7 L618.4 214.1 L619.5 212.4 L620.5 210.7 L621.6 209.0 L622.6 207.3 L623.6 205.6 L624.6 203.9 L625.6 202.1 L626.5 200.4 L627.4 198.6 L628.3 196.8 L629.2 195.0 L630.0 193.1 L630.9 191.3 L631.7 189.4 L632.5 187.6 L633.4 185.8 L634.2 183.9 L635.1 182.1 L636.0 180.3 L636.8 178.6 L637.7 176.8 L638.7 175.0 L639.6 173.2 L640.5 171.5 L641.5 169.7 L642.4 168.0 L643.4 166.2 L644.3 164.5 L645.3 162.7 L646.3 161.0 L647.2 159.2 L648.2 157.5 L649.2 155.7 L650.2 154.0 L651.2 152.2 L652.2 150.4 L653.2 148.7 L654.3 146.9 L655.4 145.2 L656.5 143.6 L657.8 142.0 L659.1 140.4 L660.5 139.0 L662.0 137.6 L663.6 136.3 L665.3 135.2 L667.2 134.2 L669.2 133.3 L671.2 132.7 L673.2 132.3 L675.2 132.2 L677.1 132.5 L678.8 133.2 L680.4 134.2 L682.0 135.5 L683.4 137.0 L684.7 138.6 L686.0 140.2 L687.2 141.9 L688.3 143.6 L689.4 145.4 L690.4 147.1 L691.4 148.9 L692.3 150.7 L693.2 152.5 L694.0 154.3 L694.8 156.1 L695.6 158.0 L696.3 159.8 L697.0 161.7 L697.7 163.6 L698.3 165.5 L698.9 167.4 L699.5 169.3 L700.1 171.2 L700.6 173.1 L701.2 175.0 L701.7 177.0 L702.2 178.9 L702.7 180.9 L703.3 182.8 L703.8 184.7 L704.3 186.7 L704.8 188.6 L705.3 190.6 L705.9 192.5 L706.4 194.4 L706.9 196.4 L707.5 198.3 L708.0 200.2 L708.6 202.1 L709.1 204.1 L709.7 206.0 L710.2 207.9 L710.8 209.8 L711.3 211.7 L711.9 213.6 L712.4 215.6 L713.0 217.5 L713.5 219.4 L714.0 221.3 L714.6 223.3 L715.1 225.2 L715.6 227.1 L716.1 229.0 L716.7 231.0 L717.2 232.9 L717.6 234.9 L718.1 236.8 L718.6 238.7 L719.1 240.7 L719.5 242.7 L719.9 244.6 L720.4 246.6 L720.8 248.6 L721.2 250.6 L721.6 252.6 L722.0 254.5 L722.4 256.5 L722.8 258.5 L723.2 260.5 L723.6 262.5 L724.1 264.4 L724.6 266.4 L725.2 268.3 L725.7 270.2 L726.4 272.1 L727.1 274.0 L727.8 275.8 L728.6 277.6 L729.5 279.4 L730.5 281.2 L731.5 282.9 L732.6 284.5 L733.9 286.2 L735.2 287.7 L736.6 289.2 L738.2 290.5 L739.8 291.5 L741.6 292.1 L743.5 292.4 L745.4 292.5 L747.4 292.4 L749.5 292.2 L751.6 292.1 L753.7 292.1 L755.8 292.4 L757.8 292.8 L759.8 293.5 L761.6 294.4 L763.3 295.4 L764.9 296.5 L766.4 297.8 L767.8 299.1 L769.0 300.6 L770.2 302.2 L771.2 303.8 L772.2 305.5 L773.2 307.3 L774.0 309.1 L774.9 311.0 L775.7 312.9 L776.5 314.8 L777.2 316.7 L778.0 318.6 L778.8 320.5 L779.6 322.4 L780.5 324.2 L781.3 326.1 L782.2 327.9 L783.0 329.7 L783.9 331.6 L784.7 333.4 L785.6 335.2 L786.4 337.0 L787.3 338.8 L788.1 340.7 L788.9 342.5 L789.6 344.3 L790.4 346.2 L791.1 348.0 L791.8 349.9 L792.5 351.8 L793.2 353.6 L793.9 355.5 L794.5 357.4 L795.1 359.3 L795.7 361.2 L796.3 363.1 L796.9 365.0 L797.5 366.9 L798.0 368.8 L798.6 370.7 L799.1 372.7 L799.6 374.6 L800.1 376.5 L800.6 378.5 L801.0 380.4 L801.5 382.4 L801.9 384.3 L802.4 386.3 L802.8 388.2 L803.2 390.2 L803.6 392.1 L804.0 394.1 L804.4 396.1 L804.8 398.0 L805.1 400.0 L805.5 402.0 L805.8 403.9 L806.2 405.9 L806.5 407.9 L806.8 409.9 L807.2 411.8 L807.5 413.8 L807.8 415.8 L808.1 417.8 L808.4 419.8 L808.7 421.8 L809.0 423.7 L809.2 425.7 L809.5 427.7 L809.8 429.7 L810.1 431.7 L810.3 433.7 L810.6 435.7 L810.9 437.6 L811.1 439.6 L811.4 441.6 L811.6 443.6 L811.8 445.6 L812.1 447.6 L812.3 449.6 L812.5 451.6 L812.8 453.6 L813.0 455.6 L813.2 457.5 L813.4 459.5 L813.6 461.5 L813.8 463.5 L814.0 465.5 L814.3 467.5 L814.5 469.5 L814.7 471.5 L814.8 473.5 L815.0 475.5 L815.2 477.5 L815.4 479.5 L815.6 481.5 L815.8 483.5 L816.0 485.5 L816.2 487.4 L816.3 489.4 L816.5 491.4 L816.7 493.4 L816.9 495.4 L817.0 497.4 L817.2 499.4 L817.4 501.4 L817.5 503.4 L817.7 505.4 L817.9 507.4 L818.0 509.4 L818.2 511.4 L818.3 513.4 L818.5 515.4 L818.7 517.4 L818.8 519.4 L819.0 521.4 L819.1 523.4 L819.3 525.4 L819.5 527.4 L819.6 529.4 L819.8 531.4 L819.9 533.4 L820.1 535.4 L820.2 537.4 L820.4 539.4 L820.6 541.4 L820.7 543.4 L820.9 545.4 L821.0 547.4 L821.2 549.4 L821.4 551.4 L821.5 553.4 L821.7 555.3 L821.9 557.3 L822.0 559.3 L822.2 561.3 L822.4 563.3 L822.5 565.3 L822.7 567.3 L822.9 569.3 L823.0 571.3 L823.2 573.3 L823.4 575.3 M835.7 575.3 L835.8 573.3 L836.0 571.3 L836.1 569.3 L836.2 567.3 L836.4 565.3 L836.5 563.3 L836.7 561.3 L836.8 559.3 L836.9 557.3 L837.1 555.3 L837.2 553.3 L837.3 551.3 L837.5 549.3 L837.6 547.3 L837.7 545.3 L837.9 543.3 L838.0 541.3 L838.1 539.3 L838.3 537.3 L838.4 535.3 L838.5 533.3 L838.6 531.3 L838.8 529.3 L838.9 527.3 L839.0 525.3 L839.1 523.3 L839.3 521.3 L839.4 519.3 L839.5 517.3 L839.7 515.3 L839.8 513.3 L839.9 511.3 L840.0 509.3 L840.2 507.3 L840.3 505.3 L840.4 503.3 L840.5 501.3 L840.7 499.3 L840.8 497.3 L840.9 495.3 L841.1 493.3 L841.2 491.3 L841.3 489.3 L841.4 487.3 L841.6 485.3 L841.7 483.3 L841.8 481.3 L842.0 479.3 L842.1 477.3 L842.2 475.3 L842.4 473.3 L842.5 471.3 L842.7 469.3 L842.8 467.3 L842.9 465.3 L843.1 463.3 L843.2 461.3 L843.4 459.3 L843.5 457.3 L843.6 455.3 L843.8 453.3 L843.9 451.3 L844.1 449.3 L844.2 447.3 L844.4 445.3 L844.5 443.3 L844.7 441.3 L844.8 439.3 L845.0 437.3 L845.2 435.3 L845.3 433.3 L845.5 431.3 L845.7 429.3 L845.8 427.3 L846.0 425.3 L846.2 423.3 L846.3 421.3 L846.5 419.3 L846.7 417.3 L846.9 415.3 L847.0 413.3 L847.2 411.3 L847.4 409.3 L847.6 407.3 L847.8 405.3 L848.0 403.3 L848.2 401.3 L848.3 399.3 L848.5 397.3 L848.7 395.3 L849.0 393.3 L849.2 391.3 L849.4 389.3 L849.6 387.3 L849.8 385.3 L850.0 383.4 L850.2 381.4 L850.4 379.4 L850.7 377.4 L850.9 375.4 L851.1 373.4 L851.4 371.4 L851.6 369.4 L851.8 367.4 L852.1 365.4 L852.3 363.5 L852.6 361.5 L852.8 359.5 L853.1 357.5 L853.3 355.5 L853.6 353.5 L853.9 351.5 L854.1 349.5 L854.4 347.6 L854.7 345.6 L854.9 343.6 L855.2 341.6 L855.5 339.6 L855.8 337.7 L856.1 335.7 L856.4 333.7 L856.7 331.7 L857.0 329.7 L857.3 327.8 L857.6 325.8 L857.9 323.8 L858.3 321.8 L858.6 319.8 L858.9 317.9 L859.2 315.9 L859.6 313.9 L859.9 311.9 L860.3 310.0 L860.6 308.0 L861.0 306.0 L861.3 304.1 L861.7 302.1 L862.1 300.1 L862.4 298.1 L862.8 296.2 L863.2 294.2 L863.6 292.2 L864.0 290.3 L864.4 288.3 L864.8 286.3 L865.2 284.4 L865.6 282.4 L866.0 280.5 L866.4 278.5 L866.8 276.5 L867.3 274.6 L867.7 272.6 L868.1 270.7 L868.6 268.7 L869.0 266.7 L869.5 264.8 L869.9 262.8 L870.4 260.9 L870.9 258.9 L871.3 257.0 L871.8 255.0 L872.3 253.1 L872.8 251.1 L873.3 249.2 L873.8 247.2 L874.3 245.3 L874.8 243.3 L875.3 241.4 L875.8 239.4 L876.4 237.5 L876.9 235.6 L877.4 233.6 L877.9 231.7 L878.5 229.7 L879.0 227.8 L879.5 225.9 L880.1 223.9 L880.6 222.0 L881.2 220.1 L881.7 218.1 L882.3 216.2 L882.8 214.3 L883.4 212.4 L884.0 210.4 L884.5 208.5 L885.1 206.6 L885.6 204.7 L886.2 202.8 L886.8 200.8 L887.3 198.9 L887.9 197.0 L888.5 195.1 L889.1 193.2 L889.7 191.3 L890.3 189.4 L890.9 187.5 L891.5 185.6 L892.2 183.8 L892.9 181.9 L893.7 180.1 L894.4 178.3 L895.3 176.5 L896.1 174.7 L897.0 172.9 L897.8 171.1 L898.7 169.3 L899.6 167.5 L900.5 165.7 L901.4 163.9 L902.3 162.1 L903.2 160.3 L904.1 158.5 L905.0 156.7 L905.9 155.0 L906.8 153.2 L907.8 151.4 L908.7 149.6 L909.7 147.8 L910.6 146.1 L911.6 144.3 L912.5 142.5 L913.5 140.8 L914.5 139.0 L915.5 137.3 L916.5 135.6 L917.5 133.8 L918.6 132.1 L919.6 130.4 L920.6 128.7 L921.7 127.0 L922.8 125.3 L923.8 123.6 L924.9 121.9 L926.0 120.3 L927.2 118.6 L928.3 117.0 L929.4 115.3 L930.6 113.7 L931.8 112.1 L932.9 110.5 L934.1 108.9 L935.4 107.4 L936.6 105.8 L937.8 104.3 L939.1 102.7 L940.3 101.2 L941.6 99.7 L942.9 98.1 L944.2 96.6 L945.5 95.1 L946.8 93.6 L948.1 92.1 L949.4 90.6 L950.8 89.1 L952.1 87.6 L953.5 86.1 L954.9 84.6 L956.2 83.1 L957.6 81.6 L959.0 80.1 L960.4 78.6 L961.8 77.1 L963.2 75.6 L964.6 74.1 L966.0 72.5 L967.4 71.0 L968.9 69.5 L970.3 68.1 L971.8 66.8 L973.4 65.7 L975.0 64.7 L976.7 63.9 L978.4 63.4 L980.2 63.2 L982.1 63.2 L984.1 63.6 L986.1 64.2 L988.0 65.1 L989.8 66.2 L991.4 67.5 L992.8 69.0 L994.0 70.5 L995.1 72.2 L996.1 74.0 L997.0 75.8 L997.8 77.7 L998.6 79.5 L999.5 81.4 L1000.3 83.3 L1001.1 85.1 L1002.0 87.0 L1002.8 88.8 L1003.6 90.7 L1004.4 92.5 L1005.2 94.4 L1006.0 96.2 L1006.8 98.1 L1007.6 99.9 L1008.3 101.8 L1009.1 103.6 L1009.8 105.5 L1010.5 107.4 L1011.2 109.3 L1011.8 111.1 L1012.5 113.0 L1013.1 114.9 L1013.7 116.8 L1014.3 118.7 L1014.9 120.6 L1015.5 122.5 L1016.1 124.4 L1016.6 126.3 L1017.2 128.2 L1017.7 130.1 L1018.3 132.0 L1018.8 133.9 L1019.3 135.8 L1019.9 137.8 L1020.4 139.7 L1020.9 141.6 L1021.5 143.6 L1022.0 145.5 L1022.5 147.4 L1023.1 149.4 L1023.6 151.3 L1024.2 153.3 L1024.7 155.2 L1025.3 157.2 L1025.9 159.1 L1026.4 161.1 L1027.0 163.0 L1027.6 165.0 L1028.3 166.9 L1028.9 168.9 L1029.5 170.9 L1030.2 172.8 L1030.9 174.8 L1031.7 176.7 L1032.6 178.5 L1033.6 180.2 L1034.9 181.7 L1036.3 183.0 L1037.9 183.9 L1039.5 184.3 L1041.1 184.0 L1042.6 183.1 L1043.9 181.7 L1045.2 180.1 L1046.3 178.3 L1047.4 176.5 L1048.3 174.7 L1049.2 172.8 L1049.9 170.9 L1050.7 169.0 L1051.3 167.0 L1052.0 165.1 L1052.6 163.2 L1053.3 161.2 L1053.9 159.3 L1054.6 157.4 L1055.3 155.5 L1056.1 153.6 L1056.8 151.8 L1057.6 149.9 L1058.4 148.1 L1059.3 146.3 L1060.1 144.5 L1061.0 142.7 L1061.9 140.9 L1062.8 139.1 L1063.8 137.3 L1064.8 135.6 L1065.7 133.9 L1066.7 132.1 L1067.8 130.4 L1068.8 128.7 L1069.9 127.0 L1070.9 125.3 L1072.0 123.6 L1073.1 122.0 L1074.2 120.3 L1075.4 118.7 L1076.5 117.0 L1077.7 115.4 L1078.9 113.8 L1080.1 112.2 L1081.3 110.6 L1082.5 109.0 L1083.7 107.4 L1084.9 105.8 L1086.2 104.2 L1087.4 102.6 L1088.7 101.1 L1089.9 99.5 L1091.2 98.0 L1092.5 96.4 L1093.8 94.9 L1095.1 93.3 L1096.4 91.8 L1097.7 90.3 L1099.0 88.7 L1100.3 87.2 L1101.6 85.7 L1102.9 84.2 L1104.2 82.7 L1105.6 81.2 L1106.9 79.7 L1108.2 78.2 L1109.5 76.7 L1110.9 75.2 L1112.2 73.7 L1113.6 72.3 L1115.0 70.8 L1116.3 69.4 L1117.8 68.0 L1119.2 66.6 L1120.6 65.2 L1122.1 63.9 L1123.6 62.6 L1125.1 61.3 L1126.7 60.1 L1128.3 58.9 L1129.9 57.7 L1131.5 56.5 L1133.2 55.4 L1135.0 54.4 L1136.7 53.3 L1138.5 52.4 L1140.3 51.4 L1142.1 50.5 L1143.9 49.6 L1145.8 48.8 L1147.7 48.0 L1149.6 47.3 L1151.5 46.6 L1153.4 45.9 L1155.3 45.3 L1157.3 44.7 L1159.2 44.2 L1161.2 43.7 L1163.1 43.3 L1165.1 42.9 L1167.0 42.5 L1169.0 42.2 L1171.0 42.0 L1173.0 41.8 L1174.9 41.6 L1176.9 41.5 L1178.9 41.4 L1180.9 41.3 L1182.8 41.3 L1184.8 41.4 L1186.8 41.5 L1188.8 41.6 L1190.7 41.8 L1192.7 42.0 L1194.7 42.3 L1196.6 42.6 L1198.6 43.0 L1200.5 43.4 L1202.5 43.8 L1204.4 44.3 L1206.3 44.9 L1208.3 45.5 L1210.2 46.1 L1212.1 46.7 L1214.0 47.4 L1215.9 48.1 L1217.8 48.9 L1219.6 49.7 L1221.5 50.5 L1223.4 51.3 L1225.2 52.2 L1227.0 53.0 L1228.9 53.9 L1230.7 54.9 L1232.5 55.8 L1234.3 56.7 L1236.0 57.7 L1237.8 58.7 L1239.5 59.7 L1241.3 60.7 L1243.0 61.7 L1244.7 62.8 L1246.4 63.8 L1248.1 64.9 L1249.8 66.0 L1251.4 67.1 L1253.1 68.2 L1254.7 69.4 L1256.3 70.5 L1257.9 71.7 L1259.5 72.9 L1261.1 74.1 L1262.7 75.3 L1264.3 76.5 L1265.8 77.7 L1267.3 79.0 L1268.9 80.3 L1270.4 81.6 L1271.9 82.9 L1273.4 84.2 L1274.8 85.5 L1276.3 86.9 L1277.7 88.2 L1279.2 89.6 L1280.6 91.0 L1282.0 92.4 L1283.4 93.9 L1284.8 95.3 L1286.2 96.8 L1287.5 98.2 L1288.9 99.7 L1290.2 101.2 L1291.5 102.7 L1292.9 104.3 L1294.2 105.8 L1295.4 107.3 L1296.7 108.9 L1298.0 110.5 L1299.2 112.1 L1300.4 113.7 L1301.6 115.3 L1302.8 116.9 L1304.0 118.5 L1305.2 120.2 L1306.4 121.8 L1307.5 123.5 L1308.6 125.2 L1309.7 126.8 L1310.8 128.5 L1311.9 130.2 L1313.0 131.9 L1314.0 133.6 L1315.1 135.4 L1316.1 137.1 L1317.1 138.8 L1318.1 140.6 L1319.1 142.3 L1320.0 144.1 L1321.0 145.8 L1321.9 147.6 L1322.8 149.4 L1323.7 151.2 L1324.6 153.0 L1325.5 154.7 L1326.3 156.5 L1327.2 158.3 L1328.1 160.1 L1328.9 161.9 L1329.7 163.8 L1330.6 165.6 L1331.4 167.4 L1332.2 169.2 L1333.0 171.0 L1333.8 172.9 L1334.7 174.7 L1335.5 176.5 L1336.3 178.3 L1337.1 180.2 L1337.9 182.0 L1338.7 183.8 L1339.5 185.7 L1340.3 187.5 L1341.1 189.4 L1341.9 191.2 L1342.7 193.1 L1343.5 194.9 L1344.3 196.8 L1345.1 198.6 L1345.8 200.5 L1346.6 202.3 L1347.3 204.2 L1348.1 206.0 L1348.8 207.9 L1349.5 209.8 L1350.3 211.7 L1351.0 213.5 L1351.7 215.4 L1352.4 217.3 L1353.0 219.2 L1353.7 221.1 L1354.4 222.9 L1355.1 224.8 L1355.7 226.7 L1356.4 228.6 L1357.0 230.5 L1357.7 232.4 L1358.3 234.3 L1358.9 236.2 L1359.5 238.1 L1360.2 240.0 L1360.8 241.9 L1361.4 243.8 L1362.0 245.7 L1362.5 247.6 L1363.1 249.6 L1363.7 251.5 L1364.3 253.4 L1364.8 255.3 L1365.4 257.2 L1365.9 259.2 L1366.5 261.1 L1367.0 263.0 L1367.5 264.9 L1368.1 266.9 L1368.6 268.8 L1369.1 270.7 L1369.6 272.7 L1370.1 274.6 L1370.6 276.6 L1371.1 278.5 L1371.6 280.4 L1372.1 282.4 L1372.6 284.3 L1373.0 286.3 L1373.5 288.2 L1374.0 290.2 L1374.4 292.1 L1374.9 294.1 L1375.3 296.0 L1375.8 298.0 L1376.2 299.9 L1376.7 301.9 L1377.1 303.8 L1377.5 305.8 L1378.0 307.8 L1378.4 309.7 L1378.8 311.7 L1379.2 313.7 L1379.6 315.6 L1380.0 317.6 L1380.4 319.5 L1380.8 321.5 L1381.2 323.5 L1381.6 325.5 L1382.0 327.4 L1382.4 329.4 L1382.8 331.4 L1383.1 333.3 L1383.5 335.3 L1383.9 337.3 L1384.3 339.3 L1384.6 341.2 L1385.0 343.2 L1385.3 345.2 L1385.7 347.2 L1386.1 349.1 L1386.4 351.1 L1386.8 353.1 L1387.1 355.1 L1387.4 357.1 L1387.8 359.0 L1388.1 361.0 L1388.5 363.0 L1388.8 365.0 L1389.1 367.0 L1389.5 368.9 L1389.8 370.9 L1390.1 372.9 L1390.4 374.9 L1390.8 376.9 L1391.1 378.9 L1391.4 380.8 L1391.7 382.8 L1392.0 384.8 L1392.4 386.8 L1392.7 388.8 L1393.0 390.8 L1393.3 392.8 L1393.6 394.7 L1393.9 396.7 L1394.2 398.7 L1394.5 400.7 L1394.9 402.7 L1395.2 404.7 L1395.5 406.6 L1395.8 408.6 L1396.1 410.6 L1396.4 412.6 L1396.7 414.6 L1397.0 416.6 L1397.3 418.5 L1397.6 420.5 L1397.9 422.5 L1398.2 424.5 L1398.5 426.5 L1398.8 428.4 L1399.1 430.4 L1399.4 432.4 L1399.7 434.4 L1400.0 436.4 L1400.3 438.3 L1400.6 440.3 L1400.9 442.3 L1401.2 444.3 L1401.6 446.2 L1401.9 448.2 L1402.2 450.2 L1402.5 452.2 L1402.8 454.1 L1403.1 456.1 L1403.4 458.1 L1403.7 460.0 L1404.1 462.0 L1404.4 464.0 L1404.7 466.0 L1405.0 467.9 L1405.3 469.9" fill="none" stroke="#b2b2b2" stroke-width="5.33" stroke-linejoin="round" stroke-linecap="round" stroke-dasharray="12 8.8 0.01 8.8"/>
<path d="M126.4 233.0 L128.5 232.5 L130.6 232.3 L132.6 232.3 L134.6 232.5 L136.5 232.9 L138.3 233.4 L140.2 234.0 L142.0 234.7 L143.8 235.4 L145.6 236.2 L147.4 237.0 L149.3 237.8 L151.2 238.6 L153.1 239.3 L155.1 239.9 L157.1 240.6 L159.1 241.2 L161.1 241.9 L163.1 242.5 L165.0 243.2 L167.0 243.9 L168.9 244.6 L170.8 245.4 L172.7 246.2 L174.5 247.0 L176.3 248.0 L178.0 249.0 L179.6 250.1 L181.2 251.3 L182.7 252.5 L184.1 253.9 L185.5 255.2 L186.9 256.7 L188.2 258.2 L189.4 259.7 L190.6 261.3 L191.8 262.9 L192.9 264.6 L194.0 266.2 L195.1 267.9 L196.2 269.6 L197.2 271.4 L198.2 273.1 L199.2 274.9 L200.2 276.6 L201.1 278.4 L202.0 280.2 L203.0 282.0 L203.9 283.8 L204.7 285.6 L205.6 287.4 L206.4 289.2 L207.3 291.0 L208.1 292.9 L208.9 294.7 L209.6 296.6 L210.4 298.4 L211.2 300.3 L211.9 302.1 L212.6 304.0 L213.3 305.9 L214.0 307.8 L214.7 309.7 L215.4 311.6 L216.1 313.5 L216.7 315.4 L217.4 317.3 L218.0 319.2 L218.6 321.1 L219.3 323.1 L219.9 325.0 L220.5 326.9 L221.1 328.9 L221.6 330.8 L222.2 332.7 L222.8 334.7 L223.4 336.6 L223.9 338.6 L224.5 340.5 L225.0 342.5 L225.6 344.4 L226.1 346.4 L226.7 348.3 L227.2 350.3 L227.8 352.2 L228.3 354.2 L228.8 356.2 L229.4 358.1 L229.9 360.1 L230.4 362.0 L231.0 364.0 L231.5 365.9 L232.0 367.9 L232.6 369.8 L233.1 371.8 L233.7 373.7 L234.2 375.7 L234.8 377.6 L235.3 379.6 L235.9 381.5 L236.4 383.5 L237.0 385.4 L237.6 387.3 L238.2 389.2 L238.7 391.2 L239.3 393.1 L239.9 395.0 L240.5 396.9 L241.1 398.8 L241.7 400.8 L242.3 402.7 L242.8 404.6 L243.4 406.5 L244.0 408.4 L244.6 410.4 L245.1 412.3 L245.7 414.2 L246.3 416.1 L246.8 418.0 L247.4 420.0 L247.9 421.9 L248.4 423.8 L248.9 425.8 L249.4 427.7 L249.9 429.6 L250.4 431.6 L250.9 433.5 L251.4 435.5 L251.8 437.4 L252.2 439.4 L252.7 441.4 L253.1 443.4 L253.4 445.3 L253.8 447.3 L254.2 449.3 L254.5 451.3 L254.8 453.3 L255.2 455.3 L255.5 457.3 L255.8 459.3 L256.1 461.4 L256.4 463.4 L256.7 465.4 L257.0 467.4 L257.3 469.4 L257.6 471.4 L257.9 473.4 L258.2 475.4 L258.5 477.4 L258.9 479.4 L259.2 481.4 L259.5 483.4 L259.9 485.4 L260.3 487.4 L260.7 489.3 L261.1 491.3 L261.5 493.3 L262.0 495.2 L262.5 497.1 L263.0 499.1 L262.9 499.1 L266.4 494.4 L270.2 486.6 L270.0 486.5 L270.4 484.6 L270.8 482.6 L271.2 480.6 L271.6 478.7 L271.9 476.7 L272.3 474.7 L272.6 472.8 L273.0 470.8 L273.3 468.8 L273.6 466.8 L274.0 464.9 L274.3 462.9 L274.6 460.9 L274.9 458.9 L275.2 457.0 L275.5 455.0 L275.8 453.0 L276.1 451.0 L276.4 449.0 L276.7 447.0 L277.0 445.1 L277.3 443.1 L277.6 441.1 L277.8 439.1 L278.1 437.1 L278.4 435.1 L278.7 433.1 L278.9 431.1 L279.2 429.2 L279.5 427.2 L279.7 425.2 L280.0 423.2 L280.3 421.2 L280.5 419.2 L280.8 417.2 L281.1 415.2 L281.3 413.2 L281.6 411.2 L281.9 409.2 L282.1 407.3 L282.4 405.3 L282.7 403.3 L283.0 401.3 L283.2 399.3 L283.5 397.3 L283.8 395.3 L284.1 393.3 L284.4 391.4 L284.7 389.4 L285.0 387.4 L285.3 385.4 L285.6 383.4 L285.9 381.4 L286.2 379.5 L286.5 377.5 L286.8 375.5 L287.1 373.5 L287.5 371.6 L287.8 369.6 L288.2 367.6 L288.5 365.6 L288.9 363.7 L289.2 361.7 L289.6 359.7 L290.0 357.8 L290.4 355.8 L290.8 353.8 L291.2 351.9 L291.6 349.9 L292.0 348.0 L292.4 346.0 L292.8 344.1 L293.3 342.1 L293.7 340.2 L294.2 338.2 L294.7 336.3 L295.2 334.4 L295.6 332.4 L296.1 330.5 L296.6 328.5 L297.1 326.6 L297.7 324.7 L298.2 322.8 L298.7 320.8 L299.2 318.9 L299.8 317.0 L300.3 315.0 L300.9 313.1 L301.4 311.2 L302.0 309.3 L302.5 307.4 L303.1 305.4 L303.7 303.5 L304.3 301.6 L304.8 299.7 L305.4 297.8 L306.0 295.9 L306.6 293.9 L307.2 292.0 L307.8 290.1 L308.4 288.2 L308.9 286.3 L309.5 284.4 L310.1 282.5 L310.7 280.5 L311.3 278.6 L311.9 276.7 L312.5 274.8 L313.1 272.9 L313.7 271.0 L314.3 269.0 L314.9 267.1 L315.5 265.2 L316.1 263.3 L316.6 261.4 L317.2 259.5 L317.8 257.5 L318.4 255.6 L319.0 253.7 L319.5 251.8 L320.1 249.9 L320.7 247.9 L321.2 246.0 L321.8 244.1 L322.3 242.1 L322.9 240.2 L323.4 238.3 L323.9 236.3 L324.4 234.4 L325.0 232.5 L325.5 230.5 L326.0 228.6 L326.5 226.6 L327.0 224.7 L327.5 222.8 L327.9 220.8 L328.4 218.9 L328.9 216.9 L329.3 215.0 L329.8 213.0 L330.3 211.1 L330.7 209.1 L331.2 207.1 L331.6 205.2 L332.1 203.2 L332.5 201.3 L333.0 199.3 L333.4 197.4 L333.9 195.4 L334.3 193.4 L334.7 191.5 L335.2 189.5 L335.6 187.6 L336.1 185.6 L336.5 183.7 L337.0 181.7 L337.4 179.8 L337.9 177.8 L338.4 175.9 L338.8 173.9 L339.3 172.0 L339.8 170.0 L340.3 168.1 L340.7 166.1 L341.2 164.2 L341.7 162.2 L342.2 160.3 L342.7 158.4 L343.3 156.4 L343.8 154.5 L344.3 152.6 L344.9 150.7 L345.4 148.7 L346.0 146.8 L346.6 144.9 L347.2 143.0 L347.8 141.1 L348.4 139.2 L349.0 137.3 L349.6 135.4 L350.3 133.5 L350.9 131.6 L351.6 129.7 L352.3 127.8 L353.0 125.9 L353.7 124.1 L354.4 122.2 L355.1 120.3 L355.9 118.5 L356.7 116.6 L357.5 114.8 L358.4 113.0 L359.3 111.1 L360.2 109.3 L361.2 107.6 L362.2 105.8 L363.2 104.0 L364.4 102.3 L365.6 100.7 L366.9 99.2 L368.4 97.9 L370.0 96.7 L371.8 95.7 L373.7 95.1 L375.7 94.8 L377.6 94.9 L379.5 95.4 L381.3 96.2 L382.9 97.3 L384.4 98.7 L385.7 100.2 L387.0 101.9 L388.1 103.6 L389.2 105.4 L390.3 107.2 L391.2 109.0 L392.1 110.8 L393.0 112.6 L393.8 114.4 L394.6 116.3 L395.4 118.1 L396.2 119.9 L396.9 121.8 L397.6 123.7 L398.3 125.5 L399.0 127.4 L399.7 129.3 L400.4 131.1 L401.0 133.0 L401.7 134.9 L402.4 136.8 L403.0 138.7 L403.7 140.6 L404.3 142.5 L405.0 144.4 L405.6 146.3 L406.2 148.2 L406.9 150.1 L407.5 152.0 L408.1 153.9 L408.7 155.8 L409.4 157.7 L410.0 159.6 L410.6 161.5 L411.3 163.4 L411.9 165.3 L412.5 167.2 L413.2 169.1 L413.8 171.0 L414.5 172.9 L415.1 174.8 L415.8 176.7 L416.5 178.6 L417.1 180.5 L417.8 182.4 L418.5 184.3 L419.2 186.1 L419.9 188.0 L420.6 189.9 L421.4 191.7 L422.1 193.6 L422.9 195.5 L423.6 197.3 L424.4 199.2 L425.2 201.0 L426.0 202.8 L426.8 204.7 L427.6 206.5 L428.4 208.3 L429.3 210.1 L430.1 211.9 L430.9 213.8 L431.8 215.6 L432.6 217.4 L433.5 219.2 L434.3 221.0 L435.2 222.8 L436.1 224.6 L436.9 226.4 L437.8 228.2 L438.6 230.1 L439.5 231.9 L440.3 233.7 L441.1 235.5 L442.0 237.3 L442.8 239.2 L443.6 241.0 L444.4 242.8 L445.2 244.7 L446.0 246.5 L446.7 248.3 L447.5 250.2 L448.3 252.1 L449.0 253.9 L449.7 255.8 L450.4 257.6 L451.2 259.5 L451.9 261.4 L452.5 263.3 L453.2 265.2 L453.9 267.1 L454.6 268.9 L455.2 270.8 L455.9 272.7 L456.5 274.6 L457.1 276.5 L457.7 278.5 L458.3 280.4 L458.9 282.3 L459.5 284.2 L460.1 286.1 L460.7 288.0 L461.2 290.0 L461.8 291.9 L462.3 293.8 L462.9 295.8 L463.4 297.7 L463.9 299.6 L464.4 301.6 L464.9 303.5 L465.4 305.5 L465.9 307.4 L466.3 309.4 L466.8 311.3 L467.3 313.3 L467.7 315.3 L468.1 317.2 L468.6 319.2 L469.0 321.1 L469.4 323.1 L469.8 325.1 L470.2 327.0 L470.6 329.0 L471.0 331.0 L471.4 333.0 L471.7 334.9 L472.1 336.9 L472.4 338.9 L472.8 340.9 L473.1 342.9 L473.5 344.8 L473.8 346.8 L474.1 348.8 L474.4 350.8 L474.7 352.8 L475.0 354.7 L475.3 356.7 L475.6 358.7 L475.9 360.7 L476.1 362.7 L476.4 364.7 L476.7 366.6 L477.0 368.6 L477.2 370.6 L477.5 372.6 L477.8 374.6 L478.1 376.6 L478.3 378.5 L478.6 380.5 L478.9 382.5 L479.2 384.4 L479.5 386.4 L479.8 388.4 L480.1 390.4 L480.5 392.3 L480.8 394.3 L481.1 396.2 L481.5 398.2 L481.8 400.1 L482.2 402.1 L482.6 404.0 L483.0 406.0 L483.4 407.9 L483.8 409.8 L484.3 411.8 L484.7 413.7 L485.2 415.6 L485.7 417.5 L486.2 419.4 L486.8 421.3 L487.3 423.3 L487.9 425.2 L488.5 427.1 L489.1 429.0 L489.8 430.9 L490.4 432.8 L491.1 434.8 L491.9 436.7 L492.6 438.7 L493.4 440.6 L494.3 442.6 L495.1 444.6 L496.1 446.4 L497.3 448.1 L498.6 449.5 L500.2 450.6 L502.0 451.3 L503.9 451.6 L505.7 451.3 L507.4 450.5 L508.8 449.2 L510.1 447.7 L511.3 446.0 L512.4 444.1 L513.4 442.3 L514.3 440.4 L515.2 438.5 L516.0 436.6 L516.8 434.8 L517.5 432.9 L518.1 430.9 L518.7 429.0 L519.3 427.1 L519.9 425.2 L520.4 423.3 L520.9 421.3 L521.4 419.4 L521.9 417.5 L522.3 415.5 L522.8 413.6 L523.2 411.6 L523.7 409.7 L524.2 407.8 L524.6 405.8 L525.1 403.9 L525.7 402.0 L526.2 400.1 L526.8 398.1 L527.4 396.2 L528.1 394.3 L528.7 392.4 L529.4 390.5 L530.1 388.6 L530.8 386.7 L531.4 384.8 L532.1 382.9 L532.7 381.0 L533.3 379.1 L533.8 377.1 L534.3 375.2 L534.7 373.2 L535.0 371.3 L535.3 369.3 L535.6 367.3 L535.8 365.3 L536.0 363.3 L536.2 361.3 L536.4 359.3 L536.7 357.4 L536.9 355.4 L537.2 353.4 L537.5 351.4 L537.9 349.5 L538.3 347.5 L538.8 345.6 L539.3 343.6 L539.8 341.7 L540.4 339.8 L541.0 337.8 L541.7 335.9 L542.3 334.0 L543.0 332.1 L543.7 330.2 L544.4 328.3 L545.2 326.5 L545.9 324.6 L546.6 322.7 L547.4 320.8 L548.1 318.9 L548.9 317.1 L549.6 315.2 L550.4 313.4 L551.1 311.5 L551.9 309.7 L552.7 307.8 L553.5 306.0 L554.4 304.2 L555.2 302.4 L556.0 300.6 L556.9 298.8 L557.8 297.0 L558.7 295.2 L559.6 293.4 L560.6 291.7 L561.6 290.0 L562.5 288.2 L563.6 286.5 L564.6 284.8 L565.7 283.2 L566.8 281.5 L567.9 279.9 L569.1 278.2 L570.2 276.6 L571.4 275.0 L572.7 273.4 L573.9 271.8 L575.2 270.3 L576.4 268.7 L577.7 267.2 L579.0 265.6 L580.3 264.1 L581.7 262.6 L583.0 261.0 L584.4 259.5 L585.7 258.0 L587.1 256.5 L588.4 255.0 L589.8 253.5 L591.1 252.0 L592.5 250.5 L593.8 249.0 L595.2 247.5 L596.5 246.0 L597.9 244.5 L599.2 243.0 L600.5 241.6 L601.9 240.1 L603.2 238.6 L604.6 237.2 L606.0 235.8 L607.4 234.4 L608.8 233.0 L610.2 231.6 L611.7 230.3 L613.2 229.1 L614.7 227.8 L616.3 226.7 L618.0 225.5 L619.6 224.4 L621.4 223.4 L623.1 222.4 L624.9 221.4 L626.6 220.4 L628.4 219.4 L630.1 218.4 L631.8 217.4 L633.5 216.3 L635.1 215.1 L636.7 213.9 L638.1 212.6 L639.5 211.1 L640.8 209.6 L641.9 208.0 L643.0 206.3 L644.1 204.5 L645.0 202.6 L645.9 200.8 L646.8 198.9 L647.6 197.0 L648.4 195.1 L649.2 193.2 L650.0 191.3 L650.8 189.4 L651.6 187.6 L652.3 185.7 L653.1 183.9 L653.8 182.0 L654.5 180.2 L655.2 178.3 L655.9 176.5 L656.6 174.7 L657.3 172.8 L658.0 171.0 L658.7 169.1 L659.4 167.3 L660.0 165.4 L660.7 163.5 L661.4 161.6 L662.0 159.7 L662.7 157.8 L663.4 155.9 L664.0 154.0 L664.7 152.1 L665.4 150.2 L666.0 148.3 L666.7 146.4 L667.4 144.5 L668.1 142.6 L668.9 140.7 L669.6 138.8 L670.3 137.0 L671.1 135.1 L671.9 133.2 L672.6 131.4 L673.4 129.6 L674.3 127.7 L675.1 125.9 L676.0 124.2 L676.9 122.4 L677.8 120.7 L678.7 118.9 L679.7 117.2 L680.8 115.6 L681.9 113.9 L683.1 112.2 L684.3 110.6 L685.7 109.0 L687.2 107.4 L688.7 105.9 L690.4 104.6 L692.1 103.6 L693.9 103.0 L695.8 102.8 L697.7 102.9 L699.5 103.4 L701.4 104.1 L703.2 105.1 L704.9 106.3 L706.4 107.7 L707.8 109.2 L709.1 110.8 L710.2 112.5 L711.2 114.2 L712.1 116.0 L712.9 117.8 L713.7 119.7 L714.5 121.5 L715.2 123.4 L716.0 125.3 L716.7 127.1 L717.5 129.0 L718.3 130.9 L719.1 132.7 L719.9 134.6 L720.7 136.4 L721.5 138.3 L722.3 140.1 L723.1 141.9 L723.9 143.8 L724.7 145.6 L725.5 147.5 L726.2 149.3 L727.0 151.2 L727.8 153.0 L728.6 154.9 L729.3 156.7 L730.1 158.6 L730.8 160.4 L731.6 162.3 L732.3 164.1 L733.0 166.0 L733.7 167.9 L734.4 169.8 L735.0 171.6 L735.7 173.5 L736.3 175.4 L737.0 177.3 L737.6 179.2 L738.2 181.1 L738.8 183.0 L739.5 184.9 L740.1 186.8 L740.7 188.7 L741.3 190.6 L741.9 192.5 L742.5 194.4 L743.1 196.3 L743.7 198.2 L744.3 200.2 L744.9 202.1 L745.5 204.0 L746.1 205.9 L746.7 207.8 L747.3 209.7 L747.9 211.6 L748.5 213.5 L749.2 215.4 L749.8 217.3 L750.4 219.2 L751.0 221.1 L751.7 223.0 L752.3 224.9 L752.9 226.8 L753.5 228.7 L754.2 230.6 L754.8 232.5 L755.4 234.4 L756.0 236.3 L756.7 238.2 L757.3 240.1 L757.9 242.1 L758.6 244.0 L759.2 245.9 L759.8 247.8 L760.4 249.7 L761.1 251.6 L761.7 253.5 L762.3 255.4 L762.9 257.3 L763.5 259.2 L764.1 261.1 L764.8 263.0 L765.4 264.9 L766.0 266.9 L766.6 268.8 L767.2 270.7 L767.8 272.6 L768.4 274.5 L769.0 276.4 L769.6 278.3 L770.1 280.3 L770.7 282.2 L771.3 284.1 L771.9 286.0 L772.5 287.9 L773.0 289.8 L773.6 291.8 L774.2 293.7 L774.7 295.6 L775.3 297.5 L775.8 299.5 L776.4 301.4 L776.9 303.3 L777.4 305.3 L778.0 307.2 L778.5 309.1 L779.0 311.1 L779.5 313.0 L780.0 314.9 L780.5 316.9 L781.0 318.8 L781.5 320.7 L782.0 322.7 L782.5 324.6 L783.0 326.6 L783.4 328.5 L783.9 330.5 L784.4 332.4 L784.8 334.4 L785.3 336.3 L785.7 338.3 L786.1 340.2 L786.5 342.2 L787.0 344.2 L787.4 346.1 L787.8 348.1 L788.2 350.1 L788.6 352.0 L788.9 354.0 L789.3 356.0 L789.7 357.9 L790.0 359.9 L790.4 361.9 L790.7 363.9 L791.0 365.8 L791.4 367.8 L791.7 369.8 L792.0 371.8 L792.3 373.8 L792.6 375.8 L793.0 377.7 L793.3 379.7 L793.6 381.7 L793.9 383.7 L794.2 385.7 L794.5 387.7 L794.9 389.6 L795.2 391.6 L795.5 393.6 L795.9 395.6 L796.3 397.5 L796.6 399.5 L797.0 401.5 L797.4 403.4 L797.8 405.4 L798.2 407.4 L798.6 409.3 L799.1 411.3 L799.5 413.2 L800.0 415.1 L800.5 417.1 L801.0 419.0 L801.5 420.9 L802.1 422.8 L802.7 424.8 L803.3 426.7 L803.9 428.6 L804.5 430.5 L805.2 432.3 L805.9 434.2 L806.6 436.1 L807.4 438.0 L808.2 439.8 L809.0 441.7 L809.8 443.5 L810.7 445.3 L810.8 445.2 L811.5 443.3 L812.2 441.5 L812.9 439.6 L813.5 437.6 L814.2 435.7 L814.8 433.8 L815.4 431.9 L816.0 429.9 L816.5 428.0 L817.1 426.0 L817.6 424.1 L818.1 422.1 L818.6 420.1 L819.1 418.2 L819.6 416.2 L820.0 414.2 L820.5 412.2 L820.9 410.2 L821.4 408.2 L821.8 406.2 L822.2 404.3 L822.7 402.3 L823.1 400.3 L823.5 398.3 L823.9 396.3 L824.3 394.3 L824.7 392.3 L825.1 390.3 L825.5 388.3 L825.9 386.3 L826.3 384.3 L826.7 382.3 L827.1 380.3 L827.5 378.3 L827.9 376.3 L828.3 374.4 L828.8 372.4 L829.2 370.4 L829.6 368.4 L830.1 366.5 L830.5 364.5 L831.0 362.5 L831.4 360.6 L831.9 358.6 L832.4 356.7 L832.8 354.7 L833.3 352.8 L833.8 350.8 L834.3 348.9 L834.7 346.9 L835.2 345.0 L835.7 343.0 L836.2 341.1 L836.7 339.1 L837.2 337.1 L837.7 335.2 L838.2 333.2 L838.6 331.2 L839.1 329.3 L839.6 327.3 L840.1 325.3 L840.6 323.3 L841.1 321.4 L841.5 319.4 L842.0 317.4 L842.5 315.4 L843.0 313.4 L843.5 311.4 L844.0 309.4 L844.5 307.4 L845.0 305.4 L845.5 303.4 L846.0 301.4 L846.5 299.4 L847.1 297.5 L847.6 295.5 L848.2 293.5 L848.8 291.6 L849.4 289.6 L850.0 287.7 L850.7 285.7 L851.3 283.8 L852.0 281.9 L852.7 280.0 L853.4 278.1 L854.2 276.2 L854.9 274.4 L855.7 272.5 L856.6 270.7 L857.4 268.9 L858.3 267.1 L859.2 265.3 L860.2 263.5 L861.2 261.8 L862.2 260.1 L863.3 258.4 L864.4 256.7 L865.5 255.1 L866.7 253.4 L867.9 251.8 L869.1 250.3 L870.5 248.7 L871.8 247.2 L873.2 245.7 L874.7 244.3 L876.3 242.9 L876.5 243.2 L878.2 242.1 L880.0 241.2 L881.9 240.5 L883.7 239.8 L885.6 239.1 L887.5 238.6 L889.5 238.2 L891.4 237.7 L893.4 237.4 L895.4 237.0 L897.4 236.7 L899.4 236.4 L901.4 236.2 L903.4 235.8 L905.4 235.5 L907.3 235.2 L909.3 234.8 L911.2 234.4 L913.2 233.9 L915.1 233.4 L917.0 233.0 L919.0 232.5 L920.9 232.0 L922.8 231.6 L924.8 231.1 L926.7 230.7 L928.7 230.3 L930.7 230.0 L932.7 229.7 L934.7 229.5 L936.7 229.3 L938.8 229.2 L940.9 229.0 L942.9 228.9 L945.0 228.7 L947.0 228.5 L948.9 228.1 L950.7 227.6 L952.5 227.0 L954.2 226.1 L955.7 225.0 L957.2 223.8 L958.6 222.4 L959.9 220.9 L961.2 219.3 L962.3 217.6 L963.4 215.9 L964.5 214.2 L965.4 212.4 L966.4 210.6 L967.3 208.8 L968.1 206.9 L968.9 205.1 L969.7 203.2 L970.4 201.3 L971.2 199.4 L971.9 197.5 L972.5 195.6 L973.2 193.7 L973.8 191.8 L974.5 189.8 L975.1 187.9 L975.7 186.0 L976.4 184.1 L977.0 182.3 L977.7 180.4 L978.3 178.5 L979.0 176.7 L979.7 174.9 L980.4 173.0 L981.1 171.2 L981.8 169.4 L982.6 167.6 L983.3 165.8 L984.1 164.0 L984.8 162.1 L985.6 160.3 L986.3 158.5 L987.1 156.6 L987.8 154.8 L988.6 152.9 L989.4 151.0 L990.2 149.1 L990.9 147.1 L991.7 145.2 L992.6 143.3 L993.4 141.4 L994.3 139.5 L995.2 137.6 L996.1 135.8 L997.1 134.0 L998.2 132.2 L999.3 130.5 L1000.4 128.9 L1001.7 127.3 L1003.0 125.8 L1004.3 124.3 L1005.8 123.0 L1007.4 121.7 L1009.0 120.6 L1010.7 119.6 L1012.5 118.8 L1014.3 118.2 L1016.1 117.9 L1017.9 118.0 L1019.7 118.3 L1021.5 118.9 L1023.1 119.7 L1024.7 120.8 L1026.1 122.1 L1027.5 123.5 L1028.7 125.1 L1029.9 126.8 L1031.0 128.6 L1032.1 130.4 L1033.1 132.2 L1034.1 134.0 L1035.2 135.8 L1036.1 137.7 L1037.1 139.5 L1038.1 141.3 L1039.0 143.1 L1039.9 145.0 L1040.8 146.8 L1041.7 148.6 L1042.6 150.5 L1043.4 152.3 L1044.3 154.1 L1045.1 156.0 L1045.9 157.8 L1046.7 159.7 L1047.5 161.5 L1048.3 163.3 L1049.1 165.2 L1049.8 167.0 L1050.6 168.9 L1051.4 170.7 L1052.1 172.6 L1052.8 174.4 L1053.6 176.3 L1054.3 178.1 L1055.0 180.0 L1055.8 181.8 L1056.5 183.7 L1057.2 185.5 L1057.9 187.4 L1058.6 189.2 L1059.3 191.1 L1060.1 192.9 L1060.8 194.8 L1061.5 196.6 L1062.2 198.5 L1063.0 200.3 L1063.7 202.2 L1064.4 204.0 L1065.2 205.9 L1065.9 207.7 L1066.7 209.6 L1067.4 211.5 L1068.2 213.3 L1069.0 215.2 L1069.8 217.0 L1070.6 218.9 L1071.4 220.7 L1072.2 222.6 L1073.0 224.4 L1073.9 226.2 L1074.8 228.1 L1075.6 229.9 L1076.5 231.7 L1077.4 233.5 L1078.4 235.3 L1079.3 237.1 L1080.3 238.9 L1081.2 240.7 L1082.2 242.4 L1083.3 244.1 L1084.3 245.8 L1085.4 247.5 L1086.4 249.2 L1087.5 250.9 L1088.7 252.5 L1089.8 254.1 L1091.0 255.7 L1092.2 257.2 L1093.4 258.8 L1094.7 260.3 L1096.0 261.8 L1097.3 263.2 L1098.6 264.7 L1099.9 266.1 L1101.2 267.6 L1102.6 269.0 L1103.9 270.5 L1105.3 272.0 L1106.6 273.5 L1108.0 275.0 L1109.3 276.6 L1110.7 278.2 L1112.0 279.8 L1113.3 281.4 L1114.6 283.0 L1116.0 284.6 L1117.3 286.2 L1118.7 287.8 L1120.0 289.4 L1121.4 290.9 L1122.8 292.4 L1124.3 293.8 L1125.8 295.1 L1127.3 296.4 L1128.9 297.6 L1130.5 298.6 L1132.1 299.6 L1133.8 300.5 L1135.6 301.3 L1137.4 301.9 L1139.3 302.5 L1141.2 302.9 L1143.1 303.3 L1145.1 303.6 L1147.1 303.8 L1149.1 303.9 L1151.2 304.0 L1153.2 304.1 L1155.2 304.1 L1157.3 304.1 L1159.3 304.1 L1161.4 304.1 L1163.4 304.1 L1165.4 304.1 L1167.3 304.2 L1169.3 304.2 L1171.3 304.3 L1173.2 304.5 L1175.2 304.7 L1177.1 304.9 L1179.0 305.2 L1181.0 305.6 L1182.9 306.1 L1184.8 306.6 L1186.8 307.3 L1188.7 308.0 L1190.6 308.9 L1192.6 309.8 L1194.5 310.6 L1196.5 311.5 L1198.4 312.3 L1200.3 313.0 L1202.3 313.5 L1204.2 313.9 L1206.1 314.0 L1208.0 314.0 L1209.9 313.8 L1211.7 313.5 L1213.6 313.0 L1215.4 312.4 L1217.3 311.7 L1219.1 310.9 L1220.9 310.0 L1222.6 309.0 L1224.4 308.0 L1226.1 307.0 L1227.8 305.9 L1229.5 304.8 L1231.1 303.6 L1232.7 302.4 L1234.4 301.2 L1236.0 300.0 L1237.5 298.7 L1239.1 297.5 L1240.7 296.2 L1242.2 294.9 L1243.8 293.6 L1245.3 292.3 L1246.8 291.0 L1248.4 289.7 L1249.9 288.3 L1251.4 287.0 L1252.9 285.7 L1254.5 284.5 L1256.0 283.2 L1257.5 281.9 L1259.0 280.7 L1260.6 279.4 L1262.1 278.2 L1263.6 276.9 L1265.1 275.7 L1266.7 274.4 L1268.2 273.1 L1269.7 271.8 L1271.1 270.5 L1272.6 269.2 L1274.1 267.9 L1275.5 266.5 L1277.0 265.1 L1278.4 263.7 L1279.8 262.2 L1281.2 260.7 L1282.5 259.2 L1283.9 257.6 L1285.2 256.0 L1286.6 254.5 L1288.0 253.0 L1289.4 251.5 L1290.9 250.1 L1292.4 248.7 L1293.9 247.5 L1295.5 246.4 L1297.2 245.3 L1299.0 244.4 L1300.7 243.6 L1302.6 242.8 L1304.4 242.2 L1306.3 241.7 L1308.3 241.2 L1310.2 240.9 L1312.2 240.6 L1314.2 240.5 L1316.2 240.4 L1318.2 240.4 L1320.3 240.5 L1322.3 240.6 L1324.4 240.9 L1326.4 241.2 L1328.4 241.6 L1330.4 242.1 L1332.4 242.6 L1334.3 243.2 L1336.3 243.9 L1338.2 244.7 L1340.1 245.5 L1341.9 246.4 L1343.7 247.4 L1345.4 248.4 L1347.1 249.5 L1348.7 250.6 L1350.3 251.8 L1351.8 253.1 L1353.2 254.4 L1354.7 255.7 L1356.0 257.1 L1357.3 258.6 L1358.6 260.1 L1359.8 261.6 L1360.9 263.2 L1362.1 264.8 L1363.2 266.5 L1364.2 268.1 L1365.2 269.9 L1366.2 271.6 L1367.1 273.4 L1368.0 275.2 L1368.9 277.0 L1369.8 278.8 L1370.6 280.7 L1371.4 282.5 L1372.2 284.4 L1373.0 286.3 L1373.7 288.2 L1374.4 290.1 L1375.1 292.0 L1375.8 294.0 L1376.5 295.9 L1377.2 297.8 L1377.9 299.7 L1378.5 301.6 L1379.1 303.6 L1379.8 305.5 L1380.4 307.4 L1381.0 309.3 L1381.6 311.3 L1382.2 313.2 L1382.7 315.1 L1383.3 317.1 L1383.8 319.0 L1384.4 321.0 L1384.9 322.9 L1385.4 324.8 L1385.9 326.8 L1386.4 328.7 L1386.9 330.7 L1387.4 332.6 L1387.9 334.6 L1388.3 336.5 L1388.8 338.4 L1389.2 340.4 L1389.7 342.3 L1390.1 344.3 L1390.5 346.3 L1391.0 348.2 L1391.4 350.2 L1391.8 352.1 L1392.2 354.1 L1392.5 356.0 L1392.9 358.0 L1393.3 360.0 L1393.7 361.9 L1394.0 363.9 L1394.4 365.9 L1394.7 367.8 L1395.1 369.8 L1395.4 371.8 L1395.7 373.7 L1396.0 375.7 L1396.4 377.7 L1396.7 379.6 L1397.0 381.6 L1397.3 383.6 L1397.6 385.5 L1397.9 387.5 L1398.2 389.5 L1398.5 391.5 L1398.7 393.5 L1399.0 395.4 L1399.3 397.4 L1399.6 399.4 L1399.8 401.4 L1400.1 403.3 L1400.4 405.3 L1400.6 407.3 L1400.9 409.3 L1401.1 411.3 L1401.4 413.3 L1401.6 415.2 L1401.9 417.2 L1402.1 419.2 L1402.4 421.2 L1402.6 423.2 L1402.9 425.2 L1403.1 427.2 L1403.3 429.2 L1403.6 431.1 L1403.8 433.1 L1404.1 435.1 L1404.3 437.1 L1404.5 439.1 L1404.8 441.1 L1405.0 443.1 L1405.3 445.1 L1405.5 447.1 L1405.7 449.1 L1406.0 451.1 L1406.2 453.1 L1406.4 455.0 L1406.6 457.0 L1406.9 459.0 L1407.1 461.0 L1407.3 463.0 L1407.6 465.0 L1407.8 467.0 L1408.0 469.0 L1408.2 471.0 L1408.4 473.0 L1408.7 475.0 L1408.9 477.0 L1409.1 479.0 L1409.3 481.0 L1409.5 483.0 L1409.7 485.0 L1409.9 487.0 L1410.1 489.0 L1410.3 491.0 L1410.5 493.0 L1410.7 495.0 L1410.9 497.0 L1411.1 499.0 L1411.3 501.0 L1411.5 503.0 L1411.7 505.0 L1411.9 507.0 L1412.0 509.0 L1412.2 511.0 L1412.4 513.0 L1412.6 515.0 L1412.7 517.0 L1412.9 519.0 L1413.1 521.0 L1413.2 523.0 L1413.4 525.0 L1413.5 527.0 L1413.7 529.0 L1413.8 531.0 L1414.0 533.0 L1414.1 535.0 L1414.2 537.0 L1414.4 539.0 L1414.5 541.0 L1414.6 543.0 L1414.7 545.0 L1414.8 547.0 L1415.0 549.0 L1415.1 551.0 L1415.2 553.0 L1415.3 555.0 L1415.4 557.0 L1415.4 559.0 L1415.5 561.0 L1415.6 563.0 L1415.7 565.0 L1415.8 567.0 L1415.8 569.0 L1415.9 571.0 L1416.0 573.0 L1416.0 575.0 M1431.9 575.0 L1432.0 573.0 L1432.1 571.0 L1432.2 569.0 L1432.3 567.0 L1432.4 564.9 L1432.5 562.9 L1432.6 560.9 L1432.7 558.9 L1432.8 556.9 L1433.0 554.9 L1433.1 552.9 L1433.2 550.9 L1433.3 548.9 L1433.4 546.9 L1433.5 544.8 L1433.6 542.8 L1433.7 540.8 L1433.9 538.8 L1434.0 536.8 L1434.1 534.8 L1434.2 532.8 L1434.3 530.8 L1434.5 528.8 L1434.6 526.8 L1434.7 524.7 L1434.8 522.7 L1435.0 520.7 L1435.1 518.7 L1435.2 516.7 L1435.3 514.7 L1435.5 512.7 L1435.6 510.7 L1435.7 508.7 L1435.9 506.7 L1436.0 504.7 L1436.1 502.6 L1436.3 500.6 L1436.4 498.6 L1436.6 496.6 L1436.7 494.6 L1436.8 492.6 L1437.0 490.6 L1437.1 488.6 L1437.3 486.6 L1437.4 484.6 L1437.6 482.6 L1437.7 480.5 L1437.9 478.5 L1438.0 476.5 L1438.2 474.5 L1438.3 472.5 L1438.5 470.5 L1438.7 468.5 L1438.8 466.5 L1439.0 464.5 L1439.1 462.5 L1439.3 460.5 L1439.5 458.5 L1439.6 456.5 L1439.8 454.4 L1440.0 452.4 L1440.1 450.4 L1440.3 448.4 L1440.5 446.4 L1440.7 444.4 L1440.9 442.4 L1441.0 440.4 L1441.2 438.4 L1441.4 436.4 L1441.6 434.4 L1441.8 432.4 L1442.0 430.4 L1442.1 428.4 L1442.3 426.4 L1442.5 424.4 L1442.7 422.4 L1442.9 420.4 L1443.1 418.3 L1443.3 416.3 L1443.5 414.3 L1443.7 412.3 L1443.9 410.3 L1444.1 408.3 L1444.3 406.3 L1444.6 404.3 L1444.8 402.3 L1445.0 400.3 L1445.2 398.3 L1445.4 396.3 L1445.6 394.3 L1445.9 392.3 L1446.1 390.3 L1446.3 388.3 L1446.5 386.3 L1446.8 384.3 L1447.0 382.3 L1447.2 380.3 L1447.5 378.3 L1447.7 376.3 L1447.9 374.3 L1448.2 372.3 L1448.4 370.3 L1448.7 368.3 L1448.9 366.3 L1449.2 364.3 L1449.4 362.3 L1449.7 360.3 L1449.9 358.3 L1450.2 356.3 L1450.4 354.3 L1450.7 352.3 L1451.0 350.3 L1451.2 348.3 L1451.5 346.4 L1451.8 344.4 L1452.0 342.4 L1452.3 340.4 L1452.6 338.4 L1452.9 336.4 L1453.1 334.4 L1453.4 332.4 L1453.7 330.4 L1454.0 328.4 L1454.3 326.4 L1454.6 324.4 L1454.9 322.4 L1455.2 320.4 L1455.5 318.4 L1455.8 316.5 L1456.1 314.5 L1456.4 312.5 L1456.7 310.5 L1457.0 308.5 L1457.3 306.5 L1457.6 304.5 L1457.9 302.5 L1458.3 300.5 L1458.6 298.6 L1458.9 296.6 L1459.2 294.6 L1459.6 292.6 L1459.9 290.6 L1460.2 288.6 L1460.6 286.6 L1460.9 284.7 L1461.2 282.7 L1461.6 280.7 L1461.9 278.7 L1462.3 276.7 L1462.6 274.7 L1463.0 272.8 L1463.4 270.8 L1463.7 268.8 L1464.1 266.8 L1464.5 264.8 L1464.8 262.9 L1465.2 260.9 L1465.6 258.9 L1466.0 256.9 L1466.3 255.0 L1466.7 253.0 L1467.1 251.0 L1467.5 249.0 L1467.9 247.1 L1468.3 245.1 L1468.7 243.1 L1469.1 241.1 L1469.5 239.2 L1469.9 237.2 L1470.4 235.2 L1470.8 233.3 L1471.2 231.3 L1471.6 229.3 L1472.1 227.4 L1472.5 225.4 L1473.0 223.4 L1473.4 221.5 L1473.9 219.5 L1474.3 217.6 L1474.8 215.6 L1475.2 213.6 L1475.7 211.7 L1476.1 209.7 L1476.6 207.8 L1477.1 205.8 L1477.6 203.9 L1478.1 201.9 L1478.5 200.0 L1479.0 198.0 L1479.5 196.0 L1480.0 194.1 L1480.5 192.1 L1481.0 190.2 L1481.5 188.3 L1482.0 186.3 L1482.5 184.4 L1483.0 182.4 L1483.6 180.5 L1484.1 178.5 L1484.6 176.6 L1485.1 174.6 L1485.6 172.7 L1486.2 170.8 L1486.7 168.8 L1487.2 166.9 L1487.8 164.9 L1488.3 163.0 L1488.9 161.1 L1489.4 159.1 L1489.9 157.2 L1490.5 155.2 L1491.0 153.3 L1491.6 151.4" fill="none" stroke="#b2b2b2" stroke-width="5.33" stroke-linejoin="round"/>
<path d="M1489.3 336.10L1487.7 351.70 M1485.6 367.90L1484.0 384.00 M1482.3 400.00L1480.7 415.60 M1479.1 431.80L1477.5 447.30 M1476.8 464.00L1475.9 479.50 M1475.2 496.00L1474.5 511.60 M1473.5 528.00L1472.4 545.00" fill="none" stroke="#b2b2b2" stroke-width="5.33" stroke-linecap="butt"/>
<path d="M1491.5 323.00L1491.5 323.01 M1477.5 451.80L1477.5 451.81 M1450.2 512.00L1450.2 528.90" fill="none" stroke="#b2b2b2" stroke-width="5.33" stroke-linecap="round"/>
<path d="M1453.6 515.00L1459.4 539.00" fill="none" stroke="#000" stroke-width="5.33" stroke-linecap="butt"/>
<path d="M604.1 15.8V543.8" stroke="#f00" stroke-width="2" fill="none"/>
<path d="M1081.8 15.8V543.8" stroke="#f00" stroke-width="2" fill="none"/>
</g>
<path d="M126.4 543.8v-13.6M126.4 15.8v13.6 M297.0 543.8v-13.6M297.0 15.8v13.6 M467.6 543.8v-13.6M467.6 15.8v13.6 M638.2 543.8v-13.6M638.2 15.8v13.6 M808.8 543.8v-13.6M808.8 15.8v13.6 M979.4 543.8v-13.6M979.4 15.8v13.6 M1150.0 543.8v-13.6M1150.0 15.8v13.6 M1320.6 543.8v-13.6M1320.6 15.8v13.6 M1491.2 543.8v-13.6M1491.2 15.8v13.6 M126.4 15.8h13.6M1491.2 15.8h-13.6 M126.4 121.4h13.6M1491.2 121.4h-13.6 M126.4 227.0h13.6M1491.2 227.0h-13.6 M126.4 332.6h13.6M1491.2 332.6h-13.6 M126.4 438.2h13.6M1491.2 438.2h-13.6 M126.4 543.8h13.6M1491.2 543.8h-13.6" stroke="#161616" stroke-width="1.5" fill="none"/>
<rect x="126.4" y="15.8" width="1364.8" height="528.0" fill="none" stroke="#161616" stroke-width="1.5"/>
<g font-family="'Liberation Serif', 'Times New Roman', serif" font-size="37.3" fill="#000">
<text x="125.6" y="593.4" text-anchor="middle">1</text>
<text x="296.2" y="593.4" text-anchor="middle">1.5</text>
<text x="466.8" y="593.4" text-anchor="middle">2</text>
<text x="637.4" y="593.4" text-anchor="middle">2.5</text>
<text x="808.0" y="593.4" text-anchor="middle">3</text>
<text x="978.6" y="593.4" text-anchor="middle">3.5</text>
<text x="1149.2" y="593.4" text-anchor="middle">4</text>
<text x="1319.8" y="593.4" text-anchor="middle">4.5</text>
<text x="1490.4" y="593.4" text-anchor="middle">5</text>
<text x="112.6" y="29.5" text-anchor="end">0</text>
<text x="112.6" y="135.1" text-anchor="end"><tspan dy="1.2">-</tspan><tspan dy="-1.2">5</tspan></text>
<text x="112.6" y="240.7" text-anchor="end"><tspan dy="1.2">-</tspan><tspan dy="-1.2">10</tspan></text>
<text x="112.6" y="346.3" text-anchor="end"><tspan dy="1.2">-</tspan><tspan dy="-1.2">15</tspan></text>
<text x="112.6" y="451.9" text-anchor="end"><tspan dy="1.2">-</tspan><tspan dy="-1.2">20</tspan></text>
<text x="112.6" y="557.5" text-anchor="end"><tspan dy="1.2">-</tspan><tspan dy="-1.2">25</tspan></text>
</g>
<g font-family="'Liberation Serif', 'Times New Roman', serif" font-size="41.3" fill="#000">
<text x="807.5" y="639.8" text-anchor="middle">Frequency [GHz]</text>
<text transform="translate(35.2 279.8) rotate(-90)" text-anchor="middle">S-parameters [dB]</text>
</g>
<rect x="1226.2" y="293.0" width="243.1" height="228.6" fill="#fff" stroke="#161616" stroke-width="1.5"/>
<path d="M1234.0 324.0H1311.0" fill="none" stroke="#000" stroke-width="5.33" stroke-dasharray="4.2 3.8"/>
<path d="M1234.0 379.6H1314.4" fill="none" stroke="#000" stroke-width="5.33" stroke-dasharray="16.2 15.9"/>
<path d="M1234.0 435.0H1314.4" fill="none" stroke="#000" stroke-width="5.33" stroke-dasharray="16.2 15.9"/>
<path d="M1234.0 489.6H1314.4" fill="none" stroke="#000" stroke-width="5.33"/>
<text x="1321.2" y="330.0" font-family="'Liberation Serif', 'Times New Roman', serif" font-size="33.6" fill="#000">|<tspan font-style="italic" dx="0.6">S</tspan><tspan font-size="26.0" dy="15" dx="1.6">11</tspan><tspan dy="-15" dx="1.4">|</tspan></text>
<text x="1321.2" y="385.6" font-family="'Liberation Serif', 'Times New Roman', serif" font-size="33.6" fill="#000">|<tspan font-style="italic" dx="0.6">S</tspan><tspan font-size="26.0" dy="15" dx="1.6">21</tspan><tspan dy="-15" dx="1.4">|</tspan>,<tspan dx="1"> </tspan>|<tspan font-style="italic" dx="0.6">S</tspan><tspan font-size="26.0" dy="15" dx="1.6">31</tspan><tspan dy="-15" dx="1.4">|</tspan></text>
<text x="1321.2" y="441.0" font-family="'Liberation Serif', 'Times New Roman', serif" font-size="33.6" fill="#000">|<tspan font-style="italic" dx="0.6">S</tspan><tspan font-size="26.0" dy="15" dx="1.6">22</tspan><tspan dy="-15" dx="1.4">|</tspan>,<tspan dx="1"> </tspan>|<tspan font-style="italic" dx="0.6">S</tspan><tspan font-size="26.0" dy="15" dx="1.6">33</tspan><tspan dy="-15" dx="1.4">|</tspan></text>
<text x="1321.2" y="495.6" font-family="'Liberation Serif', 'Times New Roman', serif" font-size="33.6" fill="#000">|<tspan font-style="italic" dx="0.6">S</tspan><tspan font-size="26.0" dy="15" dx="1.6">23</tspan><tspan dy="-15" dx="1.4">|</tspan></text>
</svg>
</body>
</html>
